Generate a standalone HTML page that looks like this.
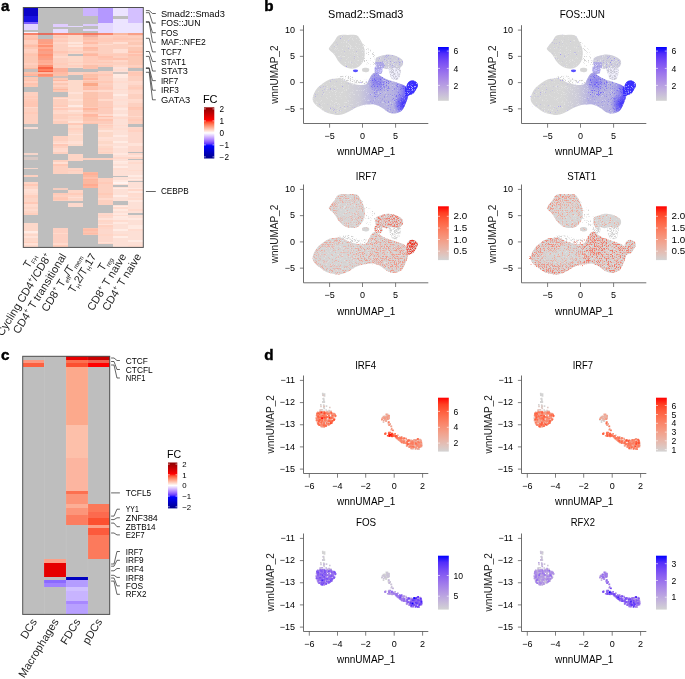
<!DOCTYPE html><html><head><meta charset="utf-8"><style>html,body{margin:0;padding:0;background:#fff;}svg{display:block;font-family:"Liberation Sans",sans-serif;will-change:transform;}</style></head><body><svg width="685" height="679" viewBox="0 0 685 679"><text x="1.10" y="11.20" font-size="15.2" font-weight="bold" fill="#000" stroke="#000" stroke-width="0.45">a</text>
<text x="264.20" y="11.20" font-size="15.2" font-weight="bold" fill="#000" stroke="#000" stroke-width="0.45">b</text>
<text x="1.10" y="359.50" font-size="15.2" font-weight="bold" fill="#000" stroke="#000" stroke-width="0.45">c</text>
<text x="264.20" y="359.70" font-size="15.2" font-weight="bold" fill="#000" stroke="#000" stroke-width="0.45">d</text>
<g shape-rendering="crispEdges">
<rect x="23.30" y="7.50" width="15.00" height="8.50" fill="#0c04c8"/>
<rect x="23.30" y="16.00" width="15.00" height="5.80" fill="#1a12e2"/>
<rect x="23.30" y="21.80" width="15.00" height="1.70" fill="#7b5cff"/>
<rect x="23.30" y="23.50" width="15.00" height="6.50" fill="#e2d4ff"/>
<rect x="23.30" y="30.00" width="15.00" height="1.70" fill="#bebebe"/>
<rect x="23.30" y="31.70" width="15.00" height="1.20" fill="#f4f0ff"/>
<rect x="23.30" y="32.90" width="15.00" height="2.10" fill="#f8826a"/>
<rect x="23.30" y="35.00" width="15.00" height="32.50" fill="#fcc8b4"/>
<rect x="23.30" y="36.30" width="15.00" height="1.80" fill="#ffc4b0"/>
<rect x="23.30" y="38.10" width="15.00" height="1.80" fill="#ffc0ab"/>
<rect x="23.30" y="39.90" width="15.00" height="1.80" fill="#ffcfbe"/>
<rect x="23.30" y="41.70" width="15.00" height="1.80" fill="#ffcfbf"/>
<rect x="23.30" y="45.30" width="15.00" height="1.80" fill="#ffbda7"/>
<rect x="23.30" y="48.90" width="15.00" height="1.80" fill="#ffd1c2"/>
<rect x="23.30" y="50.70" width="15.00" height="1.80" fill="#ffcfbe"/>
<rect x="23.30" y="54.30" width="15.00" height="1.80" fill="#ffc3ae"/>
<rect x="23.30" y="63.30" width="15.00" height="1.80" fill="#ffcebe"/>
<rect x="23.30" y="67.50" width="15.00" height="1.50" fill="#f9b8a0"/>
<rect x="23.30" y="69.00" width="15.00" height="2.60" fill="#c8bebb"/>
<rect x="23.30" y="71.60" width="15.00" height="4.40" fill="#fcc0a8"/>
<rect x="23.30" y="74.10" width="15.00" height="1.80" fill="#ffb59d"/>
<rect x="23.30" y="76.00" width="15.00" height="1.30" fill="#bebebe"/>
<rect x="23.30" y="77.30" width="15.00" height="9.70" fill="#fcc8b4"/>
<rect x="23.30" y="79.50" width="15.00" height="1.80" fill="#ffc2ae"/>
<rect x="23.30" y="81.30" width="15.00" height="1.80" fill="#ffd0c0"/>
<rect x="23.30" y="83.10" width="15.00" height="1.80" fill="#ffc3af"/>
<rect x="23.30" y="87.00" width="15.00" height="4.60" fill="#bebebe"/>
<rect x="23.30" y="91.60" width="15.00" height="32.40" fill="#fdd0c0"/>
<rect x="23.30" y="95.70" width="15.00" height="1.80" fill="#ffcbb9"/>
<rect x="23.30" y="99.30" width="15.00" height="1.80" fill="#ffcab8"/>
<rect x="23.30" y="101.10" width="15.00" height="1.80" fill="#ffc7b4"/>
<rect x="23.30" y="102.90" width="15.00" height="1.80" fill="#ffc6b3"/>
<rect x="23.30" y="104.70" width="15.00" height="1.80" fill="#ffc6b3"/>
<rect x="23.30" y="106.50" width="15.00" height="1.80" fill="#ffd9cc"/>
<rect x="23.30" y="111.90" width="15.00" height="1.80" fill="#ffcbb9"/>
<rect x="23.30" y="124.00" width="15.00" height="3.00" fill="#bebebe"/>
<rect x="23.30" y="127.00" width="15.00" height="1.50" fill="#f8dcd4"/>
<rect x="23.30" y="128.50" width="15.00" height="24.50" fill="#bebebe"/>
<rect x="23.30" y="153.00" width="15.00" height="1.50" fill="#f5d5ca"/>
<rect x="23.30" y="154.50" width="15.00" height="2.20" fill="#bebebe"/>
<rect x="23.30" y="156.70" width="15.00" height="3.70" fill="#d8c8c4"/>
<rect x="23.30" y="160.40" width="15.00" height="7.10" fill="#bebebe"/>
<rect x="23.30" y="167.50" width="15.00" height="1.50" fill="#f5d5ca"/>
<rect x="23.30" y="169.00" width="15.00" height="6.40" fill="#bebebe"/>
<rect x="23.30" y="175.40" width="15.00" height="2.00" fill="#fdd0c0"/>
<rect x="23.30" y="177.40" width="15.00" height="4.40" fill="#bebebe"/>
<rect x="23.30" y="181.80" width="15.00" height="32.90" fill="#fdd5c6"/>
<rect x="23.30" y="183.90" width="15.00" height="1.80" fill="#ffc8b5"/>
<rect x="23.30" y="189.30" width="15.00" height="1.80" fill="#ffe0d5"/>
<rect x="23.30" y="191.10" width="15.00" height="1.80" fill="#ffded2"/>
<rect x="23.30" y="192.90" width="15.00" height="1.80" fill="#ffdacd"/>
<rect x="23.30" y="194.70" width="15.00" height="1.80" fill="#ffd0bf"/>
<rect x="23.30" y="196.50" width="15.00" height="1.80" fill="#ffd0c0"/>
<rect x="23.30" y="201.90" width="15.00" height="1.80" fill="#ffc9b7"/>
<rect x="23.30" y="203.70" width="15.00" height="1.80" fill="#ffdbce"/>
<rect x="23.30" y="205.50" width="15.00" height="1.80" fill="#ffdacd"/>
<rect x="23.30" y="209.10" width="15.00" height="1.80" fill="#ffdbce"/>
<rect x="23.30" y="212.70" width="15.00" height="1.80" fill="#ffcfbe"/>
<rect x="23.30" y="214.70" width="15.00" height="8.30" fill="#bebebe"/>
<rect x="23.30" y="223.00" width="15.00" height="24.40" fill="#fdd8ca"/>
<rect x="23.30" y="230.70" width="15.00" height="1.80" fill="#ffece5"/>
<rect x="23.30" y="232.50" width="15.00" height="1.80" fill="#ffe0d5"/>
<rect x="23.30" y="236.10" width="15.00" height="1.80" fill="#ffe2d8"/>
<rect x="23.30" y="241.50" width="15.00" height="1.80" fill="#ffd1c0"/>
<rect x="23.30" y="243.30" width="15.00" height="1.80" fill="#ffe1d6"/>
<rect x="38.30" y="7.50" width="15.00" height="25.40" fill="#bebebe"/>
<rect x="38.30" y="32.90" width="15.00" height="1.90" fill="#e46e5f"/>
<rect x="38.30" y="34.80" width="15.00" height="4.00" fill="#bebebe"/>
<rect x="38.30" y="38.80" width="15.00" height="28.20" fill="#faa087"/>
<rect x="38.30" y="41.70" width="15.00" height="1.80" fill="#ff9f82"/>
<rect x="38.30" y="43.50" width="15.00" height="1.80" fill="#ffb198"/>
<rect x="38.30" y="45.30" width="15.00" height="1.80" fill="#ff9273"/>
<rect x="38.30" y="47.10" width="15.00" height="1.80" fill="#ffab91"/>
<rect x="38.30" y="48.90" width="15.00" height="1.80" fill="#ff997c"/>
<rect x="38.30" y="54.30" width="15.00" height="1.80" fill="#ff9375"/>
<rect x="38.30" y="56.10" width="15.00" height="1.80" fill="#ff9d80"/>
<rect x="38.30" y="59.70" width="15.00" height="1.80" fill="#ffad94"/>
<rect x="38.30" y="61.50" width="15.00" height="1.80" fill="#ffaa90"/>
<rect x="38.30" y="63.30" width="15.00" height="1.80" fill="#ffb199"/>
<rect x="38.30" y="65.10" width="15.00" height="1.80" fill="#ff9071"/>
<rect x="38.30" y="67.00" width="15.00" height="4.60" fill="#f86446"/>
<rect x="38.30" y="68.70" width="15.00" height="1.80" fill="#ff805f"/>
<rect x="38.30" y="71.60" width="15.00" height="5.60" fill="#fa9a80"/>
<rect x="38.30" y="72.30" width="15.00" height="1.80" fill="#ffb7a0"/>
<rect x="38.30" y="74.10" width="15.00" height="1.80" fill="#ff8d6d"/>
<rect x="38.30" y="77.20" width="15.00" height="170.20" fill="#bebebe"/>
<rect x="53.30" y="7.50" width="15.00" height="16.10" fill="#bebebe"/>
<rect x="53.30" y="23.60" width="15.00" height="3.40" fill="#e0ccff"/>
<rect x="53.30" y="27.00" width="15.00" height="1.50" fill="#bebebe"/>
<rect x="53.30" y="28.50" width="15.00" height="4.50" fill="#e8dcff"/>
<rect x="53.30" y="33.00" width="15.00" height="2.00" fill="#f8826a"/>
<rect x="53.30" y="35.00" width="15.00" height="32.50" fill="#fdd0c0"/>
<rect x="53.30" y="36.30" width="15.00" height="1.80" fill="#ffc8b6"/>
<rect x="53.30" y="39.90" width="15.00" height="1.80" fill="#ffcbba"/>
<rect x="53.30" y="41.70" width="15.00" height="1.80" fill="#ffd6c8"/>
<rect x="53.30" y="50.70" width="15.00" height="1.80" fill="#ffc6b3"/>
<rect x="53.30" y="52.50" width="15.00" height="1.80" fill="#ffccbb"/>
<rect x="53.30" y="56.10" width="15.00" height="1.80" fill="#ffd9cb"/>
<rect x="53.30" y="63.30" width="15.00" height="1.80" fill="#ffccba"/>
<rect x="53.30" y="67.50" width="15.00" height="4.10" fill="#fbb09a"/>
<rect x="53.30" y="71.60" width="15.00" height="4.40" fill="#fcc0a8"/>
<rect x="53.30" y="72.30" width="15.00" height="1.80" fill="#ffbba5"/>
<rect x="53.30" y="76.00" width="15.00" height="2.00" fill="#d0c0bc"/>
<rect x="53.30" y="78.00" width="15.00" height="13.80" fill="#fcc8b4"/>
<rect x="53.30" y="79.50" width="15.00" height="1.80" fill="#ffb9a2"/>
<rect x="53.30" y="81.30" width="15.00" height="1.80" fill="#ffd5c7"/>
<rect x="53.30" y="84.90" width="15.00" height="1.80" fill="#ffd2c2"/>
<rect x="53.30" y="88.50" width="15.00" height="1.80" fill="#ffb7a0"/>
<rect x="53.30" y="91.80" width="15.00" height="4.70" fill="#bebebe"/>
<rect x="53.30" y="96.50" width="15.00" height="27.50" fill="#fdcfbe"/>
<rect x="53.30" y="97.50" width="15.00" height="1.80" fill="#ffdccf"/>
<rect x="53.30" y="104.70" width="15.00" height="1.80" fill="#ffcbb9"/>
<rect x="53.30" y="106.50" width="15.00" height="1.80" fill="#ffdbce"/>
<rect x="53.30" y="108.30" width="15.00" height="1.80" fill="#ffcab9"/>
<rect x="53.30" y="110.10" width="15.00" height="1.80" fill="#ffd7c9"/>
<rect x="53.30" y="111.90" width="15.00" height="1.80" fill="#ffd9cb"/>
<rect x="53.30" y="119.10" width="15.00" height="1.80" fill="#ffd6c8"/>
<rect x="53.30" y="124.00" width="15.00" height="11.60" fill="#bebebe"/>
<rect x="53.30" y="135.60" width="15.00" height="18.40" fill="#fdd0c0"/>
<rect x="53.30" y="140.70" width="15.00" height="1.80" fill="#ffd8ca"/>
<rect x="53.30" y="142.50" width="15.00" height="1.80" fill="#ffe0d5"/>
<rect x="53.30" y="144.30" width="15.00" height="1.80" fill="#ffc8b6"/>
<rect x="53.30" y="147.90" width="15.00" height="1.80" fill="#ffd9cc"/>
<rect x="53.30" y="149.70" width="15.00" height="1.80" fill="#ffdbcf"/>
<rect x="53.30" y="154.00" width="15.00" height="6.40" fill="#bebebe"/>
<rect x="53.30" y="160.40" width="15.00" height="13.10" fill="#fdd0c0"/>
<rect x="53.30" y="162.30" width="15.00" height="1.80" fill="#ffdfd3"/>
<rect x="53.30" y="164.10" width="15.00" height="1.80" fill="#ffc8b5"/>
<rect x="53.30" y="173.50" width="15.00" height="14.50" fill="#bebebe"/>
<rect x="53.30" y="188.00" width="15.00" height="2.00" fill="#f5cdc0"/>
<rect x="53.30" y="190.00" width="15.00" height="2.70" fill="#bebebe"/>
<rect x="53.30" y="192.70" width="15.00" height="8.30" fill="#fdd0c0"/>
<rect x="53.30" y="192.90" width="15.00" height="1.80" fill="#ffcab8"/>
<rect x="53.30" y="196.50" width="15.00" height="1.80" fill="#ffc9b6"/>
<rect x="53.30" y="198.30" width="15.00" height="1.80" fill="#ffc7b4"/>
<rect x="53.30" y="201.00" width="15.00" height="27.00" fill="#bebebe"/>
<rect x="53.30" y="228.00" width="15.00" height="19.40" fill="#fdd0c2"/>
<rect x="53.30" y="232.50" width="15.00" height="1.80" fill="#ffd9cb"/>
<rect x="53.30" y="243.30" width="15.00" height="1.80" fill="#ffdacd"/>
<rect x="53.30" y="245.10" width="15.00" height="1.80" fill="#ffccba"/>
<rect x="68.30" y="7.50" width="15.00" height="18.00" fill="#bebebe"/>
<rect x="68.30" y="25.50" width="15.00" height="1.50" fill="#e4d8ff"/>
<rect x="68.30" y="27.00" width="15.00" height="6.00" fill="#bebebe"/>
<rect x="68.30" y="33.00" width="15.00" height="2.00" fill="#f8866e"/>
<rect x="68.30" y="35.00" width="15.00" height="19.00" fill="#fdd8c8"/>
<rect x="68.30" y="41.70" width="15.00" height="1.80" fill="#ffe5db"/>
<rect x="68.30" y="45.30" width="15.00" height="1.80" fill="#ffe4da"/>
<rect x="68.30" y="47.10" width="15.00" height="1.80" fill="#ffd2c2"/>
<rect x="68.30" y="50.70" width="15.00" height="1.80" fill="#ffcfbf"/>
<rect x="68.30" y="54.00" width="15.00" height="2.30" fill="#bebebe"/>
<rect x="68.30" y="56.30" width="15.00" height="11.40" fill="#fdd8c8"/>
<rect x="68.30" y="61.50" width="15.00" height="1.80" fill="#ffd0c0"/>
<rect x="68.30" y="65.10" width="15.00" height="1.80" fill="#ffcfbf"/>
<rect x="68.30" y="67.70" width="15.00" height="3.90" fill="#bebebe"/>
<rect x="68.30" y="71.60" width="15.00" height="3.40" fill="#fdd0c0"/>
<rect x="68.30" y="75.00" width="15.00" height="5.00" fill="#bebebe"/>
<rect x="68.30" y="80.00" width="15.00" height="65.50" fill="#fddacb"/>
<rect x="68.30" y="92.10" width="15.00" height="1.80" fill="#ffe2d8"/>
<rect x="68.30" y="99.30" width="15.00" height="1.80" fill="#ffe1d6"/>
<rect x="68.30" y="104.70" width="15.00" height="1.80" fill="#ffeae3"/>
<rect x="68.30" y="108.30" width="15.00" height="1.80" fill="#ffd2c2"/>
<rect x="68.30" y="110.10" width="15.00" height="1.80" fill="#ffe2d8"/>
<rect x="68.30" y="113.70" width="15.00" height="1.80" fill="#ffd1c0"/>
<rect x="68.30" y="117.30" width="15.00" height="1.80" fill="#ffd5c6"/>
<rect x="68.30" y="120.90" width="15.00" height="1.80" fill="#ffe3d8"/>
<rect x="68.30" y="122.70" width="15.00" height="1.80" fill="#ffc9b7"/>
<rect x="68.30" y="128.10" width="15.00" height="1.80" fill="#ffd1c1"/>
<rect x="68.30" y="129.90" width="15.00" height="1.80" fill="#ffd6c7"/>
<rect x="68.30" y="133.50" width="15.00" height="1.80" fill="#ffe1d7"/>
<rect x="68.30" y="140.70" width="15.00" height="1.80" fill="#ffe0d5"/>
<rect x="68.30" y="142.50" width="15.00" height="1.80" fill="#ffe1d6"/>
<rect x="68.30" y="145.50" width="15.00" height="8.50" fill="#bebebe"/>
<rect x="68.30" y="154.00" width="15.00" height="7.40" fill="#fdd5c6"/>
<rect x="68.30" y="161.40" width="15.00" height="6.60" fill="#bebebe"/>
<rect x="68.30" y="168.00" width="15.00" height="5.50" fill="#fdd5c6"/>
<rect x="68.30" y="169.50" width="15.00" height="1.80" fill="#ffcebe"/>
<rect x="68.30" y="173.50" width="15.00" height="16.50" fill="#bebebe"/>
<rect x="68.30" y="190.00" width="15.00" height="11.00" fill="#fdd5c6"/>
<rect x="68.30" y="192.90" width="15.00" height="1.80" fill="#ffcbb9"/>
<rect x="68.30" y="196.50" width="15.00" height="1.80" fill="#ffded3"/>
<rect x="68.30" y="201.00" width="15.00" height="2.00" fill="#bebebe"/>
<rect x="68.30" y="203.00" width="15.00" height="3.70" fill="#fcd8cc"/>
<rect x="68.30" y="206.70" width="15.00" height="40.70" fill="#bebebe"/>
<rect x="83.30" y="7.50" width="15.00" height="8.10" fill="#ccb4ff"/>
<rect x="83.30" y="15.60" width="15.00" height="8.00" fill="#bebebe"/>
<rect x="83.30" y="23.60" width="15.00" height="1.90" fill="#dccaff"/>
<rect x="83.30" y="25.50" width="15.00" height="3.50" fill="#bebebe"/>
<rect x="83.30" y="29.00" width="15.00" height="1.50" fill="#e4d8ff"/>
<rect x="83.30" y="30.50" width="15.00" height="2.50" fill="#bebebe"/>
<rect x="83.30" y="33.00" width="15.00" height="2.00" fill="#f6785f"/>
<rect x="83.30" y="35.00" width="15.00" height="2.00" fill="#f0b0a0"/>
<rect x="83.30" y="37.00" width="15.00" height="30.50" fill="#fcc0aa"/>
<rect x="83.30" y="39.90" width="15.00" height="1.80" fill="#ffc8b6"/>
<rect x="83.30" y="41.70" width="15.00" height="1.80" fill="#ffbca6"/>
<rect x="83.30" y="43.50" width="15.00" height="1.80" fill="#ffcfbe"/>
<rect x="83.30" y="45.30" width="15.00" height="1.80" fill="#ffd0c0"/>
<rect x="83.30" y="47.10" width="15.00" height="1.80" fill="#ffbaa4"/>
<rect x="83.30" y="50.70" width="15.00" height="1.80" fill="#ffcebd"/>
<rect x="83.30" y="54.30" width="15.00" height="1.80" fill="#ffb7a0"/>
<rect x="83.30" y="56.10" width="15.00" height="1.80" fill="#ffcab8"/>
<rect x="83.30" y="57.90" width="15.00" height="1.80" fill="#ffcbb9"/>
<rect x="83.30" y="59.70" width="15.00" height="1.80" fill="#ffcbb9"/>
<rect x="83.30" y="61.50" width="15.00" height="1.80" fill="#ffc9b7"/>
<rect x="83.30" y="63.30" width="15.00" height="1.80" fill="#ffcfbe"/>
<rect x="83.30" y="67.50" width="15.00" height="1.50" fill="#fbc0ae"/>
<rect x="83.30" y="69.00" width="15.00" height="3.00" fill="#bebebe"/>
<rect x="83.30" y="72.00" width="15.00" height="5.00" fill="#fcc0a8"/>
<rect x="83.30" y="72.30" width="15.00" height="1.80" fill="#ffcdbb"/>
<rect x="83.30" y="77.00" width="15.00" height="6.00" fill="#fcc4ae"/>
<rect x="83.30" y="77.70" width="15.00" height="1.80" fill="#ffb59d"/>
<rect x="83.30" y="79.50" width="15.00" height="1.80" fill="#ffcdbc"/>
<rect x="83.30" y="83.00" width="15.00" height="3.00" fill="#fba888"/>
<rect x="83.30" y="86.00" width="15.00" height="38.00" fill="#fcc4ae"/>
<rect x="83.30" y="86.70" width="15.00" height="1.80" fill="#ffbfaa"/>
<rect x="83.30" y="88.50" width="15.00" height="1.80" fill="#ffbda7"/>
<rect x="83.30" y="90.30" width="15.00" height="1.80" fill="#ffd6c8"/>
<rect x="83.30" y="97.50" width="15.00" height="1.80" fill="#ffc0ab"/>
<rect x="83.30" y="106.50" width="15.00" height="1.80" fill="#ffcbba"/>
<rect x="83.30" y="108.30" width="15.00" height="1.80" fill="#ffb59d"/>
<rect x="83.30" y="111.90" width="15.00" height="1.80" fill="#ffcebd"/>
<rect x="83.30" y="113.70" width="15.00" height="1.80" fill="#ffb7a0"/>
<rect x="83.30" y="115.50" width="15.00" height="1.80" fill="#ffbaa3"/>
<rect x="83.30" y="120.90" width="15.00" height="1.80" fill="#ffcbb9"/>
<rect x="83.30" y="124.00" width="15.00" height="33.60" fill="#bebebe"/>
<rect x="83.30" y="157.60" width="15.00" height="2.80" fill="#fcd0c0"/>
<rect x="83.30" y="160.40" width="15.00" height="11.20" fill="#bebebe"/>
<rect x="83.30" y="171.60" width="15.00" height="15.90" fill="#fbb8a0"/>
<rect x="83.30" y="173.10" width="15.00" height="1.80" fill="#ffb097"/>
<rect x="83.30" y="176.70" width="15.00" height="1.80" fill="#ffc0ab"/>
<rect x="83.30" y="178.50" width="15.00" height="1.80" fill="#ffb39b"/>
<rect x="83.30" y="183.90" width="15.00" height="1.80" fill="#ffaa90"/>
<rect x="83.30" y="185.70" width="15.00" height="1.80" fill="#ffb39a"/>
<rect x="83.30" y="187.50" width="15.00" height="40.50" fill="#bebebe"/>
<rect x="83.30" y="228.00" width="15.00" height="6.90" fill="#fcc4b0"/>
<rect x="83.30" y="228.90" width="15.00" height="1.80" fill="#ffbca6"/>
<rect x="83.30" y="232.50" width="15.00" height="1.80" fill="#ffbca6"/>
<rect x="83.30" y="234.90" width="15.00" height="12.50" fill="#bebebe"/>
<rect x="98.30" y="7.50" width="15.00" height="15.20" fill="#b498ff"/>
<rect x="98.30" y="22.70" width="15.00" height="10.30" fill="#e4d8ff"/>
<rect x="98.30" y="33.00" width="15.00" height="2.00" fill="#f8866e"/>
<rect x="98.30" y="35.00" width="15.00" height="32.00" fill="#fdd0c0"/>
<rect x="98.30" y="38.10" width="15.00" height="1.80" fill="#ffcbb9"/>
<rect x="98.30" y="39.90" width="15.00" height="1.80" fill="#ffcab8"/>
<rect x="98.30" y="43.50" width="15.00" height="1.80" fill="#ffdacc"/>
<rect x="98.30" y="54.30" width="15.00" height="1.80" fill="#ffcbb9"/>
<rect x="98.30" y="56.10" width="15.00" height="1.80" fill="#ffc1ad"/>
<rect x="98.30" y="57.90" width="15.00" height="1.80" fill="#ffc5b2"/>
<rect x="98.30" y="61.50" width="15.00" height="1.80" fill="#ffc8b5"/>
<rect x="98.30" y="65.10" width="15.00" height="1.80" fill="#ffc9b7"/>
<rect x="98.30" y="67.00" width="15.00" height="4.00" fill="#bebebe"/>
<rect x="98.30" y="71.00" width="15.00" height="14.00" fill="#fdd0c0"/>
<rect x="98.30" y="74.10" width="15.00" height="1.80" fill="#ffc8b6"/>
<rect x="98.30" y="81.30" width="15.00" height="1.80" fill="#ffc9b6"/>
<rect x="98.30" y="85.00" width="15.00" height="39.00" fill="#fdccbc"/>
<rect x="98.30" y="86.70" width="15.00" height="1.80" fill="#ffc8b6"/>
<rect x="98.30" y="90.30" width="15.00" height="1.80" fill="#ffdbce"/>
<rect x="98.30" y="99.30" width="15.00" height="1.80" fill="#ffdacc"/>
<rect x="98.30" y="106.50" width="15.00" height="1.80" fill="#ffc7b4"/>
<rect x="98.30" y="113.70" width="15.00" height="1.80" fill="#ffdacd"/>
<rect x="98.30" y="115.50" width="15.00" height="1.80" fill="#ffc0ac"/>
<rect x="98.30" y="117.30" width="15.00" height="1.80" fill="#ffd4c5"/>
<rect x="98.30" y="119.10" width="15.00" height="1.80" fill="#ffc4b0"/>
<rect x="98.30" y="124.00" width="15.00" height="30.00" fill="#fdd8c8"/>
<rect x="98.30" y="124.50" width="15.00" height="1.80" fill="#ffcdbc"/>
<rect x="98.30" y="126.30" width="15.00" height="1.80" fill="#ffd2c3"/>
<rect x="98.30" y="129.90" width="15.00" height="1.80" fill="#ffe3d9"/>
<rect x="98.30" y="137.10" width="15.00" height="1.80" fill="#ffe0d6"/>
<rect x="98.30" y="138.90" width="15.00" height="1.80" fill="#ffded2"/>
<rect x="98.30" y="144.30" width="15.00" height="1.80" fill="#ffded2"/>
<rect x="98.30" y="147.90" width="15.00" height="1.80" fill="#ffd3c4"/>
<rect x="98.30" y="151.50" width="15.00" height="1.80" fill="#ffd1c0"/>
<rect x="98.30" y="154.00" width="15.00" height="3.60" fill="#bebebe"/>
<rect x="98.30" y="157.60" width="15.00" height="2.80" fill="#fdd0c0"/>
<rect x="98.30" y="160.40" width="15.00" height="17.30" fill="#bebebe"/>
<rect x="98.30" y="177.70" width="15.00" height="27.10" fill="#fdd0c0"/>
<rect x="98.30" y="182.10" width="15.00" height="1.80" fill="#ffcab8"/>
<rect x="98.30" y="192.90" width="15.00" height="1.80" fill="#ffcab7"/>
<rect x="98.30" y="198.30" width="15.00" height="1.80" fill="#ffdacd"/>
<rect x="98.30" y="204.80" width="15.00" height="8.00" fill="#bebebe"/>
<rect x="98.30" y="212.80" width="15.00" height="31.40" fill="#fdd8cc"/>
<rect x="98.30" y="214.50" width="15.00" height="1.80" fill="#ffd4c5"/>
<rect x="98.30" y="218.10" width="15.00" height="1.80" fill="#ffe2d8"/>
<rect x="98.30" y="219.90" width="15.00" height="1.80" fill="#ffd6c7"/>
<rect x="98.30" y="223.50" width="15.00" height="1.80" fill="#ffe2d8"/>
<rect x="98.30" y="225.30" width="15.00" height="1.80" fill="#ffd1c1"/>
<rect x="98.30" y="227.10" width="15.00" height="1.80" fill="#ffd5c7"/>
<rect x="98.30" y="234.30" width="15.00" height="1.80" fill="#ffd5c6"/>
<rect x="98.30" y="241.50" width="15.00" height="1.80" fill="#ffe2d7"/>
<rect x="98.30" y="244.20" width="15.00" height="3.20" fill="#bebebe"/>
<rect x="113.30" y="7.50" width="15.00" height="8.50" fill="#ece4ff"/>
<rect x="113.30" y="16.00" width="15.00" height="3.00" fill="#bebebe"/>
<rect x="113.30" y="19.00" width="15.00" height="14.00" fill="#ece4ff"/>
<rect x="113.30" y="33.00" width="15.00" height="2.00" fill="#fbb8a0"/>
<rect x="113.30" y="35.00" width="15.00" height="32.00" fill="#fdd0c0"/>
<rect x="113.30" y="36.30" width="15.00" height="1.80" fill="#ffcab8"/>
<rect x="113.30" y="38.10" width="15.00" height="1.80" fill="#ffc6b3"/>
<rect x="113.30" y="39.90" width="15.00" height="1.80" fill="#ffccbb"/>
<rect x="113.30" y="41.70" width="15.00" height="1.80" fill="#ffdfd3"/>
<rect x="113.30" y="48.90" width="15.00" height="1.80" fill="#ffdfd4"/>
<rect x="113.30" y="50.70" width="15.00" height="1.80" fill="#ffdfd4"/>
<rect x="113.30" y="54.30" width="15.00" height="1.80" fill="#ffcbb9"/>
<rect x="113.30" y="57.90" width="15.00" height="1.80" fill="#ffc2ae"/>
<rect x="113.30" y="59.70" width="15.00" height="1.80" fill="#ffd7c9"/>
<rect x="113.30" y="65.10" width="15.00" height="1.80" fill="#ffd7c8"/>
<rect x="113.30" y="67.00" width="15.00" height="5.00" fill="#fde0d8"/>
<rect x="113.30" y="68.70" width="15.00" height="1.80" fill="#ffdcd0"/>
<rect x="113.30" y="72.00" width="15.00" height="2.00" fill="#d0c4c0"/>
<rect x="113.30" y="74.00" width="15.00" height="101.90" fill="#fde0d6"/>
<rect x="113.30" y="74.10" width="15.00" height="1.80" fill="#ffeae2"/>
<rect x="113.30" y="75.90" width="15.00" height="1.80" fill="#ffe8e0"/>
<rect x="113.30" y="81.30" width="15.00" height="1.80" fill="#ffdcd0"/>
<rect x="113.30" y="88.50" width="15.00" height="1.80" fill="#ffdbcf"/>
<rect x="113.30" y="93.90" width="15.00" height="1.80" fill="#ffebe4"/>
<rect x="113.30" y="99.30" width="15.00" height="1.80" fill="#ffddd2"/>
<rect x="113.30" y="104.70" width="15.00" height="1.80" fill="#ffdcd0"/>
<rect x="113.30" y="108.30" width="15.00" height="1.80" fill="#ffe7df"/>
<rect x="113.30" y="113.70" width="15.00" height="1.80" fill="#ffe9e1"/>
<rect x="113.30" y="117.30" width="15.00" height="1.80" fill="#ffdacd"/>
<rect x="113.30" y="124.50" width="15.00" height="1.80" fill="#ffdcd0"/>
<rect x="113.30" y="128.10" width="15.00" height="1.80" fill="#ffddd1"/>
<rect x="113.30" y="135.30" width="15.00" height="1.80" fill="#ffe9e2"/>
<rect x="113.30" y="140.70" width="15.00" height="1.80" fill="#ffece4"/>
<rect x="113.30" y="146.10" width="15.00" height="1.80" fill="#ffe7df"/>
<rect x="113.30" y="153.30" width="15.00" height="1.80" fill="#ffe8e0"/>
<rect x="113.30" y="156.90" width="15.00" height="1.80" fill="#ffd8cb"/>
<rect x="113.30" y="160.50" width="15.00" height="1.80" fill="#ffebe4"/>
<rect x="113.30" y="162.30" width="15.00" height="1.80" fill="#ffe8df"/>
<rect x="113.30" y="165.90" width="15.00" height="1.80" fill="#ffebe4"/>
<rect x="113.30" y="167.70" width="15.00" height="1.80" fill="#ffddd1"/>
<rect x="113.30" y="175.90" width="15.00" height="0.90" fill="#bebebe"/>
<rect x="113.30" y="176.80" width="15.00" height="8.20" fill="#fde0d6"/>
<rect x="113.30" y="180.30" width="15.00" height="1.80" fill="#ffe9e1"/>
<rect x="113.30" y="182.10" width="15.00" height="1.80" fill="#fff3ef"/>
<rect x="113.30" y="185.00" width="15.00" height="2.00" fill="#bebebe"/>
<rect x="113.30" y="187.00" width="15.00" height="14.00" fill="#fde0d6"/>
<rect x="113.30" y="187.50" width="15.00" height="1.80" fill="#ffebe4"/>
<rect x="113.30" y="194.70" width="15.00" height="1.80" fill="#ffece6"/>
<rect x="113.30" y="201.00" width="15.00" height="3.80" fill="#bebebe"/>
<rect x="113.30" y="204.80" width="15.00" height="42.60" fill="#fde0d6"/>
<rect x="113.30" y="205.50" width="15.00" height="1.80" fill="#ffeae2"/>
<rect x="113.30" y="207.30" width="15.00" height="1.80" fill="#ffdbce"/>
<rect x="113.30" y="209.10" width="15.00" height="1.80" fill="#ffe9e0"/>
<rect x="113.30" y="212.70" width="15.00" height="1.80" fill="#ffe8e0"/>
<rect x="113.30" y="214.50" width="15.00" height="1.80" fill="#ffddd1"/>
<rect x="113.30" y="216.30" width="15.00" height="1.80" fill="#ffe9e1"/>
<rect x="113.30" y="218.10" width="15.00" height="1.80" fill="#ffe7df"/>
<rect x="113.30" y="219.90" width="15.00" height="1.80" fill="#ffdcd0"/>
<rect x="113.30" y="221.70" width="15.00" height="1.80" fill="#ffe9e1"/>
<rect x="113.30" y="228.90" width="15.00" height="1.80" fill="#ffece5"/>
<rect x="113.30" y="234.30" width="15.00" height="1.80" fill="#ffdccf"/>
<rect x="113.30" y="236.10" width="15.00" height="1.80" fill="#ffece5"/>
<rect x="128.30" y="7.50" width="15.00" height="15.20" fill="#d4c0ff"/>
<rect x="128.30" y="22.70" width="15.00" height="10.30" fill="#ece4ff"/>
<rect x="128.30" y="33.00" width="15.00" height="2.00" fill="#f8a088"/>
<rect x="128.30" y="35.00" width="15.00" height="32.50" fill="#fcc8b4"/>
<rect x="128.30" y="36.30" width="15.00" height="1.80" fill="#ffcebd"/>
<rect x="128.30" y="39.90" width="15.00" height="1.80" fill="#ffcfbe"/>
<rect x="128.30" y="45.30" width="15.00" height="1.80" fill="#ffd5c6"/>
<rect x="128.30" y="50.70" width="15.00" height="1.80" fill="#ffbfa9"/>
<rect x="128.30" y="52.50" width="15.00" height="1.80" fill="#ffcfbe"/>
<rect x="128.30" y="54.30" width="15.00" height="1.80" fill="#ffc0ac"/>
<rect x="128.30" y="65.10" width="15.00" height="1.80" fill="#ffd0c0"/>
<rect x="128.30" y="67.50" width="15.00" height="3.50" fill="#bebebe"/>
<rect x="128.30" y="71.00" width="15.00" height="53.00" fill="#fdd0c0"/>
<rect x="128.30" y="72.30" width="15.00" height="1.80" fill="#ffc7b4"/>
<rect x="128.30" y="74.10" width="15.00" height="1.80" fill="#ffc8b5"/>
<rect x="128.30" y="81.30" width="15.00" height="1.80" fill="#ffdacd"/>
<rect x="128.30" y="83.10" width="15.00" height="1.80" fill="#ffd8cb"/>
<rect x="128.30" y="86.70" width="15.00" height="1.80" fill="#ffcbb9"/>
<rect x="128.30" y="90.30" width="15.00" height="1.80" fill="#ffd7c9"/>
<rect x="128.30" y="92.10" width="15.00" height="1.80" fill="#ffd8cb"/>
<rect x="128.30" y="99.30" width="15.00" height="1.80" fill="#ffdbce"/>
<rect x="128.30" y="101.10" width="15.00" height="1.80" fill="#ffd9cb"/>
<rect x="128.30" y="106.50" width="15.00" height="1.80" fill="#ffc6b2"/>
<rect x="128.30" y="108.30" width="15.00" height="1.80" fill="#ffc8b5"/>
<rect x="128.30" y="115.50" width="15.00" height="1.80" fill="#ffd9cb"/>
<rect x="128.30" y="119.10" width="15.00" height="1.80" fill="#ffcbb9"/>
<rect x="128.30" y="124.00" width="15.00" height="2.70" fill="#bebebe"/>
<rect x="128.30" y="126.70" width="15.00" height="24.80" fill="#fdd8cc"/>
<rect x="128.30" y="128.10" width="15.00" height="1.80" fill="#ffd5c7"/>
<rect x="128.30" y="129.90" width="15.00" height="1.80" fill="#ffd1c2"/>
<rect x="128.30" y="142.50" width="15.00" height="1.80" fill="#ffe3d9"/>
<rect x="128.30" y="144.30" width="15.00" height="1.80" fill="#ffe3d9"/>
<rect x="128.30" y="151.50" width="15.00" height="1.50" fill="#bebebe"/>
<rect x="128.30" y="153.00" width="15.00" height="6.00" fill="#fdd8cc"/>
<rect x="128.30" y="155.10" width="15.00" height="1.80" fill="#ffe3d9"/>
<rect x="128.30" y="156.90" width="15.00" height="1.80" fill="#ffd5c6"/>
<rect x="128.30" y="159.00" width="15.00" height="1.00" fill="#bebebe"/>
<rect x="128.30" y="160.00" width="15.00" height="20.50" fill="#fde0d6"/>
<rect x="128.30" y="162.30" width="15.00" height="1.80" fill="#ffdacd"/>
<rect x="128.30" y="169.50" width="15.00" height="1.80" fill="#ffdbce"/>
<rect x="128.30" y="174.90" width="15.00" height="1.80" fill="#ffebe4"/>
<rect x="128.30" y="178.50" width="15.00" height="1.80" fill="#ffebe3"/>
<rect x="128.30" y="180.50" width="15.00" height="1.00" fill="#bebebe"/>
<rect x="128.30" y="181.50" width="15.00" height="31.30" fill="#fde0d6"/>
<rect x="128.30" y="187.50" width="15.00" height="1.80" fill="#ffe7df"/>
<rect x="128.30" y="189.30" width="15.00" height="1.80" fill="#ffd7c9"/>
<rect x="128.30" y="191.10" width="15.00" height="1.80" fill="#ffe8e0"/>
<rect x="128.30" y="192.90" width="15.00" height="1.80" fill="#ffdbce"/>
<rect x="128.30" y="194.70" width="15.00" height="1.80" fill="#ffdcd0"/>
<rect x="128.30" y="198.30" width="15.00" height="1.80" fill="#ffdbce"/>
<rect x="128.30" y="200.10" width="15.00" height="1.80" fill="#ffe8e0"/>
<rect x="128.30" y="209.10" width="15.00" height="1.80" fill="#ffd9cc"/>
<rect x="128.30" y="212.80" width="15.00" height="1.90" fill="#bebebe"/>
<rect x="128.30" y="214.70" width="15.00" height="32.70" fill="#fde0d6"/>
<rect x="128.30" y="218.10" width="15.00" height="1.80" fill="#ffe9e1"/>
<rect x="128.30" y="225.30" width="15.00" height="1.80" fill="#ffe9e1"/>
<rect x="128.30" y="227.10" width="15.00" height="1.80" fill="#ffeae2"/>
<rect x="128.30" y="228.90" width="15.00" height="1.80" fill="#ffdcd0"/>
<rect x="128.30" y="239.70" width="15.00" height="1.80" fill="#ffebe4"/>
<rect x="128.30" y="245.10" width="15.00" height="1.80" fill="#ffdcd0"/>
</g>
<rect x="23.30" y="7.50" width="120.00" height="239.90" fill="none" stroke="#505050" stroke-width="1.0"/>
<polyline points="145.90,10.60 149.20,10.60 152.50,13.50 155.80,13.50" fill="none" stroke="#222" stroke-width="0.7"/>
<text x="160.90" y="16.70" font-size="8.9" textLength="63.90" lengthAdjust="spacingAndGlyphs" >Smad2::Smad3</text>
<polyline points="145.90,12.70 149.20,12.70 152.50,23.09 155.80,23.09" fill="none" stroke="#222" stroke-width="0.7"/>
<text x="160.90" y="26.29" font-size="8.9" textLength="39.51" lengthAdjust="spacingAndGlyphs" >FOS::JUN</text>
<polyline points="145.90,21.70 149.20,21.70 152.50,32.68 155.80,32.68" fill="none" stroke="#222" stroke-width="0.7"/>
<text x="160.90" y="35.88" font-size="8.9" textLength="17.31" lengthAdjust="spacingAndGlyphs" >FOS</text>
<polyline points="145.90,22.30 149.20,22.30 152.50,42.27 155.80,42.27" fill="none" stroke="#222" stroke-width="0.7"/>
<text x="160.90" y="45.47" font-size="8.9" textLength="44.90" lengthAdjust="spacingAndGlyphs" >MAF::NFE2</text>
<polyline points="145.90,38.30 149.20,38.30 152.50,51.86 155.80,51.86" fill="none" stroke="#222" stroke-width="0.7"/>
<text x="160.90" y="55.06" font-size="8.9" textLength="20.60" lengthAdjust="spacingAndGlyphs" >TCF7</text>
<polyline points="145.90,51.50 149.20,51.50 152.50,61.45 155.80,61.45" fill="none" stroke="#222" stroke-width="0.7"/>
<text x="160.90" y="64.65" font-size="8.9" textLength="25.01" lengthAdjust="spacingAndGlyphs" >STAT1</text>
<polyline points="145.90,56.40 149.20,56.40 152.50,71.04 155.80,71.04" fill="none" stroke="#222" stroke-width="0.7"/>
<text x="160.90" y="74.24" font-size="8.9" textLength="27.01" lengthAdjust="spacingAndGlyphs" >STAT3</text>
<polyline points="145.90,67.80 149.20,67.80 152.50,80.63 155.80,80.63" fill="none" stroke="#222" stroke-width="0.7"/>
<text x="160.90" y="83.83" font-size="8.9" textLength="17.30" lengthAdjust="spacingAndGlyphs" >IRF7</text>
<polyline points="145.90,68.50 149.20,68.50 152.50,90.22 155.80,90.22" fill="none" stroke="#222" stroke-width="0.7"/>
<text x="160.90" y="93.42" font-size="8.9" textLength="18.00" lengthAdjust="spacingAndGlyphs" >IRF3</text>
<polyline points="145.90,72.30 149.20,72.30 152.50,99.81 155.80,99.81" fill="none" stroke="#222" stroke-width="0.7"/>
<text x="160.90" y="103.01" font-size="8.9" textLength="29.20" lengthAdjust="spacingAndGlyphs" >GATA3</text>
<line x1="145.90" y1="191.5" x2="155.80" y2="191.5" stroke="#222" stroke-width="0.7"/>
<text x="160.90" y="194.20" font-size="8.9" textLength="27.70" lengthAdjust="spacingAndGlyphs" >CEBPB</text>
<defs><linearGradient id="fcg107" x1="0" y1="0" x2="0" y2="1"><stop offset="0.0000" stop-color="#8b0000"/><stop offset="0.0417" stop-color="#9d0002"/><stop offset="0.0833" stop-color="#b00002"/><stop offset="0.1250" stop-color="#c30002"/><stop offset="0.1667" stop-color="#d70002"/><stop offset="0.2083" stop-color="#eb0001"/><stop offset="0.2500" stop-color="#ff0000"/><stop offset="0.2917" stop-color="#ff5232"/><stop offset="0.3333" stop-color="#ff7b5a"/><stop offset="0.3750" stop-color="#ff9e81"/><stop offset="0.4167" stop-color="#ffbfaa"/><stop offset="0.4583" stop-color="#ffdfd4"/><stop offset="0.5000" stop-color="#ffffff"/><stop offset="0.5417" stop-color="#e8d8ff"/><stop offset="0.5833" stop-color="#cfb1ff"/><stop offset="0.6250" stop-color="#b38bff"/><stop offset="0.6667" stop-color="#9265ff"/><stop offset="0.7083" stop-color="#673dff"/><stop offset="0.7500" stop-color="#0000ff"/><stop offset="0.7917" stop-color="#0000eb"/><stop offset="0.8333" stop-color="#0000d7"/><stop offset="0.8750" stop-color="#0000c3"/><stop offset="0.9167" stop-color="#0000b0"/><stop offset="0.9583" stop-color="#00009d"/><stop offset="1.0000" stop-color="#00008b"/></linearGradient></defs>
<rect x="204.00" y="107.30" width="10.3" height="51.20" fill="url(#fcg107)"/>
<line x1="204.00" y1="108.90" x2="205.80" y2="108.90" stroke="#fff" stroke-width="0.6"/>
<line x1="212.50" y1="108.90" x2="214.30" y2="108.90" stroke="#fff" stroke-width="0.6"/>
<text x="219.60" y="111.85" font-size="8.2" >2</text>
<line x1="204.00" y1="120.90" x2="205.80" y2="120.90" stroke="#fff" stroke-width="0.6"/>
<line x1="212.50" y1="120.90" x2="214.30" y2="120.90" stroke="#fff" stroke-width="0.6"/>
<text x="219.60" y="123.85" font-size="8.2" >1</text>
<line x1="204.00" y1="132.90" x2="205.80" y2="132.90" stroke="#fff" stroke-width="0.6"/>
<line x1="212.50" y1="132.90" x2="214.30" y2="132.90" stroke="#fff" stroke-width="0.6"/>
<text x="219.60" y="135.85" font-size="8.2" >0</text>
<line x1="204.00" y1="144.90" x2="205.80" y2="144.90" stroke="#fff" stroke-width="0.6"/>
<line x1="212.50" y1="144.90" x2="214.30" y2="144.90" stroke="#fff" stroke-width="0.6"/>
<text x="219.60" y="147.85" font-size="8.2" >−1</text>
<line x1="204.00" y1="156.90" x2="205.80" y2="156.90" stroke="#fff" stroke-width="0.6"/>
<line x1="212.50" y1="156.90" x2="214.30" y2="156.90" stroke="#fff" stroke-width="0.6"/>
<text x="219.60" y="159.85" font-size="8.2" >−2</text>
<text x="202.90" y="102.60" font-size="11.0" >FC</text>
<text transform="translate(36.80,256.30) rotate(-58.5)" x="0" y="0" text-anchor="end" font-size="11.0" fill="#222"><tspan>T</tspan><tspan dy="2.4" font-size="6.2">FH</tspan></text>
<text transform="translate(51.80,256.30) rotate(-58.5)" x="0" y="0" text-anchor="end" font-size="11.0" fill="#222"><tspan>Cycling CD4</tspan><tspan dy="-4.2" font-size="7.0">+</tspan><tspan dy="4.2">/CD8</tspan><tspan dy="-4.2" font-size="7.0">+</tspan></text>
<text transform="translate(66.80,256.30) rotate(-58.5)" x="0" y="0" text-anchor="end" font-size="11.0" fill="#222"><tspan>CD4</tspan><tspan dy="-4.2" font-size="7.0">+</tspan><tspan dy="4.2"> T transitional</tspan></text>
<text transform="translate(81.80,256.30) rotate(-58.5)" x="0" y="0" text-anchor="end" font-size="11.0" fill="#222"><tspan>CD8</tspan><tspan dy="-4.2" font-size="7.0">+</tspan><tspan dy="4.2"> T</tspan><tspan dy="2.4" font-size="6.2">eff</tspan><tspan dy="-2.4">/T</tspan><tspan dy="2.4" font-size="6.2">mem</tspan></text>
<text transform="translate(96.80,256.30) rotate(-58.5)" x="0" y="0" text-anchor="end" font-size="11.0" fill="#222"><tspan>T</tspan><tspan dy="2.4" font-size="6.2">H</tspan><tspan dy="-2.4">2/T</tspan><tspan dy="2.4" font-size="6.2">H</tspan><tspan dy="-2.4">17</tspan></text>
<text transform="translate(111.80,256.30) rotate(-58.5)" x="-1.7" y="1.0" text-anchor="end" font-size="11.0" fill="#222"><tspan>T</tspan><tspan dy="2.4" font-size="6.2">reg</tspan></text>
<text transform="translate(126.80,256.30) rotate(-58.5)" x="0" y="0" text-anchor="end" font-size="11.0" fill="#222"><tspan>CD8</tspan><tspan dy="-4.2" font-size="7.0">+</tspan><tspan dy="4.2"> T naive</tspan></text>
<text transform="translate(141.80,256.30) rotate(-58.5)" x="0" y="0" text-anchor="end" font-size="11.0" fill="#222"><tspan>CD4</tspan><tspan dy="-4.2" font-size="7.0">+</tspan><tspan dy="4.2"> T naive</tspan></text>
<g transform="translate(0.0,0.0)">
<path d="M338.6,35.4 C340.8,34.4 344.7,34.9 347.8,34.9 C350.9,34.9 354.8,34.4 357.0,35.4 C359.2,36.4 359.9,38.9 361.1,41.0 C362.3,43.1 363.6,45.8 364.2,48.2 C364.8,50.6 364.9,53.1 364.7,55.3 C364.5,57.5 364.1,59.6 363.1,61.5 C362.2,63.4 360.5,65.4 359.0,66.6 C357.5,67.8 355.8,68.3 353.9,68.6 C352.0,68.8 349.7,68.6 347.8,68.1 C345.9,67.6 344.2,66.7 342.7,65.6 C341.2,64.5 339.8,63.0 338.6,61.5 C337.4,60.0 336.5,57.9 335.5,56.4 C334.5,54.9 333.6,54.0 332.5,52.8 C331.4,51.6 329.2,50.3 328.9,49.2 C328.5,48.1 329.5,47.5 330.4,46.1 C331.3,44.7 333.1,42.8 334.5,41.0 C335.9,39.2 336.4,36.4 338.6,35.4Z" fill="#d6d6d6"/>
<path d="M312.7,99.8 C312.4,98.1 312.9,96.2 313.7,94.2 C314.5,92.2 315.7,90.0 317.3,88.1 C318.9,86.2 321.4,84.5 323.4,83.0 C325.4,81.5 327.4,80.2 329.5,79.4 C331.6,78.6 333.8,78.6 335.7,78.4 C337.6,78.2 338.8,77.6 340.8,78.2 C342.8,78.8 345.7,80.9 347.9,81.9 C350.1,82.9 351.9,83.5 354.0,84.0 C356.1,84.5 358.1,85.0 360.2,85.0 C362.2,85.0 364.7,85.2 366.3,84.0 C367.9,82.8 368.8,79.5 369.9,77.7 C371.0,75.9 372.1,74.1 373.2,73.3 C374.3,72.5 375.5,72.4 376.6,72.8 C377.7,73.2 378.4,74.5 379.9,75.5 C381.4,76.5 383.4,77.9 385.4,78.8 C387.4,79.7 389.8,80.3 392.0,81.0 C394.2,81.7 396.6,82.5 398.6,83.2 C400.6,83.9 402.7,84.5 404.2,85.4 C405.7,86.3 406.8,87.5 407.5,88.8 C408.2,90.1 408.6,91.5 408.6,93.2 C408.6,94.9 408.1,96.9 407.5,98.7 C406.9,100.5 406.1,102.4 405.3,104.2 C404.5,106.0 403.6,108.3 402.5,109.7 C401.4,111.1 400.2,111.8 398.6,112.5 C397.0,113.2 394.9,113.7 393.1,113.6 C391.3,113.5 389.2,112.7 387.6,111.9 C386.0,111.1 384.7,109.6 383.2,108.6 C381.7,107.6 380.5,106.6 378.8,105.9 C377.1,105.2 375.2,104.4 373.2,104.2 C371.2,104.0 368.8,104.3 366.6,104.6 C364.4,104.9 362.1,105.4 360.2,106.0 C358.3,106.6 356.8,107.2 355.1,108.0 C353.4,108.8 351.7,110.2 350.0,111.1 C348.3,112.0 346.8,112.9 344.9,113.6 C343.0,114.3 340.9,115.0 338.7,115.1 C336.5,115.2 333.8,114.6 331.6,114.1 C329.4,113.6 327.3,113.0 325.4,112.1 C323.5,111.2 322.0,109.8 320.3,108.5 C318.6,107.2 316.5,105.9 315.2,104.4 C313.9,103.0 312.9,101.5 312.7,99.8Z" fill="#d6d6d6"/>
<path d="M376.6,57.8 C377.7,57.0 380.1,56.1 382.1,55.6 C384.1,55.1 386.3,54.4 388.7,54.5 C391.1,54.6 394.2,55.4 396.4,56.2 C398.6,57.0 400.9,58.3 402.0,59.5 C403.1,60.7 403.2,62.2 403.1,63.4 C403.0,64.6 402.2,65.9 401.4,66.7 C400.6,67.5 399.9,68.1 398.1,68.3 C396.4,68.5 392.8,67.7 390.9,67.8 C389.0,67.9 388.0,68.9 386.5,68.9 C385.0,68.9 383.6,68.0 382.1,67.8 C380.6,67.6 378.8,68.3 377.7,67.8 C376.6,67.2 375.9,65.8 375.5,64.5 C375.1,63.2 375.3,61.2 375.5,60.1 C375.7,59.0 375.5,58.5 376.6,57.8Z" fill="#d6d6d6"/>
<path d="M406.5,86.5 C406.7,84.3 407.9,82.8 409.0,81.8 C410.1,80.8 411.7,80.4 413.0,80.6 C414.3,80.8 416.1,81.9 416.9,82.8 C417.7,83.7 417.9,84.9 417.8,86.0 C417.7,87.1 416.7,88.3 416.0,89.5 C415.3,90.7 414.4,92.4 413.5,93.2 C412.6,94.0 411.4,94.3 410.5,94.6 C409.6,94.9 408.5,96.3 407.8,95.0 C407.1,93.7 406.3,88.7 406.5,86.5Z" fill="#d6d6d6"/>
<path d="M362.4,68.6 C362.9,68.0 364.4,67.7 365.5,67.7 C366.6,67.7 368.2,68.0 368.8,68.6 C369.4,69.2 369.4,70.6 368.8,71.2 C368.2,71.8 366.6,72.2 365.5,72.2 C364.4,72.2 362.9,71.9 362.4,71.3 C361.9,70.7 361.9,69.2 362.4,68.6Z" fill="#d6d6d6"/>
<defs><filter id="sp1" x="0" y="0" width="1" height="1" color-interpolation-filters="sRGB"><feTurbulence type="fractalNoise" baseFrequency="1.5" numOctaves="1" seed="40"/><feColorMatrix type="matrix" values="0 0 0 0 0.816  0 0 0 0 0.816  0 0 0 0 0.816  6 0 0 0 -2.581"/></filter></defs>
<defs><clipPath id="cp1"><path d="M389.0,67.5 C390.7,66.6 397.6,66.6 399.5,67.5 C401.4,68.4 400.8,71.0 400.5,73.0 C400.2,75.0 399.4,78.5 398.0,79.5 C396.6,80.5 393.4,80.1 392.0,79.0 C390.6,77.9 390.0,74.9 389.5,73.0 C389.0,71.1 387.3,68.4 389.0,67.5Z"/></clipPath></defs>
<g clip-path="url(#cp1)"><rect x="388.0" y="66.5" width="13.5" height="14.0" filter="url(#sp1)" opacity="1.0"/></g>
<defs><filter id="sp2" x="0" y="0" width="1" height="1" color-interpolation-filters="sRGB"><feTurbulence type="fractalNoise" baseFrequency="1.5" numOctaves="1" seed="41"/><feColorMatrix type="matrix" values="0 0 0 0 0.816  0 0 0 0 0.816  0 0 0 0 0.816  6 0 0 0 -2.337"/></filter></defs>
<defs><clipPath id="cp2"><path d="M375.5,66.5 C376.8,66.1 381.0,66.3 382.0,67.5 C383.0,68.7 382.5,72.5 381.5,73.5 C380.5,74.5 377.2,74.1 376.0,73.5 C374.8,72.9 374.6,71.2 374.5,70.0 C374.4,68.8 374.2,66.9 375.5,66.5Z"/></clipPath></defs>
<g clip-path="url(#cp2)"><rect x="373.5" y="65.5" width="9.5" height="9.0" filter="url(#sp2)" opacity="1.0"/></g>
<defs><filter id="sp3" x="0" y="0" width="1" height="1" color-interpolation-filters="sRGB"><feTurbulence type="fractalNoise" baseFrequency="1.5" numOctaves="1" seed="42"/><feColorMatrix type="matrix" values="0 0 0 0 0.816  0 0 0 0 0.816  0 0 0 0 0.816  6 0 0 0 -3.358"/></filter></defs>
<defs><clipPath id="cp3"><path d="M361.0,40.0 C361.5,39.5 365.5,44.3 368.0,47.0 C370.5,49.7 374.8,52.8 376.0,56.0 C377.2,59.2 376.2,64.3 375.0,66.0 C373.8,67.7 370.8,66.7 369.0,66.0 C367.2,65.3 364.7,64.7 364.0,62.0 C363.3,59.3 365.5,53.7 365.0,50.0 C364.5,46.3 360.5,40.5 361.0,40.0Z"/></clipPath></defs>
<g clip-path="url(#cp3)"><rect x="360.0" y="39.0" width="17.0" height="28.0" filter="url(#sp3)" opacity="1.0"/></g>
<defs><filter id="sp4" x="0" y="0" width="1" height="1" color-interpolation-filters="sRGB"><feTurbulence type="fractalNoise" baseFrequency="1.5" numOctaves="1" seed="43"/><feColorMatrix type="matrix" values="0 0 0 0 0.816  0 0 0 0 0.816  0 0 0 0 0.816  6 0 0 0 -2.836"/></filter></defs>
<defs><clipPath id="cp4"><path d="M338.0,76.5 C339.5,76.1 346.7,75.4 350.0,76.0 C353.3,76.6 355.3,79.3 358.0,80.0 C360.7,80.7 364.7,79.3 366.0,80.0 C367.3,80.7 368.0,83.3 366.0,84.0 C364.0,84.7 357.0,84.3 354.0,84.0 C351.0,83.7 350.1,82.9 347.9,81.9 C345.7,80.9 342.4,79.1 340.8,78.2 C339.2,77.3 336.5,76.9 338.0,76.5Z"/></clipPath></defs>
<g clip-path="url(#cp4)"><rect x="337.0" y="75.0" width="30.0" height="10.0" filter="url(#sp4)" opacity="1.0"/></g>
<defs><clipPath id="cp5"><path d="M312.7,99.8 C312.4,98.1 312.9,96.2 313.7,94.2 C314.5,92.2 315.7,90.0 317.3,88.1 C318.9,86.2 321.4,84.5 323.4,83.0 C325.4,81.5 327.4,80.2 329.5,79.4 C331.6,78.6 333.8,78.6 335.7,78.4 C337.6,78.2 338.8,77.6 340.8,78.2 C342.8,78.8 345.7,80.9 347.9,81.9 C350.1,82.9 351.9,83.5 354.0,84.0 C356.1,84.5 358.1,85.0 360.2,85.0 C362.2,85.0 364.7,85.2 366.3,84.0 C367.9,82.8 368.8,79.5 369.9,77.7 C371.0,75.9 372.1,74.1 373.2,73.3 C374.3,72.5 375.5,72.4 376.6,72.8 C377.7,73.2 378.4,74.5 379.9,75.5 C381.4,76.5 383.4,77.9 385.4,78.8 C387.4,79.7 389.8,80.3 392.0,81.0 C394.2,81.7 396.6,82.5 398.6,83.2 C400.6,83.9 402.7,84.5 404.2,85.4 C405.7,86.3 406.8,87.5 407.5,88.8 C408.2,90.1 408.6,91.5 408.6,93.2 C408.6,94.9 408.1,96.9 407.5,98.7 C406.9,100.5 406.1,102.4 405.3,104.2 C404.5,106.0 403.6,108.3 402.5,109.7 C401.4,111.1 400.2,111.8 398.6,112.5 C397.0,113.2 394.9,113.7 393.1,113.6 C391.3,113.5 389.2,112.7 387.6,111.9 C386.0,111.1 384.7,109.6 383.2,108.6 C381.7,107.6 380.5,106.6 378.8,105.9 C377.1,105.2 375.2,104.4 373.2,104.2 C371.2,104.0 368.8,104.3 366.6,104.6 C364.4,104.9 362.1,105.4 360.2,106.0 C358.3,106.6 356.8,107.2 355.1,108.0 C353.4,108.8 351.7,110.2 350.0,111.1 C348.3,112.0 346.8,112.9 344.9,113.6 C343.0,114.3 340.9,115.0 338.7,115.1 C336.5,115.2 333.8,114.6 331.6,114.1 C329.4,113.6 327.3,113.0 325.4,112.1 C323.5,111.2 322.0,109.8 320.3,108.5 C318.6,107.2 316.5,105.9 315.2,104.4 C313.9,103.0 312.9,101.5 312.7,99.8Z"/><path d="M406.5,86.5 C406.7,84.3 407.9,82.8 409.0,81.8 C410.1,80.8 411.7,80.4 413.0,80.6 C414.3,80.8 416.1,81.9 416.9,82.8 C417.7,83.7 417.9,84.9 417.8,86.0 C417.7,87.1 416.7,88.3 416.0,89.5 C415.3,90.7 414.4,92.4 413.5,93.2 C412.6,94.0 411.4,94.3 410.5,94.6 C409.6,94.9 408.5,96.3 407.8,95.0 C407.1,93.7 406.3,88.7 406.5,86.5Z"/></clipPath></defs>
<defs><linearGradient id="gB0" gradientUnits="userSpaceOnUse" x1="345" y1="0" x2="409" y2="0"><stop offset="0.000" stop-color="#5848ff" stop-opacity="0"/><stop offset="0.234" stop-color="#5848ff" stop-opacity="0.08"/><stop offset="0.422" stop-color="#5848ff" stop-opacity="0.26"/><stop offset="0.625" stop-color="#5848ff" stop-opacity="0.22"/><stop offset="0.766" stop-color="#5848ff" stop-opacity="0.26"/><stop offset="0.859" stop-color="#5848ff" stop-opacity="0.45"/><stop offset="0.938" stop-color="#5848ff" stop-opacity="0.78"/><stop offset="1.000" stop-color="#5848ff" stop-opacity="0.95"/></linearGradient><radialGradient id="gR0" gradientUnits="userSpaceOnUse" cx="403" cy="104" r="10"><stop offset="0" stop-color="#1a0aff" stop-opacity="0.6"/><stop offset="1" stop-color="#1a0aff" stop-opacity="0"/></radialGradient><radialGradient id="gT0" gradientUnits="userSpaceOnUse" cx="378" cy="82" r="11"><stop offset="0" stop-color="#4a38ff" stop-opacity="0.45"/><stop offset="1" stop-color="#4a38ff" stop-opacity="0"/></radialGradient></defs>
<g clip-path="url(#cp5)"><rect x="340" y="70" width="80" height="47" fill="url(#gB0)"/><rect x="340" y="70" width="80" height="47" fill="url(#gR0)"/><rect x="340" y="70" width="80" height="47" fill="url(#gT0)"/><rect x="405" y="78" width="15" height="18" fill="#2a20ff" opacity="0.72"/></g>
<defs><clipPath id="cp6"><path d="M376.6,57.8 C377.7,57.0 380.1,56.1 382.1,55.6 C384.1,55.1 386.3,54.4 388.7,54.5 C391.1,54.6 394.2,55.4 396.4,56.2 C398.6,57.0 400.9,58.3 402.0,59.5 C403.1,60.7 403.2,62.2 403.1,63.4 C403.0,64.6 402.2,65.9 401.4,66.7 C400.6,67.5 399.9,68.1 398.1,68.3 C396.4,68.5 392.8,67.7 390.9,67.8 C389.0,67.9 388.0,68.9 386.5,68.9 C385.0,68.9 383.6,68.0 382.1,67.8 C380.6,67.6 378.8,68.3 377.7,67.8 C376.6,67.2 375.9,65.8 375.5,64.5 C375.1,63.2 375.3,61.2 375.5,60.1 C375.7,59.0 375.5,58.5 376.6,57.8Z"/><path d="M389.0,67.5 C390.7,66.6 397.6,66.6 399.5,67.5 C401.4,68.4 400.8,71.0 400.5,73.0 C400.2,75.0 399.4,78.5 398.0,79.5 C396.6,80.5 393.4,80.1 392.0,79.0 C390.6,77.9 390.0,74.9 389.5,73.0 C389.0,71.1 387.3,68.4 389.0,67.5Z"/><path d="M375.5,66.5 C376.8,66.1 381.0,66.3 382.0,67.5 C383.0,68.7 382.5,72.5 381.5,73.5 C380.5,74.5 377.2,74.1 376.0,73.5 C374.8,72.9 374.6,71.2 374.5,70.0 C374.4,68.8 374.2,66.9 375.5,66.5Z"/></clipPath></defs>
<g clip-path="url(#cp6)"><rect x="372" y="52" width="35" height="30" fill="#9088f0" opacity="0.13"/><rect x="374" y="62" width="10" height="14" fill="#6a58ff" opacity="0.3"/></g>
<defs><linearGradient id="mk1g" gradientUnits="userSpaceOnUse" x1="380" y1="0" x2="409" y2="0"><stop offset="0" stop-color="#fff" stop-opacity="0.3"/><stop offset="1" stop-color="#fff" stop-opacity="1.0"/></linearGradient><mask id="mk1" maskUnits="userSpaceOnUse" x="300" y="20" width="130" height="110"><rect x="300" y="20" width="130" height="110" fill="url(#mk1g)"/></mask></defs>
<defs><filter id="sp5" x="0" y="0" width="1" height="1" color-interpolation-filters="sRGB"><feTurbulence type="fractalNoise" baseFrequency="1.5" numOctaves="1" seed="3"/><feColorMatrix type="matrix" values="0 0 0 0 0.220  0 0 0 0 0.157  0 0 0 0 1.000  6 0 0 0 -3.463"/></filter></defs>
<defs><clipPath id="cp7"><path d="M372.0,78.0 C372.8,72.8 375.3,73.2 376.6,72.8 C377.9,72.4 378.4,74.5 379.9,75.5 C381.4,76.5 383.4,77.9 385.4,78.8 C387.4,79.7 389.8,80.3 392.0,81.0 C394.2,81.7 396.6,82.5 398.6,83.2 C400.6,83.9 402.7,84.5 404.2,85.4 C405.7,86.3 406.8,87.5 407.5,88.8 C408.2,90.1 408.6,91.5 408.6,93.2 C408.6,94.9 408.1,96.9 407.5,98.7 C406.9,100.5 406.1,102.4 405.3,104.2 C404.5,106.0 403.6,108.3 402.5,109.7 C401.4,111.1 400.2,111.8 398.6,112.5 C397.0,113.2 394.9,113.7 393.1,113.6 C391.3,113.5 389.2,112.7 387.6,111.9 C386.0,111.1 384.7,109.6 383.2,108.6 C381.7,107.6 380.5,106.6 378.8,105.9 C377.1,105.2 374.3,104.5 373.2,104.2 C372.1,103.9 372.2,108.4 372.0,104.0 C371.8,99.6 371.2,83.2 372.0,78.0Z"/></clipPath></defs>
<g clip-path="url(#cp7)" mask="url(#mk1)"><rect x="371.0" y="71.8" width="38.6" height="42.8" filter="url(#sp5)" opacity="0.6"/></g>
<defs><filter id="sp6" x="0" y="0" width="1" height="1" color-interpolation-filters="sRGB"><feTurbulence type="fractalNoise" baseFrequency="1.5" numOctaves="1" seed="13"/><feColorMatrix type="matrix" values="0 0 0 0 0.314  0 0 0 0 0.251  0 0 0 0 1.000  6 0 0 0 -3.2"/></filter></defs>
<defs><clipPath id="cp8"><path d="M372.0,78.0 C372.8,74.3 375.3,73.2 376.6,72.8 C377.9,72.4 378.4,74.5 379.9,75.5 C381.4,76.5 383.7,77.9 385.4,78.8 C387.1,79.7 389.6,78.8 390.0,81.0 C390.4,83.2 389.7,89.5 388.0,92.0 C386.3,94.5 382.7,95.5 380.0,96.0 C377.3,96.5 373.3,98.0 372.0,95.0 C370.7,92.0 371.2,81.7 372.0,78.0Z"/></clipPath></defs>
<g clip-path="url(#cp8)"><rect x="371.0" y="71.8" width="20.0" height="25.2" filter="url(#sp6)" opacity="0.6"/></g>
<defs><filter id="sp7" x="0" y="0" width="1" height="1" color-interpolation-filters="sRGB"><feTurbulence type="fractalNoise" baseFrequency="1.5" numOctaves="1" seed="14"/><feColorMatrix type="matrix" values="0 0 0 0 1.000  0 0 0 0 1.000  0 0 0 0 1.000  6 0 0 0 -3.03"/></filter></defs>
<defs><clipPath id="cp9"><path d="M406.5,86.5 C406.7,84.3 407.9,82.8 409.0,81.8 C410.1,80.8 411.7,80.4 413.0,80.6 C414.3,80.8 416.1,81.9 416.9,82.8 C417.7,83.7 417.9,84.9 417.8,86.0 C417.7,87.1 416.7,88.3 416.0,89.5 C415.3,90.7 414.4,92.4 413.5,93.2 C412.6,94.0 411.4,94.3 410.5,94.6 C409.6,94.9 408.5,96.3 407.8,95.0 C407.1,93.7 406.3,88.7 406.5,86.5Z"/></clipPath></defs>
<g clip-path="url(#cp9)"><rect x="405.5" y="79.6" width="13.3" height="16.4" filter="url(#sp7)" opacity="0.6"/></g>
<defs><linearGradient id="mk2g" gradientUnits="userSpaceOnUse" x1="0" y1="56" x2="0" y2="69"><stop offset="0" stop-color="#fff" stop-opacity="0.0"/><stop offset="1" stop-color="#fff" stop-opacity="1.0"/></linearGradient><mask id="mk2" maskUnits="userSpaceOnUse" x="300" y="20" width="130" height="110"><rect x="300" y="20" width="130" height="110" fill="url(#mk2g)"/></mask></defs>
<defs><filter id="sp8" x="0" y="0" width="1" height="1" color-interpolation-filters="sRGB"><feTurbulence type="fractalNoise" baseFrequency="1.5" numOctaves="1" seed="15"/><feColorMatrix type="matrix" values="0 0 0 0 1.000  0 0 0 0 1.000  0 0 0 0 1.000  6 0 0 0 -3.358"/></filter></defs>
<defs><clipPath id="cp10"><path d="M376.6,57.8 C377.7,57.0 380.1,56.1 382.1,55.6 C384.1,55.1 386.3,54.4 388.7,54.5 C391.1,54.6 394.2,55.4 396.4,56.2 C398.6,57.0 400.9,58.3 402.0,59.5 C403.1,60.7 403.2,62.2 403.1,63.4 C403.0,64.6 402.2,65.9 401.4,66.7 C400.6,67.5 399.9,68.1 398.1,68.3 C396.4,68.5 392.8,67.7 390.9,67.8 C389.0,67.9 388.0,68.9 386.5,68.9 C385.0,68.9 383.6,68.0 382.1,67.8 C380.6,67.6 378.8,68.3 377.7,67.8 C376.6,67.2 375.9,65.8 375.5,64.5 C375.1,63.2 375.3,61.2 375.5,60.1 C375.7,59.0 375.5,58.5 376.6,57.8Z"/></clipPath></defs>
<g clip-path="url(#cp10)" mask="url(#mk2)"><rect x="374.5" y="53.5" width="29.6" height="16.4" filter="url(#sp8)" opacity="0.8"/></g>
<defs><filter id="sp9" x="0" y="0" width="1" height="1" color-interpolation-filters="sRGB"><feTurbulence type="fractalNoise" baseFrequency="1.5" numOctaves="1" seed="4"/><feColorMatrix type="matrix" values="0 0 0 0 0.502  0 0 0 0 0.439  0 0 0 0 1.000  6 0 0 0 -3.926"/></filter></defs>
<defs><clipPath id="cp11"><path d="M312.7,99.8 C303.0,102.5 312.9,96.2 313.7,94.2 C314.5,92.2 315.7,90.0 317.3,88.1 C318.9,86.2 321.4,84.5 323.4,83.0 C325.4,81.5 327.4,80.2 329.5,79.4 C331.6,78.6 333.8,78.6 335.7,78.4 C337.6,78.2 338.8,77.6 340.8,78.2 C342.8,78.8 345.7,80.9 347.9,81.9 C350.1,82.9 351.9,83.5 354.0,84.0 C356.1,84.5 358.1,85.0 360.2,85.0 C362.2,85.0 364.7,85.2 366.3,84.0 C367.9,82.8 369.8,74.3 369.9,77.7 C369.9,81.1 368.2,99.9 366.6,104.6 C365.0,109.3 362.1,105.4 360.2,106.0 C358.3,106.6 356.8,107.2 355.1,108.0 C353.4,108.8 351.7,110.2 350.0,111.1 C348.3,112.0 346.8,112.9 344.9,113.6 C343.0,114.3 340.9,115.0 338.7,115.1 C336.5,115.2 333.8,114.6 331.6,114.1 C329.4,113.6 327.3,113.0 325.4,112.1 C323.5,111.2 322.0,109.8 320.3,108.5 C318.6,107.2 306.6,105.2 315.2,104.4 C323.8,103.7 362.5,108.4 372.0,104.0 C381.5,99.6 381.9,78.7 372.0,78.0 C362.1,77.3 322.4,97.1 312.7,99.8Z"/></clipPath></defs>
<g clip-path="url(#cp11)"><rect x="311.7" y="76.7" width="61.3" height="39.4" filter="url(#sp9)" opacity="0.6"/></g>
<defs><filter id="sp10" x="0" y="0" width="1" height="1" color-interpolation-filters="sRGB"><feTurbulence type="fractalNoise" baseFrequency="1.5" numOctaves="1" seed="5"/><feColorMatrix type="matrix" values="0 0 0 0 0.439  0 0 0 0 0.376  0 0 0 0 1.000  6 0 0 0 -3.704"/></filter></defs>
<defs><clipPath id="cp12"><path d="M376.6,57.8 C377.7,57.0 380.1,56.1 382.1,55.6 C384.1,55.1 386.3,54.4 388.7,54.5 C391.1,54.6 394.2,55.4 396.4,56.2 C398.6,57.0 400.9,58.3 402.0,59.5 C403.1,60.7 403.2,62.2 403.1,63.4 C403.0,64.6 402.2,65.9 401.4,66.7 C400.6,67.5 399.9,68.1 398.1,68.3 C396.4,68.5 392.8,67.7 390.9,67.8 C389.0,67.9 388.0,68.9 386.5,68.9 C385.0,68.9 383.6,68.0 382.1,67.8 C380.6,67.6 378.8,68.3 377.7,67.8 C376.6,67.2 375.9,65.8 375.5,64.5 C375.1,63.2 375.3,61.2 375.5,60.1 C375.7,59.0 375.5,58.5 376.6,57.8Z"/><path d="M375.5,66.5 C376.8,66.1 381.0,66.3 382.0,67.5 C383.0,68.7 382.5,72.5 381.5,73.5 C380.5,74.5 377.2,74.1 376.0,73.5 C374.8,72.9 374.6,71.2 374.5,70.0 C374.4,68.8 374.2,66.9 375.5,66.5Z"/></clipPath></defs>
<g clip-path="url(#cp12)"><rect x="373.5" y="53.5" width="30.6" height="21.0" filter="url(#sp10)" opacity="0.6"/></g>
<defs><filter id="sp11" x="0" y="0" width="1" height="1" color-interpolation-filters="sRGB"><feTurbulence type="fractalNoise" baseFrequency="1.5" numOctaves="1" seed="6"/><feColorMatrix type="matrix" values="0 0 0 0 0.502  0 0 0 0 0.439  0 0 0 0 1.000  6 0 0 0 -4.211"/></filter></defs>
<defs><clipPath id="cp13"><path d="M338.6,35.4 C340.8,34.4 344.7,34.9 347.8,34.9 C350.9,34.9 354.8,34.4 357.0,35.4 C359.2,36.4 359.9,38.9 361.1,41.0 C362.3,43.1 363.6,45.8 364.2,48.2 C364.8,50.6 364.9,53.1 364.7,55.3 C364.5,57.5 364.1,59.6 363.1,61.5 C362.2,63.4 360.5,65.4 359.0,66.6 C357.5,67.8 355.8,68.3 353.9,68.6 C352.0,68.8 349.7,68.6 347.8,68.1 C345.9,67.6 344.2,66.7 342.7,65.6 C341.2,64.5 339.8,63.0 338.6,61.5 C337.4,60.0 336.5,57.9 335.5,56.4 C334.5,54.9 333.6,54.0 332.5,52.8 C331.4,51.6 329.2,50.3 328.9,49.2 C328.5,48.1 329.5,47.5 330.4,46.1 C331.3,44.7 333.1,42.8 334.5,41.0 C335.9,39.2 336.4,36.4 338.6,35.4Z"/></clipPath></defs>
<g clip-path="url(#cp13)"><rect x="327.9" y="33.9" width="37.8" height="35.7" filter="url(#sp11)" opacity="0.8"/></g>
<ellipse cx="355.5" cy="70.8" rx="2.6" ry="1.4" fill="#3a30ff" opacity="0.85"/>
<defs><filter id="sp12" x="0" y="0" width="1" height="1" color-interpolation-filters="sRGB"><feTurbulence type="fractalNoise" baseFrequency="1.5" numOctaves="1" seed="20"/><feColorMatrix type="matrix" values="0 0 0 0 1.000  0 0 0 0 1.000  0 0 0 0 1.000  6 0 0 0 -3.568"/></filter></defs>
<defs><clipPath id="cp14"><path d="M338.6,35.4 C340.8,34.4 344.7,34.9 347.8,34.9 C350.9,34.9 354.8,34.4 357.0,35.4 C359.2,36.4 359.9,38.9 361.1,41.0 C362.3,43.1 363.6,45.8 364.2,48.2 C364.8,50.6 364.9,53.1 364.7,55.3 C364.5,57.5 364.1,59.6 363.1,61.5 C362.2,63.4 360.5,65.4 359.0,66.6 C357.5,67.8 355.8,68.3 353.9,68.6 C352.0,68.8 349.7,68.6 347.8,68.1 C345.9,67.6 344.2,66.7 342.7,65.6 C341.2,64.5 339.8,63.0 338.6,61.5 C337.4,60.0 336.5,57.9 335.5,56.4 C334.5,54.9 333.6,54.0 332.5,52.8 C331.4,51.6 329.2,50.3 328.9,49.2 C328.5,48.1 329.5,47.5 330.4,46.1 C331.3,44.7 333.1,42.8 334.5,41.0 C335.9,39.2 336.4,36.4 338.6,35.4Z"/><path d="M312.7,99.8 C312.4,98.1 312.9,96.2 313.7,94.2 C314.5,92.2 315.7,90.0 317.3,88.1 C318.9,86.2 321.4,84.5 323.4,83.0 C325.4,81.5 327.4,80.2 329.5,79.4 C331.6,78.6 333.8,78.6 335.7,78.4 C337.6,78.2 338.8,77.6 340.8,78.2 C342.8,78.8 345.7,80.9 347.9,81.9 C350.1,82.9 351.9,83.5 354.0,84.0 C356.1,84.5 358.1,85.0 360.2,85.0 C362.2,85.0 364.7,85.2 366.3,84.0 C367.9,82.8 368.8,79.5 369.9,77.7 C371.0,75.9 372.1,74.1 373.2,73.3 C374.3,72.5 375.5,72.4 376.6,72.8 C377.7,73.2 378.4,74.5 379.9,75.5 C381.4,76.5 383.4,77.9 385.4,78.8 C387.4,79.7 389.8,80.3 392.0,81.0 C394.2,81.7 396.6,82.5 398.6,83.2 C400.6,83.9 402.7,84.5 404.2,85.4 C405.7,86.3 406.8,87.5 407.5,88.8 C408.2,90.1 408.6,91.5 408.6,93.2 C408.6,94.9 408.1,96.9 407.5,98.7 C406.9,100.5 406.1,102.4 405.3,104.2 C404.5,106.0 403.6,108.3 402.5,109.7 C401.4,111.1 400.2,111.8 398.6,112.5 C397.0,113.2 394.9,113.7 393.1,113.6 C391.3,113.5 389.2,112.7 387.6,111.9 C386.0,111.1 384.7,109.6 383.2,108.6 C381.7,107.6 380.5,106.6 378.8,105.9 C377.1,105.2 375.2,104.4 373.2,104.2 C371.2,104.0 368.8,104.3 366.6,104.6 C364.4,104.9 362.1,105.4 360.2,106.0 C358.3,106.6 356.8,107.2 355.1,108.0 C353.4,108.8 351.7,110.2 350.0,111.1 C348.3,112.0 346.8,112.9 344.9,113.6 C343.0,114.3 340.9,115.0 338.7,115.1 C336.5,115.2 333.8,114.6 331.6,114.1 C329.4,113.6 327.3,113.0 325.4,112.1 C323.5,111.2 322.0,109.8 320.3,108.5 C318.6,107.2 316.5,105.9 315.2,104.4 C313.9,103.0 312.9,101.5 312.7,99.8Z"/><path d="M376.6,57.8 C377.7,57.0 380.1,56.1 382.1,55.6 C384.1,55.1 386.3,54.4 388.7,54.5 C391.1,54.6 394.2,55.4 396.4,56.2 C398.6,57.0 400.9,58.3 402.0,59.5 C403.1,60.7 403.2,62.2 403.1,63.4 C403.0,64.6 402.2,65.9 401.4,66.7 C400.6,67.5 399.9,68.1 398.1,68.3 C396.4,68.5 392.8,67.7 390.9,67.8 C389.0,67.9 388.0,68.9 386.5,68.9 C385.0,68.9 383.6,68.0 382.1,67.8 C380.6,67.6 378.8,68.3 377.7,67.8 C376.6,67.2 375.9,65.8 375.5,64.5 C375.1,63.2 375.3,61.2 375.5,60.1 C375.7,59.0 375.5,58.5 376.6,57.8Z"/></clipPath></defs>
<g clip-path="url(#cp14)"><rect x="311.7" y="33.9" width="97.9" height="82.2" filter="url(#sp12)" opacity="0.35"/></g>
</g>
<path d="M303.50,25.20V123.50H428.30" fill="none" stroke="#555" stroke-width="0.85"/>
<line x1="299.90" y1="30.10" x2="303.50" y2="30.10" stroke="#555" stroke-width="0.75"/>
<text x="295.10" y="32.80" font-size="9.0" text-anchor="end" >10</text>
<line x1="299.90" y1="56.35" x2="303.50" y2="56.35" stroke="#555" stroke-width="0.75"/>
<text x="295.10" y="59.05" font-size="9.0" text-anchor="end" >5</text>
<line x1="299.90" y1="82.60" x2="303.50" y2="82.60" stroke="#555" stroke-width="0.75"/>
<text x="295.10" y="85.30" font-size="9.0" text-anchor="end" >0</text>
<line x1="299.90" y1="108.85" x2="303.50" y2="108.85" stroke="#555" stroke-width="0.75"/>
<text x="295.10" y="111.55" font-size="9.0" text-anchor="end" >−5</text>
<line x1="329.60" y1="123.50" x2="329.60" y2="127.70" stroke="#555" stroke-width="0.75"/>
<text x="329.60" y="139.10" font-size="9.0" text-anchor="middle" >−5</text>
<line x1="362.50" y1="123.50" x2="362.50" y2="127.70" stroke="#555" stroke-width="0.75"/>
<text x="362.50" y="139.10" font-size="9.0" text-anchor="middle" >0</text>
<line x1="395.60" y1="123.50" x2="395.60" y2="127.70" stroke="#555" stroke-width="0.75"/>
<text x="395.60" y="139.10" font-size="9.0" text-anchor="middle" >5</text>
<text x="328.10" y="18.20" font-size="10.3" textLength="75.30" lengthAdjust="spacingAndGlyphs" >Smad2::Smad3</text>
<text x="366.20" y="155.20" font-size="10.0" text-anchor="middle" >wnnUMAP_1</text>
<text transform="translate(277.60,74.70) rotate(-90)" text-anchor="middle" font-size="10" fill="#222">wnnUMAP_2</text>
<g transform="translate(218.0,0.0)">
<path d="M338.6,35.4 C340.8,34.4 344.7,34.9 347.8,34.9 C350.9,34.9 354.8,34.4 357.0,35.4 C359.2,36.4 359.9,38.9 361.1,41.0 C362.3,43.1 363.6,45.8 364.2,48.2 C364.8,50.6 364.9,53.1 364.7,55.3 C364.5,57.5 364.1,59.6 363.1,61.5 C362.2,63.4 360.5,65.4 359.0,66.6 C357.5,67.8 355.8,68.3 353.9,68.6 C352.0,68.8 349.7,68.6 347.8,68.1 C345.9,67.6 344.2,66.7 342.7,65.6 C341.2,64.5 339.8,63.0 338.6,61.5 C337.4,60.0 336.5,57.9 335.5,56.4 C334.5,54.9 333.6,54.0 332.5,52.8 C331.4,51.6 329.2,50.3 328.9,49.2 C328.5,48.1 329.5,47.5 330.4,46.1 C331.3,44.7 333.1,42.8 334.5,41.0 C335.9,39.2 336.4,36.4 338.6,35.4Z" fill="#d6d6d6"/>
<path d="M312.7,99.8 C312.4,98.1 312.9,96.2 313.7,94.2 C314.5,92.2 315.7,90.0 317.3,88.1 C318.9,86.2 321.4,84.5 323.4,83.0 C325.4,81.5 327.4,80.2 329.5,79.4 C331.6,78.6 333.8,78.6 335.7,78.4 C337.6,78.2 338.8,77.6 340.8,78.2 C342.8,78.8 345.7,80.9 347.9,81.9 C350.1,82.9 351.9,83.5 354.0,84.0 C356.1,84.5 358.1,85.0 360.2,85.0 C362.2,85.0 364.7,85.2 366.3,84.0 C367.9,82.8 368.8,79.5 369.9,77.7 C371.0,75.9 372.1,74.1 373.2,73.3 C374.3,72.5 375.5,72.4 376.6,72.8 C377.7,73.2 378.4,74.5 379.9,75.5 C381.4,76.5 383.4,77.9 385.4,78.8 C387.4,79.7 389.8,80.3 392.0,81.0 C394.2,81.7 396.6,82.5 398.6,83.2 C400.6,83.9 402.7,84.5 404.2,85.4 C405.7,86.3 406.8,87.5 407.5,88.8 C408.2,90.1 408.6,91.5 408.6,93.2 C408.6,94.9 408.1,96.9 407.5,98.7 C406.9,100.5 406.1,102.4 405.3,104.2 C404.5,106.0 403.6,108.3 402.5,109.7 C401.4,111.1 400.2,111.8 398.6,112.5 C397.0,113.2 394.9,113.7 393.1,113.6 C391.3,113.5 389.2,112.7 387.6,111.9 C386.0,111.1 384.7,109.6 383.2,108.6 C381.7,107.6 380.5,106.6 378.8,105.9 C377.1,105.2 375.2,104.4 373.2,104.2 C371.2,104.0 368.8,104.3 366.6,104.6 C364.4,104.9 362.1,105.4 360.2,106.0 C358.3,106.6 356.8,107.2 355.1,108.0 C353.4,108.8 351.7,110.2 350.0,111.1 C348.3,112.0 346.8,112.9 344.9,113.6 C343.0,114.3 340.9,115.0 338.7,115.1 C336.5,115.2 333.8,114.6 331.6,114.1 C329.4,113.6 327.3,113.0 325.4,112.1 C323.5,111.2 322.0,109.8 320.3,108.5 C318.6,107.2 316.5,105.9 315.2,104.4 C313.9,103.0 312.9,101.5 312.7,99.8Z" fill="#d6d6d6"/>
<path d="M376.6,57.8 C377.7,57.0 380.1,56.1 382.1,55.6 C384.1,55.1 386.3,54.4 388.7,54.5 C391.1,54.6 394.2,55.4 396.4,56.2 C398.6,57.0 400.9,58.3 402.0,59.5 C403.1,60.7 403.2,62.2 403.1,63.4 C403.0,64.6 402.2,65.9 401.4,66.7 C400.6,67.5 399.9,68.1 398.1,68.3 C396.4,68.5 392.8,67.7 390.9,67.8 C389.0,67.9 388.0,68.9 386.5,68.9 C385.0,68.9 383.6,68.0 382.1,67.8 C380.6,67.6 378.8,68.3 377.7,67.8 C376.6,67.2 375.9,65.8 375.5,64.5 C375.1,63.2 375.3,61.2 375.5,60.1 C375.7,59.0 375.5,58.5 376.6,57.8Z" fill="#d6d6d6"/>
<path d="M406.5,86.5 C406.7,84.3 407.9,82.8 409.0,81.8 C410.1,80.8 411.7,80.4 413.0,80.6 C414.3,80.8 416.1,81.9 416.9,82.8 C417.7,83.7 417.9,84.9 417.8,86.0 C417.7,87.1 416.7,88.3 416.0,89.5 C415.3,90.7 414.4,92.4 413.5,93.2 C412.6,94.0 411.4,94.3 410.5,94.6 C409.6,94.9 408.5,96.3 407.8,95.0 C407.1,93.7 406.3,88.7 406.5,86.5Z" fill="#d6d6d6"/>
<path d="M362.4,68.6 C362.9,68.0 364.4,67.7 365.5,67.7 C366.6,67.7 368.2,68.0 368.8,68.6 C369.4,69.2 369.4,70.6 368.8,71.2 C368.2,71.8 366.6,72.2 365.5,72.2 C364.4,72.2 362.9,71.9 362.4,71.3 C361.9,70.7 361.9,69.2 362.4,68.6Z" fill="#d6d6d6"/>
<defs><filter id="sp13" x="0" y="0" width="1" height="1" color-interpolation-filters="sRGB"><feTurbulence type="fractalNoise" baseFrequency="1.5" numOctaves="1" seed="50"/><feColorMatrix type="matrix" values="0 0 0 0 0.816  0 0 0 0 0.816  0 0 0 0 0.816  6 0 0 0 -2.581"/></filter></defs>
<defs><clipPath id="cp15"><path d="M389.0,67.5 C390.7,66.6 397.6,66.6 399.5,67.5 C401.4,68.4 400.8,71.0 400.5,73.0 C400.2,75.0 399.4,78.5 398.0,79.5 C396.6,80.5 393.4,80.1 392.0,79.0 C390.6,77.9 390.0,74.9 389.5,73.0 C389.0,71.1 387.3,68.4 389.0,67.5Z"/></clipPath></defs>
<g clip-path="url(#cp15)"><rect x="388.0" y="66.5" width="13.5" height="14.0" filter="url(#sp13)" opacity="1.0"/></g>
<defs><filter id="sp14" x="0" y="0" width="1" height="1" color-interpolation-filters="sRGB"><feTurbulence type="fractalNoise" baseFrequency="1.5" numOctaves="1" seed="51"/><feColorMatrix type="matrix" values="0 0 0 0 0.816  0 0 0 0 0.816  0 0 0 0 0.816  6 0 0 0 -2.337"/></filter></defs>
<defs><clipPath id="cp16"><path d="M375.5,66.5 C376.8,66.1 381.0,66.3 382.0,67.5 C383.0,68.7 382.5,72.5 381.5,73.5 C380.5,74.5 377.2,74.1 376.0,73.5 C374.8,72.9 374.6,71.2 374.5,70.0 C374.4,68.8 374.2,66.9 375.5,66.5Z"/></clipPath></defs>
<g clip-path="url(#cp16)"><rect x="373.5" y="65.5" width="9.5" height="9.0" filter="url(#sp14)" opacity="1.0"/></g>
<defs><filter id="sp15" x="0" y="0" width="1" height="1" color-interpolation-filters="sRGB"><feTurbulence type="fractalNoise" baseFrequency="1.5" numOctaves="1" seed="52"/><feColorMatrix type="matrix" values="0 0 0 0 0.816  0 0 0 0 0.816  0 0 0 0 0.816  6 0 0 0 -3.358"/></filter></defs>
<defs><clipPath id="cp17"><path d="M361.0,40.0 C361.5,39.5 365.5,44.3 368.0,47.0 C370.5,49.7 374.8,52.8 376.0,56.0 C377.2,59.2 376.2,64.3 375.0,66.0 C373.8,67.7 370.8,66.7 369.0,66.0 C367.2,65.3 364.7,64.7 364.0,62.0 C363.3,59.3 365.5,53.7 365.0,50.0 C364.5,46.3 360.5,40.5 361.0,40.0Z"/></clipPath></defs>
<g clip-path="url(#cp17)"><rect x="360.0" y="39.0" width="17.0" height="28.0" filter="url(#sp15)" opacity="1.0"/></g>
<defs><filter id="sp16" x="0" y="0" width="1" height="1" color-interpolation-filters="sRGB"><feTurbulence type="fractalNoise" baseFrequency="1.5" numOctaves="1" seed="53"/><feColorMatrix type="matrix" values="0 0 0 0 0.816  0 0 0 0 0.816  0 0 0 0 0.816  6 0 0 0 -2.836"/></filter></defs>
<defs><clipPath id="cp18"><path d="M338.0,76.5 C339.5,76.1 346.7,75.4 350.0,76.0 C353.3,76.6 355.3,79.3 358.0,80.0 C360.7,80.7 364.7,79.3 366.0,80.0 C367.3,80.7 368.0,83.3 366.0,84.0 C364.0,84.7 357.0,84.3 354.0,84.0 C351.0,83.7 350.1,82.9 347.9,81.9 C345.7,80.9 342.4,79.1 340.8,78.2 C339.2,77.3 336.5,76.9 338.0,76.5Z"/></clipPath></defs>
<g clip-path="url(#cp18)"><rect x="337.0" y="75.0" width="30.0" height="10.0" filter="url(#sp16)" opacity="1.0"/></g>
<defs><clipPath id="cp19"><path d="M312.7,99.8 C312.4,98.1 312.9,96.2 313.7,94.2 C314.5,92.2 315.7,90.0 317.3,88.1 C318.9,86.2 321.4,84.5 323.4,83.0 C325.4,81.5 327.4,80.2 329.5,79.4 C331.6,78.6 333.8,78.6 335.7,78.4 C337.6,78.2 338.8,77.6 340.8,78.2 C342.8,78.8 345.7,80.9 347.9,81.9 C350.1,82.9 351.9,83.5 354.0,84.0 C356.1,84.5 358.1,85.0 360.2,85.0 C362.2,85.0 364.7,85.2 366.3,84.0 C367.9,82.8 368.8,79.5 369.9,77.7 C371.0,75.9 372.1,74.1 373.2,73.3 C374.3,72.5 375.5,72.4 376.6,72.8 C377.7,73.2 378.4,74.5 379.9,75.5 C381.4,76.5 383.4,77.9 385.4,78.8 C387.4,79.7 389.8,80.3 392.0,81.0 C394.2,81.7 396.6,82.5 398.6,83.2 C400.6,83.9 402.7,84.5 404.2,85.4 C405.7,86.3 406.8,87.5 407.5,88.8 C408.2,90.1 408.6,91.5 408.6,93.2 C408.6,94.9 408.1,96.9 407.5,98.7 C406.9,100.5 406.1,102.4 405.3,104.2 C404.5,106.0 403.6,108.3 402.5,109.7 C401.4,111.1 400.2,111.8 398.6,112.5 C397.0,113.2 394.9,113.7 393.1,113.6 C391.3,113.5 389.2,112.7 387.6,111.9 C386.0,111.1 384.7,109.6 383.2,108.6 C381.7,107.6 380.5,106.6 378.8,105.9 C377.1,105.2 375.2,104.4 373.2,104.2 C371.2,104.0 368.8,104.3 366.6,104.6 C364.4,104.9 362.1,105.4 360.2,106.0 C358.3,106.6 356.8,107.2 355.1,108.0 C353.4,108.8 351.7,110.2 350.0,111.1 C348.3,112.0 346.8,112.9 344.9,113.6 C343.0,114.3 340.9,115.0 338.7,115.1 C336.5,115.2 333.8,114.6 331.6,114.1 C329.4,113.6 327.3,113.0 325.4,112.1 C323.5,111.2 322.0,109.8 320.3,108.5 C318.6,107.2 316.5,105.9 315.2,104.4 C313.9,103.0 312.9,101.5 312.7,99.8Z"/><path d="M406.5,86.5 C406.7,84.3 407.9,82.8 409.0,81.8 C410.1,80.8 411.7,80.4 413.0,80.6 C414.3,80.8 416.1,81.9 416.9,82.8 C417.7,83.7 417.9,84.9 417.8,86.0 C417.7,87.1 416.7,88.3 416.0,89.5 C415.3,90.7 414.4,92.4 413.5,93.2 C412.6,94.0 411.4,94.3 410.5,94.6 C409.6,94.9 408.5,96.3 407.8,95.0 C407.1,93.7 406.3,88.7 406.5,86.5Z"/></clipPath></defs>
<defs><linearGradient id="gB1" gradientUnits="userSpaceOnUse" x1="345" y1="0" x2="409" y2="0"><stop offset="0.000" stop-color="#5848ff" stop-opacity="0"/><stop offset="0.234" stop-color="#5848ff" stop-opacity="0.08"/><stop offset="0.422" stop-color="#5848ff" stop-opacity="0.26"/><stop offset="0.625" stop-color="#5848ff" stop-opacity="0.22"/><stop offset="0.766" stop-color="#5848ff" stop-opacity="0.26"/><stop offset="0.859" stop-color="#5848ff" stop-opacity="0.45"/><stop offset="0.938" stop-color="#5848ff" stop-opacity="0.78"/><stop offset="1.000" stop-color="#5848ff" stop-opacity="0.95"/></linearGradient><radialGradient id="gR1" gradientUnits="userSpaceOnUse" cx="403" cy="104" r="10"><stop offset="0" stop-color="#1a0aff" stop-opacity="0.6"/><stop offset="1" stop-color="#1a0aff" stop-opacity="0"/></radialGradient><radialGradient id="gT1" gradientUnits="userSpaceOnUse" cx="378" cy="82" r="11"><stop offset="0" stop-color="#4a38ff" stop-opacity="0.45"/><stop offset="1" stop-color="#4a38ff" stop-opacity="0"/></radialGradient></defs>
<g clip-path="url(#cp19)"><rect x="340" y="70" width="80" height="47" fill="url(#gB1)"/><rect x="340" y="70" width="80" height="47" fill="url(#gR1)"/><rect x="340" y="70" width="80" height="47" fill="url(#gT1)"/><rect x="405" y="78" width="15" height="18" fill="#2a20ff" opacity="0.72"/></g>
<defs><clipPath id="cp20"><path d="M376.6,57.8 C377.7,57.0 380.1,56.1 382.1,55.6 C384.1,55.1 386.3,54.4 388.7,54.5 C391.1,54.6 394.2,55.4 396.4,56.2 C398.6,57.0 400.9,58.3 402.0,59.5 C403.1,60.7 403.2,62.2 403.1,63.4 C403.0,64.6 402.2,65.9 401.4,66.7 C400.6,67.5 399.9,68.1 398.1,68.3 C396.4,68.5 392.8,67.7 390.9,67.8 C389.0,67.9 388.0,68.9 386.5,68.9 C385.0,68.9 383.6,68.0 382.1,67.8 C380.6,67.6 378.8,68.3 377.7,67.8 C376.6,67.2 375.9,65.8 375.5,64.5 C375.1,63.2 375.3,61.2 375.5,60.1 C375.7,59.0 375.5,58.5 376.6,57.8Z"/><path d="M389.0,67.5 C390.7,66.6 397.6,66.6 399.5,67.5 C401.4,68.4 400.8,71.0 400.5,73.0 C400.2,75.0 399.4,78.5 398.0,79.5 C396.6,80.5 393.4,80.1 392.0,79.0 C390.6,77.9 390.0,74.9 389.5,73.0 C389.0,71.1 387.3,68.4 389.0,67.5Z"/><path d="M375.5,66.5 C376.8,66.1 381.0,66.3 382.0,67.5 C383.0,68.7 382.5,72.5 381.5,73.5 C380.5,74.5 377.2,74.1 376.0,73.5 C374.8,72.9 374.6,71.2 374.5,70.0 C374.4,68.8 374.2,66.9 375.5,66.5Z"/></clipPath></defs>
<g clip-path="url(#cp20)"><rect x="372" y="52" width="35" height="30" fill="#9088f0" opacity="0.13"/><rect x="374" y="62" width="10" height="14" fill="#6a58ff" opacity="0.3"/></g>
<defs><linearGradient id="mk3g" gradientUnits="userSpaceOnUse" x1="380" y1="0" x2="409" y2="0"><stop offset="0" stop-color="#fff" stop-opacity="0.3"/><stop offset="1" stop-color="#fff" stop-opacity="1.0"/></linearGradient><mask id="mk3" maskUnits="userSpaceOnUse" x="300" y="20" width="130" height="110"><rect x="300" y="20" width="130" height="110" fill="url(#mk3g)"/></mask></defs>
<defs><filter id="sp17" x="0" y="0" width="1" height="1" color-interpolation-filters="sRGB"><feTurbulence type="fractalNoise" baseFrequency="1.5" numOctaves="1" seed="13"/><feColorMatrix type="matrix" values="0 0 0 0 0.220  0 0 0 0 0.157  0 0 0 0 1.000  6 0 0 0 -3.463"/></filter></defs>
<defs><clipPath id="cp21"><path d="M372.0,78.0 C372.8,72.8 375.3,73.2 376.6,72.8 C377.9,72.4 378.4,74.5 379.9,75.5 C381.4,76.5 383.4,77.9 385.4,78.8 C387.4,79.7 389.8,80.3 392.0,81.0 C394.2,81.7 396.6,82.5 398.6,83.2 C400.6,83.9 402.7,84.5 404.2,85.4 C405.7,86.3 406.8,87.5 407.5,88.8 C408.2,90.1 408.6,91.5 408.6,93.2 C408.6,94.9 408.1,96.9 407.5,98.7 C406.9,100.5 406.1,102.4 405.3,104.2 C404.5,106.0 403.6,108.3 402.5,109.7 C401.4,111.1 400.2,111.8 398.6,112.5 C397.0,113.2 394.9,113.7 393.1,113.6 C391.3,113.5 389.2,112.7 387.6,111.9 C386.0,111.1 384.7,109.6 383.2,108.6 C381.7,107.6 380.5,106.6 378.8,105.9 C377.1,105.2 374.3,104.5 373.2,104.2 C372.1,103.9 372.2,108.4 372.0,104.0 C371.8,99.6 371.2,83.2 372.0,78.0Z"/></clipPath></defs>
<g clip-path="url(#cp21)" mask="url(#mk3)"><rect x="371.0" y="71.8" width="38.6" height="42.8" filter="url(#sp17)" opacity="0.6"/></g>
<defs><filter id="sp18" x="0" y="0" width="1" height="1" color-interpolation-filters="sRGB"><feTurbulence type="fractalNoise" baseFrequency="1.5" numOctaves="1" seed="23"/><feColorMatrix type="matrix" values="0 0 0 0 0.314  0 0 0 0 0.251  0 0 0 0 1.000  6 0 0 0 -3.2"/></filter></defs>
<defs><clipPath id="cp22"><path d="M372.0,78.0 C372.8,74.3 375.3,73.2 376.6,72.8 C377.9,72.4 378.4,74.5 379.9,75.5 C381.4,76.5 383.7,77.9 385.4,78.8 C387.1,79.7 389.6,78.8 390.0,81.0 C390.4,83.2 389.7,89.5 388.0,92.0 C386.3,94.5 382.7,95.5 380.0,96.0 C377.3,96.5 373.3,98.0 372.0,95.0 C370.7,92.0 371.2,81.7 372.0,78.0Z"/></clipPath></defs>
<g clip-path="url(#cp22)"><rect x="371.0" y="71.8" width="20.0" height="25.2" filter="url(#sp18)" opacity="0.6"/></g>
<defs><filter id="sp19" x="0" y="0" width="1" height="1" color-interpolation-filters="sRGB"><feTurbulence type="fractalNoise" baseFrequency="1.5" numOctaves="1" seed="24"/><feColorMatrix type="matrix" values="0 0 0 0 1.000  0 0 0 0 1.000  0 0 0 0 1.000  6 0 0 0 -3.03"/></filter></defs>
<defs><clipPath id="cp23"><path d="M406.5,86.5 C406.7,84.3 407.9,82.8 409.0,81.8 C410.1,80.8 411.7,80.4 413.0,80.6 C414.3,80.8 416.1,81.9 416.9,82.8 C417.7,83.7 417.9,84.9 417.8,86.0 C417.7,87.1 416.7,88.3 416.0,89.5 C415.3,90.7 414.4,92.4 413.5,93.2 C412.6,94.0 411.4,94.3 410.5,94.6 C409.6,94.9 408.5,96.3 407.8,95.0 C407.1,93.7 406.3,88.7 406.5,86.5Z"/></clipPath></defs>
<g clip-path="url(#cp23)"><rect x="405.5" y="79.6" width="13.3" height="16.4" filter="url(#sp19)" opacity="0.6"/></g>
<defs><linearGradient id="mk4g" gradientUnits="userSpaceOnUse" x1="0" y1="56" x2="0" y2="69"><stop offset="0" stop-color="#fff" stop-opacity="0.0"/><stop offset="1" stop-color="#fff" stop-opacity="1.0"/></linearGradient><mask id="mk4" maskUnits="userSpaceOnUse" x="300" y="20" width="130" height="110"><rect x="300" y="20" width="130" height="110" fill="url(#mk4g)"/></mask></defs>
<defs><filter id="sp20" x="0" y="0" width="1" height="1" color-interpolation-filters="sRGB"><feTurbulence type="fractalNoise" baseFrequency="1.5" numOctaves="1" seed="25"/><feColorMatrix type="matrix" values="0 0 0 0 1.000  0 0 0 0 1.000  0 0 0 0 1.000  6 0 0 0 -3.358"/></filter></defs>
<defs><clipPath id="cp24"><path d="M376.6,57.8 C377.7,57.0 380.1,56.1 382.1,55.6 C384.1,55.1 386.3,54.4 388.7,54.5 C391.1,54.6 394.2,55.4 396.4,56.2 C398.6,57.0 400.9,58.3 402.0,59.5 C403.1,60.7 403.2,62.2 403.1,63.4 C403.0,64.6 402.2,65.9 401.4,66.7 C400.6,67.5 399.9,68.1 398.1,68.3 C396.4,68.5 392.8,67.7 390.9,67.8 C389.0,67.9 388.0,68.9 386.5,68.9 C385.0,68.9 383.6,68.0 382.1,67.8 C380.6,67.6 378.8,68.3 377.7,67.8 C376.6,67.2 375.9,65.8 375.5,64.5 C375.1,63.2 375.3,61.2 375.5,60.1 C375.7,59.0 375.5,58.5 376.6,57.8Z"/></clipPath></defs>
<g clip-path="url(#cp24)" mask="url(#mk4)"><rect x="374.5" y="53.5" width="29.6" height="16.4" filter="url(#sp20)" opacity="0.8"/></g>
<defs><filter id="sp21" x="0" y="0" width="1" height="1" color-interpolation-filters="sRGB"><feTurbulence type="fractalNoise" baseFrequency="1.5" numOctaves="1" seed="14"/><feColorMatrix type="matrix" values="0 0 0 0 0.502  0 0 0 0 0.439  0 0 0 0 1.000  6 0 0 0 -3.926"/></filter></defs>
<defs><clipPath id="cp25"><path d="M312.7,99.8 C303.0,102.5 312.9,96.2 313.7,94.2 C314.5,92.2 315.7,90.0 317.3,88.1 C318.9,86.2 321.4,84.5 323.4,83.0 C325.4,81.5 327.4,80.2 329.5,79.4 C331.6,78.6 333.8,78.6 335.7,78.4 C337.6,78.2 338.8,77.6 340.8,78.2 C342.8,78.8 345.7,80.9 347.9,81.9 C350.1,82.9 351.9,83.5 354.0,84.0 C356.1,84.5 358.1,85.0 360.2,85.0 C362.2,85.0 364.7,85.2 366.3,84.0 C367.9,82.8 369.8,74.3 369.9,77.7 C369.9,81.1 368.2,99.9 366.6,104.6 C365.0,109.3 362.1,105.4 360.2,106.0 C358.3,106.6 356.8,107.2 355.1,108.0 C353.4,108.8 351.7,110.2 350.0,111.1 C348.3,112.0 346.8,112.9 344.9,113.6 C343.0,114.3 340.9,115.0 338.7,115.1 C336.5,115.2 333.8,114.6 331.6,114.1 C329.4,113.6 327.3,113.0 325.4,112.1 C323.5,111.2 322.0,109.8 320.3,108.5 C318.6,107.2 306.6,105.2 315.2,104.4 C323.8,103.7 362.5,108.4 372.0,104.0 C381.5,99.6 381.9,78.7 372.0,78.0 C362.1,77.3 322.4,97.1 312.7,99.8Z"/></clipPath></defs>
<g clip-path="url(#cp25)"><rect x="311.7" y="76.7" width="61.3" height="39.4" filter="url(#sp21)" opacity="0.6"/></g>
<defs><filter id="sp22" x="0" y="0" width="1" height="1" color-interpolation-filters="sRGB"><feTurbulence type="fractalNoise" baseFrequency="1.5" numOctaves="1" seed="15"/><feColorMatrix type="matrix" values="0 0 0 0 0.439  0 0 0 0 0.376  0 0 0 0 1.000  6 0 0 0 -3.704"/></filter></defs>
<defs><clipPath id="cp26"><path d="M376.6,57.8 C377.7,57.0 380.1,56.1 382.1,55.6 C384.1,55.1 386.3,54.4 388.7,54.5 C391.1,54.6 394.2,55.4 396.4,56.2 C398.6,57.0 400.9,58.3 402.0,59.5 C403.1,60.7 403.2,62.2 403.1,63.4 C403.0,64.6 402.2,65.9 401.4,66.7 C400.6,67.5 399.9,68.1 398.1,68.3 C396.4,68.5 392.8,67.7 390.9,67.8 C389.0,67.9 388.0,68.9 386.5,68.9 C385.0,68.9 383.6,68.0 382.1,67.8 C380.6,67.6 378.8,68.3 377.7,67.8 C376.6,67.2 375.9,65.8 375.5,64.5 C375.1,63.2 375.3,61.2 375.5,60.1 C375.7,59.0 375.5,58.5 376.6,57.8Z"/><path d="M375.5,66.5 C376.8,66.1 381.0,66.3 382.0,67.5 C383.0,68.7 382.5,72.5 381.5,73.5 C380.5,74.5 377.2,74.1 376.0,73.5 C374.8,72.9 374.6,71.2 374.5,70.0 C374.4,68.8 374.2,66.9 375.5,66.5Z"/></clipPath></defs>
<g clip-path="url(#cp26)"><rect x="373.5" y="53.5" width="30.6" height="21.0" filter="url(#sp22)" opacity="0.6"/></g>
<defs><filter id="sp23" x="0" y="0" width="1" height="1" color-interpolation-filters="sRGB"><feTurbulence type="fractalNoise" baseFrequency="1.5" numOctaves="1" seed="16"/><feColorMatrix type="matrix" values="0 0 0 0 0.502  0 0 0 0 0.439  0 0 0 0 1.000  6 0 0 0 -4.211"/></filter></defs>
<defs><clipPath id="cp27"><path d="M338.6,35.4 C340.8,34.4 344.7,34.9 347.8,34.9 C350.9,34.9 354.8,34.4 357.0,35.4 C359.2,36.4 359.9,38.9 361.1,41.0 C362.3,43.1 363.6,45.8 364.2,48.2 C364.8,50.6 364.9,53.1 364.7,55.3 C364.5,57.5 364.1,59.6 363.1,61.5 C362.2,63.4 360.5,65.4 359.0,66.6 C357.5,67.8 355.8,68.3 353.9,68.6 C352.0,68.8 349.7,68.6 347.8,68.1 C345.9,67.6 344.2,66.7 342.7,65.6 C341.2,64.5 339.8,63.0 338.6,61.5 C337.4,60.0 336.5,57.9 335.5,56.4 C334.5,54.9 333.6,54.0 332.5,52.8 C331.4,51.6 329.2,50.3 328.9,49.2 C328.5,48.1 329.5,47.5 330.4,46.1 C331.3,44.7 333.1,42.8 334.5,41.0 C335.9,39.2 336.4,36.4 338.6,35.4Z"/></clipPath></defs>
<g clip-path="url(#cp27)"><rect x="327.9" y="33.9" width="37.8" height="35.7" filter="url(#sp23)" opacity="0.8"/></g>
<ellipse cx="355.5" cy="70.8" rx="2.6" ry="1.4" fill="#3a30ff" opacity="0.85"/>
<defs><filter id="sp24" x="0" y="0" width="1" height="1" color-interpolation-filters="sRGB"><feTurbulence type="fractalNoise" baseFrequency="1.5" numOctaves="1" seed="30"/><feColorMatrix type="matrix" values="0 0 0 0 1.000  0 0 0 0 1.000  0 0 0 0 1.000  6 0 0 0 -3.568"/></filter></defs>
<defs><clipPath id="cp28"><path d="M338.6,35.4 C340.8,34.4 344.7,34.9 347.8,34.9 C350.9,34.9 354.8,34.4 357.0,35.4 C359.2,36.4 359.9,38.9 361.1,41.0 C362.3,43.1 363.6,45.8 364.2,48.2 C364.8,50.6 364.9,53.1 364.7,55.3 C364.5,57.5 364.1,59.6 363.1,61.5 C362.2,63.4 360.5,65.4 359.0,66.6 C357.5,67.8 355.8,68.3 353.9,68.6 C352.0,68.8 349.7,68.6 347.8,68.1 C345.9,67.6 344.2,66.7 342.7,65.6 C341.2,64.5 339.8,63.0 338.6,61.5 C337.4,60.0 336.5,57.9 335.5,56.4 C334.5,54.9 333.6,54.0 332.5,52.8 C331.4,51.6 329.2,50.3 328.9,49.2 C328.5,48.1 329.5,47.5 330.4,46.1 C331.3,44.7 333.1,42.8 334.5,41.0 C335.9,39.2 336.4,36.4 338.6,35.4Z"/><path d="M312.7,99.8 C312.4,98.1 312.9,96.2 313.7,94.2 C314.5,92.2 315.7,90.0 317.3,88.1 C318.9,86.2 321.4,84.5 323.4,83.0 C325.4,81.5 327.4,80.2 329.5,79.4 C331.6,78.6 333.8,78.6 335.7,78.4 C337.6,78.2 338.8,77.6 340.8,78.2 C342.8,78.8 345.7,80.9 347.9,81.9 C350.1,82.9 351.9,83.5 354.0,84.0 C356.1,84.5 358.1,85.0 360.2,85.0 C362.2,85.0 364.7,85.2 366.3,84.0 C367.9,82.8 368.8,79.5 369.9,77.7 C371.0,75.9 372.1,74.1 373.2,73.3 C374.3,72.5 375.5,72.4 376.6,72.8 C377.7,73.2 378.4,74.5 379.9,75.5 C381.4,76.5 383.4,77.9 385.4,78.8 C387.4,79.7 389.8,80.3 392.0,81.0 C394.2,81.7 396.6,82.5 398.6,83.2 C400.6,83.9 402.7,84.5 404.2,85.4 C405.7,86.3 406.8,87.5 407.5,88.8 C408.2,90.1 408.6,91.5 408.6,93.2 C408.6,94.9 408.1,96.9 407.5,98.7 C406.9,100.5 406.1,102.4 405.3,104.2 C404.5,106.0 403.6,108.3 402.5,109.7 C401.4,111.1 400.2,111.8 398.6,112.5 C397.0,113.2 394.9,113.7 393.1,113.6 C391.3,113.5 389.2,112.7 387.6,111.9 C386.0,111.1 384.7,109.6 383.2,108.6 C381.7,107.6 380.5,106.6 378.8,105.9 C377.1,105.2 375.2,104.4 373.2,104.2 C371.2,104.0 368.8,104.3 366.6,104.6 C364.4,104.9 362.1,105.4 360.2,106.0 C358.3,106.6 356.8,107.2 355.1,108.0 C353.4,108.8 351.7,110.2 350.0,111.1 C348.3,112.0 346.8,112.9 344.9,113.6 C343.0,114.3 340.9,115.0 338.7,115.1 C336.5,115.2 333.8,114.6 331.6,114.1 C329.4,113.6 327.3,113.0 325.4,112.1 C323.5,111.2 322.0,109.8 320.3,108.5 C318.6,107.2 316.5,105.9 315.2,104.4 C313.9,103.0 312.9,101.5 312.7,99.8Z"/><path d="M376.6,57.8 C377.7,57.0 380.1,56.1 382.1,55.6 C384.1,55.1 386.3,54.4 388.7,54.5 C391.1,54.6 394.2,55.4 396.4,56.2 C398.6,57.0 400.9,58.3 402.0,59.5 C403.1,60.7 403.2,62.2 403.1,63.4 C403.0,64.6 402.2,65.9 401.4,66.7 C400.6,67.5 399.9,68.1 398.1,68.3 C396.4,68.5 392.8,67.7 390.9,67.8 C389.0,67.9 388.0,68.9 386.5,68.9 C385.0,68.9 383.6,68.0 382.1,67.8 C380.6,67.6 378.8,68.3 377.7,67.8 C376.6,67.2 375.9,65.8 375.5,64.5 C375.1,63.2 375.3,61.2 375.5,60.1 C375.7,59.0 375.5,58.5 376.6,57.8Z"/></clipPath></defs>
<g clip-path="url(#cp28)"><rect x="311.7" y="33.9" width="97.9" height="82.2" filter="url(#sp24)" opacity="0.35"/></g>
</g>
<path d="M521.50,25.20V123.50H646.30" fill="none" stroke="#555" stroke-width="0.85"/>
<line x1="517.90" y1="30.10" x2="521.50" y2="30.10" stroke="#555" stroke-width="0.75"/>
<text x="513.10" y="32.80" font-size="9.0" text-anchor="end" >10</text>
<line x1="517.90" y1="56.35" x2="521.50" y2="56.35" stroke="#555" stroke-width="0.75"/>
<text x="513.10" y="59.05" font-size="9.0" text-anchor="end" >5</text>
<line x1="517.90" y1="82.60" x2="521.50" y2="82.60" stroke="#555" stroke-width="0.75"/>
<text x="513.10" y="85.30" font-size="9.0" text-anchor="end" >0</text>
<line x1="517.90" y1="108.85" x2="521.50" y2="108.85" stroke="#555" stroke-width="0.75"/>
<text x="513.10" y="111.55" font-size="9.0" text-anchor="end" >−5</text>
<line x1="547.60" y1="123.50" x2="547.60" y2="127.70" stroke="#555" stroke-width="0.75"/>
<text x="547.60" y="139.10" font-size="9.0" text-anchor="middle" >−5</text>
<line x1="580.50" y1="123.50" x2="580.50" y2="127.70" stroke="#555" stroke-width="0.75"/>
<text x="580.50" y="139.10" font-size="9.0" text-anchor="middle" >0</text>
<line x1="613.60" y1="123.50" x2="613.60" y2="127.70" stroke="#555" stroke-width="0.75"/>
<text x="613.60" y="139.10" font-size="9.0" text-anchor="middle" >5</text>
<text x="559.80" y="18.00" font-size="10.3" textLength="45.11" lengthAdjust="spacingAndGlyphs" >FOS::JUN</text>
<text x="584.20" y="155.20" font-size="10.0" text-anchor="middle" >wnnUMAP_1</text>
<text transform="translate(495.60,74.70) rotate(-90)" text-anchor="middle" font-size="10" fill="#222">wnnUMAP_2</text>
<g transform="translate(0.0,159.3)">
<path d="M338.6,35.4 C340.8,34.4 344.7,34.9 347.8,34.9 C350.9,34.9 354.8,34.4 357.0,35.4 C359.2,36.4 359.9,38.9 361.1,41.0 C362.3,43.1 363.6,45.8 364.2,48.2 C364.8,50.6 364.9,53.1 364.7,55.3 C364.5,57.5 364.1,59.6 363.1,61.5 C362.2,63.4 360.5,65.4 359.0,66.6 C357.5,67.8 355.8,68.3 353.9,68.6 C352.0,68.8 349.7,68.6 347.8,68.1 C345.9,67.6 344.2,66.7 342.7,65.6 C341.2,64.5 339.8,63.0 338.6,61.5 C337.4,60.0 336.5,57.9 335.5,56.4 C334.5,54.9 333.6,54.0 332.5,52.8 C331.4,51.6 329.2,50.3 328.9,49.2 C328.5,48.1 329.5,47.5 330.4,46.1 C331.3,44.7 333.1,42.8 334.5,41.0 C335.9,39.2 336.4,36.4 338.6,35.4Z" fill="#d6d6d6"/>
<path d="M312.7,99.8 C312.4,98.1 312.9,96.2 313.7,94.2 C314.5,92.2 315.7,90.0 317.3,88.1 C318.9,86.2 321.4,84.5 323.4,83.0 C325.4,81.5 327.4,80.2 329.5,79.4 C331.6,78.6 333.8,78.6 335.7,78.4 C337.6,78.2 338.8,77.6 340.8,78.2 C342.8,78.8 345.7,80.9 347.9,81.9 C350.1,82.9 351.9,83.5 354.0,84.0 C356.1,84.5 358.1,85.0 360.2,85.0 C362.2,85.0 364.7,85.2 366.3,84.0 C367.9,82.8 368.8,79.5 369.9,77.7 C371.0,75.9 372.1,74.1 373.2,73.3 C374.3,72.5 375.5,72.4 376.6,72.8 C377.7,73.2 378.4,74.5 379.9,75.5 C381.4,76.5 383.4,77.9 385.4,78.8 C387.4,79.7 389.8,80.3 392.0,81.0 C394.2,81.7 396.6,82.5 398.6,83.2 C400.6,83.9 402.7,84.5 404.2,85.4 C405.7,86.3 406.8,87.5 407.5,88.8 C408.2,90.1 408.6,91.5 408.6,93.2 C408.6,94.9 408.1,96.9 407.5,98.7 C406.9,100.5 406.1,102.4 405.3,104.2 C404.5,106.0 403.6,108.3 402.5,109.7 C401.4,111.1 400.2,111.8 398.6,112.5 C397.0,113.2 394.9,113.7 393.1,113.6 C391.3,113.5 389.2,112.7 387.6,111.9 C386.0,111.1 384.7,109.6 383.2,108.6 C381.7,107.6 380.5,106.6 378.8,105.9 C377.1,105.2 375.2,104.4 373.2,104.2 C371.2,104.0 368.8,104.3 366.6,104.6 C364.4,104.9 362.1,105.4 360.2,106.0 C358.3,106.6 356.8,107.2 355.1,108.0 C353.4,108.8 351.7,110.2 350.0,111.1 C348.3,112.0 346.8,112.9 344.9,113.6 C343.0,114.3 340.9,115.0 338.7,115.1 C336.5,115.2 333.8,114.6 331.6,114.1 C329.4,113.6 327.3,113.0 325.4,112.1 C323.5,111.2 322.0,109.8 320.3,108.5 C318.6,107.2 316.5,105.9 315.2,104.4 C313.9,103.0 312.9,101.5 312.7,99.8Z" fill="#d6d6d6"/>
<path d="M376.6,57.8 C377.7,57.0 380.1,56.1 382.1,55.6 C384.1,55.1 386.3,54.4 388.7,54.5 C391.1,54.6 394.2,55.4 396.4,56.2 C398.6,57.0 400.9,58.3 402.0,59.5 C403.1,60.7 403.2,62.2 403.1,63.4 C403.0,64.6 402.2,65.9 401.4,66.7 C400.6,67.5 399.9,68.1 398.1,68.3 C396.4,68.5 392.8,67.7 390.9,67.8 C389.0,67.9 388.0,68.9 386.5,68.9 C385.0,68.9 383.6,68.0 382.1,67.8 C380.6,67.6 378.8,68.3 377.7,67.8 C376.6,67.2 375.9,65.8 375.5,64.5 C375.1,63.2 375.3,61.2 375.5,60.1 C375.7,59.0 375.5,58.5 376.6,57.8Z" fill="#d6d6d6"/>
<path d="M406.5,86.5 C406.7,84.3 407.9,82.8 409.0,81.8 C410.1,80.8 411.7,80.4 413.0,80.6 C414.3,80.8 416.1,81.9 416.9,82.8 C417.7,83.7 417.9,84.9 417.8,86.0 C417.7,87.1 416.7,88.3 416.0,89.5 C415.3,90.7 414.4,92.4 413.5,93.2 C412.6,94.0 411.4,94.3 410.5,94.6 C409.6,94.9 408.5,96.3 407.8,95.0 C407.1,93.7 406.3,88.7 406.5,86.5Z" fill="#d6d6d6"/>
<path d="M362.4,68.6 C362.9,68.0 364.4,67.7 365.5,67.7 C366.6,67.7 368.2,68.0 368.8,68.6 C369.4,69.2 369.4,70.6 368.8,71.2 C368.2,71.8 366.6,72.2 365.5,72.2 C364.4,72.2 362.9,71.9 362.4,71.3 C361.9,70.7 361.9,69.2 362.4,68.6Z" fill="#d6d6d6"/>
<defs><filter id="sp25" x="0" y="0" width="1" height="1" color-interpolation-filters="sRGB"><feTurbulence type="fractalNoise" baseFrequency="1.5" numOctaves="1" seed="60"/><feColorMatrix type="matrix" values="0 0 0 0 0.816  0 0 0 0 0.816  0 0 0 0 0.816  6 0 0 0 -2.581"/></filter></defs>
<defs><clipPath id="cp29"><path d="M389.0,67.5 C390.7,66.6 397.6,66.6 399.5,67.5 C401.4,68.4 400.8,71.0 400.5,73.0 C400.2,75.0 399.4,78.5 398.0,79.5 C396.6,80.5 393.4,80.1 392.0,79.0 C390.6,77.9 390.0,74.9 389.5,73.0 C389.0,71.1 387.3,68.4 389.0,67.5Z"/></clipPath></defs>
<g clip-path="url(#cp29)"><rect x="388.0" y="66.5" width="13.5" height="14.0" filter="url(#sp25)" opacity="1.0"/></g>
<defs><filter id="sp26" x="0" y="0" width="1" height="1" color-interpolation-filters="sRGB"><feTurbulence type="fractalNoise" baseFrequency="1.5" numOctaves="1" seed="61"/><feColorMatrix type="matrix" values="0 0 0 0 0.816  0 0 0 0 0.816  0 0 0 0 0.816  6 0 0 0 -2.337"/></filter></defs>
<defs><clipPath id="cp30"><path d="M375.5,66.5 C376.8,66.1 381.0,66.3 382.0,67.5 C383.0,68.7 382.5,72.5 381.5,73.5 C380.5,74.5 377.2,74.1 376.0,73.5 C374.8,72.9 374.6,71.2 374.5,70.0 C374.4,68.8 374.2,66.9 375.5,66.5Z"/></clipPath></defs>
<g clip-path="url(#cp30)"><rect x="373.5" y="65.5" width="9.5" height="9.0" filter="url(#sp26)" opacity="1.0"/></g>
<defs><filter id="sp27" x="0" y="0" width="1" height="1" color-interpolation-filters="sRGB"><feTurbulence type="fractalNoise" baseFrequency="1.5" numOctaves="1" seed="62"/><feColorMatrix type="matrix" values="0 0 0 0 0.816  0 0 0 0 0.816  0 0 0 0 0.816  6 0 0 0 -3.358"/></filter></defs>
<defs><clipPath id="cp31"><path d="M361.0,40.0 C361.5,39.5 365.5,44.3 368.0,47.0 C370.5,49.7 374.8,52.8 376.0,56.0 C377.2,59.2 376.2,64.3 375.0,66.0 C373.8,67.7 370.8,66.7 369.0,66.0 C367.2,65.3 364.7,64.7 364.0,62.0 C363.3,59.3 365.5,53.7 365.0,50.0 C364.5,46.3 360.5,40.5 361.0,40.0Z"/></clipPath></defs>
<g clip-path="url(#cp31)"><rect x="360.0" y="39.0" width="17.0" height="28.0" filter="url(#sp27)" opacity="1.0"/></g>
<defs><filter id="sp28" x="0" y="0" width="1" height="1" color-interpolation-filters="sRGB"><feTurbulence type="fractalNoise" baseFrequency="1.5" numOctaves="1" seed="63"/><feColorMatrix type="matrix" values="0 0 0 0 0.816  0 0 0 0 0.816  0 0 0 0 0.816  6 0 0 0 -2.836"/></filter></defs>
<defs><clipPath id="cp32"><path d="M338.0,76.5 C339.5,76.1 346.7,75.4 350.0,76.0 C353.3,76.6 355.3,79.3 358.0,80.0 C360.7,80.7 364.7,79.3 366.0,80.0 C367.3,80.7 368.0,83.3 366.0,84.0 C364.0,84.7 357.0,84.3 354.0,84.0 C351.0,83.7 350.1,82.9 347.9,81.9 C345.7,80.9 342.4,79.1 340.8,78.2 C339.2,77.3 336.5,76.9 338.0,76.5Z"/></clipPath></defs>
<g clip-path="url(#cp32)"><rect x="337.0" y="75.0" width="30.0" height="10.0" filter="url(#sp28)" opacity="1.0"/></g>
<defs><filter id="sp29" x="0" y="0" width="1" height="1" color-interpolation-filters="sRGB"><feTurbulence type="fractalNoise" baseFrequency="1.5" numOctaves="1" seed="23"/><feColorMatrix type="matrix" values="0 0 0 0 0.949  0 0 0 0 0.667  0 0 0 0 0.627  6 0 0 0 -3.516"/></filter></defs>
<defs><clipPath id="cp33"><path d="M338.6,35.4 C340.8,34.4 344.7,34.9 347.8,34.9 C350.9,34.9 354.8,34.4 357.0,35.4 C359.2,36.4 359.9,38.9 361.1,41.0 C362.3,43.1 363.6,45.8 364.2,48.2 C364.8,50.6 364.9,53.1 364.7,55.3 C364.5,57.5 364.1,59.6 363.1,61.5 C362.2,63.4 360.5,65.4 359.0,66.6 C357.5,67.8 355.8,68.3 353.9,68.6 C352.0,68.8 349.7,68.6 347.8,68.1 C345.9,67.6 344.2,66.7 342.7,65.6 C341.2,64.5 339.8,63.0 338.6,61.5 C337.4,60.0 336.5,57.9 335.5,56.4 C334.5,54.9 333.6,54.0 332.5,52.8 C331.4,51.6 329.2,50.3 328.9,49.2 C328.5,48.1 329.5,47.5 330.4,46.1 C331.3,44.7 333.1,42.8 334.5,41.0 C335.9,39.2 336.4,36.4 338.6,35.4Z"/><path d="M312.7,99.8 C312.4,98.1 312.9,96.2 313.7,94.2 C314.5,92.2 315.7,90.0 317.3,88.1 C318.9,86.2 321.4,84.5 323.4,83.0 C325.4,81.5 327.4,80.2 329.5,79.4 C331.6,78.6 333.8,78.6 335.7,78.4 C337.6,78.2 338.8,77.6 340.8,78.2 C342.8,78.8 345.7,80.9 347.9,81.9 C350.1,82.9 351.9,83.5 354.0,84.0 C356.1,84.5 358.1,85.0 360.2,85.0 C362.2,85.0 364.7,85.2 366.3,84.0 C367.9,82.8 368.8,79.5 369.9,77.7 C371.0,75.9 372.1,74.1 373.2,73.3 C374.3,72.5 375.5,72.4 376.6,72.8 C377.7,73.2 378.4,74.5 379.9,75.5 C381.4,76.5 383.4,77.9 385.4,78.8 C387.4,79.7 389.8,80.3 392.0,81.0 C394.2,81.7 396.6,82.5 398.6,83.2 C400.6,83.9 402.7,84.5 404.2,85.4 C405.7,86.3 406.8,87.5 407.5,88.8 C408.2,90.1 408.6,91.5 408.6,93.2 C408.6,94.9 408.1,96.9 407.5,98.7 C406.9,100.5 406.1,102.4 405.3,104.2 C404.5,106.0 403.6,108.3 402.5,109.7 C401.4,111.1 400.2,111.8 398.6,112.5 C397.0,113.2 394.9,113.7 393.1,113.6 C391.3,113.5 389.2,112.7 387.6,111.9 C386.0,111.1 384.7,109.6 383.2,108.6 C381.7,107.6 380.5,106.6 378.8,105.9 C377.1,105.2 375.2,104.4 373.2,104.2 C371.2,104.0 368.8,104.3 366.6,104.6 C364.4,104.9 362.1,105.4 360.2,106.0 C358.3,106.6 356.8,107.2 355.1,108.0 C353.4,108.8 351.7,110.2 350.0,111.1 C348.3,112.0 346.8,112.9 344.9,113.6 C343.0,114.3 340.9,115.0 338.7,115.1 C336.5,115.2 333.8,114.6 331.6,114.1 C329.4,113.6 327.3,113.0 325.4,112.1 C323.5,111.2 322.0,109.8 320.3,108.5 C318.6,107.2 316.5,105.9 315.2,104.4 C313.9,103.0 312.9,101.5 312.7,99.8Z"/><path d="M376.6,57.8 C377.7,57.0 380.1,56.1 382.1,55.6 C384.1,55.1 386.3,54.4 388.7,54.5 C391.1,54.6 394.2,55.4 396.4,56.2 C398.6,57.0 400.9,58.3 402.0,59.5 C403.1,60.7 403.2,62.2 403.1,63.4 C403.0,64.6 402.2,65.9 401.4,66.7 C400.6,67.5 399.9,68.1 398.1,68.3 C396.4,68.5 392.8,67.7 390.9,67.8 C389.0,67.9 388.0,68.9 386.5,68.9 C385.0,68.9 383.6,68.0 382.1,67.8 C380.6,67.6 378.8,68.3 377.7,67.8 C376.6,67.2 375.9,65.8 375.5,64.5 C375.1,63.2 375.3,61.2 375.5,60.1 C375.7,59.0 375.5,58.5 376.6,57.8Z"/><path d="M406.5,86.5 C406.7,84.3 407.9,82.8 409.0,81.8 C410.1,80.8 411.7,80.4 413.0,80.6 C414.3,80.8 416.1,81.9 416.9,82.8 C417.7,83.7 417.9,84.9 417.8,86.0 C417.7,87.1 416.7,88.3 416.0,89.5 C415.3,90.7 414.4,92.4 413.5,93.2 C412.6,94.0 411.4,94.3 410.5,94.6 C409.6,94.9 408.5,96.3 407.8,95.0 C407.1,93.7 406.3,88.7 406.5,86.5Z"/><path d="M362.4,68.6 C362.9,68.0 364.4,67.7 365.5,67.7 C366.6,67.7 368.2,68.0 368.8,68.6 C369.4,69.2 369.4,70.6 368.8,71.2 C368.2,71.8 366.6,72.2 365.5,72.2 C364.4,72.2 362.9,71.9 362.4,71.3 C361.9,70.7 361.9,69.2 362.4,68.6Z"/></clipPath></defs>
<g clip-path="url(#cp33)"><rect x="311.7" y="33.9" width="107.1" height="82.2" filter="url(#sp29)" opacity="1.0"/></g>
<defs><radialGradient id="mk5g" gradientUnits="userSpaceOnUse" cx="348" cy="52" r="19" gradientTransform="translate(348,52) scale(1,1.000) translate(-348,-52)"><stop offset="0.35" stop-color="#fff" stop-opacity="0.0"/><stop offset="1" stop-color="#fff" stop-opacity="1.0"/></radialGradient><mask id="mk5" maskUnits="userSpaceOnUse" x="300" y="20" width="130" height="110"><rect x="300" y="20" width="130" height="110" fill="url(#mk5g)"/></mask></defs>
<defs><filter id="sp30" x="0" y="0" width="1" height="1" color-interpolation-filters="sRGB"><feTurbulence type="fractalNoise" baseFrequency="1.5" numOctaves="1" seed="24"/><feColorMatrix type="matrix" values="0 0 0 0 0.941  0 0 0 0 0.596  0 0 0 0 0.533  6 0 0 0 -3.03"/></filter></defs>
<defs><clipPath id="cp34"><path d="M338.6,35.4 C340.8,34.4 344.7,34.9 347.8,34.9 C350.9,34.9 354.8,34.4 357.0,35.4 C359.2,36.4 359.9,38.9 361.1,41.0 C362.3,43.1 363.6,45.8 364.2,48.2 C364.8,50.6 364.9,53.1 364.7,55.3 C364.5,57.5 364.1,59.6 363.1,61.5 C362.2,63.4 360.5,65.4 359.0,66.6 C357.5,67.8 355.8,68.3 353.9,68.6 C352.0,68.8 349.7,68.6 347.8,68.1 C345.9,67.6 344.2,66.7 342.7,65.6 C341.2,64.5 339.8,63.0 338.6,61.5 C337.4,60.0 336.5,57.9 335.5,56.4 C334.5,54.9 333.6,54.0 332.5,52.8 C331.4,51.6 329.2,50.3 328.9,49.2 C328.5,48.1 329.5,47.5 330.4,46.1 C331.3,44.7 333.1,42.8 334.5,41.0 C335.9,39.2 336.4,36.4 338.6,35.4Z"/></clipPath></defs>
<g clip-path="url(#cp34)" mask="url(#mk5)"><rect x="327.9" y="33.9" width="37.8" height="35.7" filter="url(#sp30)" opacity="1.0"/></g>
<defs><radialGradient id="mk6g" gradientUnits="userSpaceOnUse" cx="336" cy="97" r="28" gradientTransform="translate(336,97) scale(1,0.679) translate(-336,-97)"><stop offset="0.35" stop-color="#fff" stop-opacity="0.0"/><stop offset="1" stop-color="#fff" stop-opacity="1.0"/></radialGradient><mask id="mk6" maskUnits="userSpaceOnUse" x="300" y="20" width="130" height="110"><rect x="300" y="20" width="130" height="110" fill="url(#mk6g)"/></mask></defs>
<defs><filter id="sp31" x="0" y="0" width="1" height="1" color-interpolation-filters="sRGB"><feTurbulence type="fractalNoise" baseFrequency="1.5" numOctaves="1" seed="25"/><feColorMatrix type="matrix" values="0 0 0 0 0.941  0 0 0 0 0.596  0 0 0 0 0.533  6 0 0 0 -3.079"/></filter></defs>
<defs><clipPath id="cp35"><path d="M312.7,99.8 C312.4,98.1 312.9,96.2 313.7,94.2 C314.5,92.2 315.7,90.0 317.3,88.1 C318.9,86.2 321.4,84.5 323.4,83.0 C325.4,81.5 327.4,80.2 329.5,79.4 C331.6,78.6 333.8,78.6 335.7,78.4 C337.6,78.2 338.8,77.6 340.8,78.2 C342.8,78.8 345.7,80.9 347.9,81.9 C350.1,82.9 351.9,83.5 354.0,84.0 C356.1,84.5 358.1,85.0 360.2,85.0 C362.2,85.0 364.7,85.2 366.3,84.0 C367.9,82.8 368.8,79.5 369.9,77.7 C371.0,75.9 372.1,74.1 373.2,73.3 C374.3,72.5 375.5,72.4 376.6,72.8 C377.7,73.2 378.4,74.5 379.9,75.5 C381.4,76.5 383.4,77.9 385.4,78.8 C387.4,79.7 389.8,80.3 392.0,81.0 C394.2,81.7 396.6,82.5 398.6,83.2 C400.6,83.9 402.7,84.5 404.2,85.4 C405.7,86.3 406.8,87.5 407.5,88.8 C408.2,90.1 408.6,91.5 408.6,93.2 C408.6,94.9 408.1,96.9 407.5,98.7 C406.9,100.5 406.1,102.4 405.3,104.2 C404.5,106.0 403.6,108.3 402.5,109.7 C401.4,111.1 400.2,111.8 398.6,112.5 C397.0,113.2 394.9,113.7 393.1,113.6 C391.3,113.5 389.2,112.7 387.6,111.9 C386.0,111.1 384.7,109.6 383.2,108.6 C381.7,107.6 380.5,106.6 378.8,105.9 C377.1,105.2 375.2,104.4 373.2,104.2 C371.2,104.0 368.8,104.3 366.6,104.6 C364.4,104.9 362.1,105.4 360.2,106.0 C358.3,106.6 356.8,107.2 355.1,108.0 C353.4,108.8 351.7,110.2 350.0,111.1 C348.3,112.0 346.8,112.9 344.9,113.6 C343.0,114.3 340.9,115.0 338.7,115.1 C336.5,115.2 333.8,114.6 331.6,114.1 C329.4,113.6 327.3,113.0 325.4,112.1 C323.5,111.2 322.0,109.8 320.3,108.5 C318.6,107.2 316.5,105.9 315.2,104.4 C313.9,103.0 312.9,101.5 312.7,99.8Z"/></clipPath></defs>
<g clip-path="url(#cp35)" mask="url(#mk6)"><rect x="311.7" y="71.8" width="97.9" height="44.3" filter="url(#sp31)" opacity="1.0"/></g>
<defs><linearGradient id="mk7g" gradientUnits="userSpaceOnUse" x1="372" y1="80" x2="408" y2="112"><stop offset="0" stop-color="#fff" stop-opacity="0.2"/><stop offset="1" stop-color="#fff" stop-opacity="1.0"/></linearGradient><mask id="mk7" maskUnits="userSpaceOnUse" x="300" y="20" width="130" height="110"><rect x="300" y="20" width="130" height="110" fill="url(#mk7g)"/></mask></defs>
<defs><filter id="sp32" x="0" y="0" width="1" height="1" color-interpolation-filters="sRGB"><feTurbulence type="fractalNoise" baseFrequency="1.5" numOctaves="1" seed="27"/><feColorMatrix type="matrix" values="0 0 0 0 0.941  0 0 0 0 0.565  0 0 0 0 0.502  6 0 0 0 -3.03"/></filter></defs>
<defs><clipPath id="cp36"><path d="M372.0,78.0 C372.8,72.8 375.3,73.2 376.6,72.8 C377.9,72.4 378.4,74.5 379.9,75.5 C381.4,76.5 383.4,77.9 385.4,78.8 C387.4,79.7 389.8,80.3 392.0,81.0 C394.2,81.7 396.6,82.5 398.6,83.2 C400.6,83.9 402.7,84.5 404.2,85.4 C405.7,86.3 406.8,87.5 407.5,88.8 C408.2,90.1 408.6,91.5 408.6,93.2 C408.6,94.9 408.1,96.9 407.5,98.7 C406.9,100.5 406.1,102.4 405.3,104.2 C404.5,106.0 403.6,108.3 402.5,109.7 C401.4,111.1 400.2,111.8 398.6,112.5 C397.0,113.2 394.9,113.7 393.1,113.6 C391.3,113.5 389.2,112.7 387.6,111.9 C386.0,111.1 384.7,109.6 383.2,108.6 C381.7,107.6 380.5,106.6 378.8,105.9 C377.1,105.2 374.3,104.5 373.2,104.2 C372.1,103.9 372.2,108.4 372.0,104.0 C371.8,99.6 371.2,83.2 372.0,78.0Z"/></clipPath></defs>
<g clip-path="url(#cp36)" mask="url(#mk7)"><rect x="371.0" y="71.8" width="38.6" height="42.8" filter="url(#sp32)" opacity="1.0"/></g>
<defs><filter id="sp33" x="0" y="0" width="1" height="1" color-interpolation-filters="sRGB"><feTurbulence type="fractalNoise" baseFrequency="1.5" numOctaves="1" seed="28"/><feColorMatrix type="matrix" values="0 0 0 0 0.941  0 0 0 0 0.471  0 0 0 0 0.408  6 0 0 0 -2.727"/></filter></defs>
<defs><clipPath id="cp37"><path d="M376.6,57.8 C377.7,57.0 380.1,56.1 382.1,55.6 C384.1,55.1 386.3,54.4 388.7,54.5 C391.1,54.6 394.2,55.4 396.4,56.2 C398.6,57.0 400.9,58.3 402.0,59.5 C403.1,60.7 403.2,62.2 403.1,63.4 C403.0,64.6 402.2,65.9 401.4,66.7 C400.6,67.5 399.9,68.1 398.1,68.3 C396.4,68.5 392.8,67.7 390.9,67.8 C389.0,67.9 388.0,68.9 386.5,68.9 C385.0,68.9 383.6,68.0 382.1,67.8 C380.6,67.6 378.8,68.3 377.7,67.8 C376.6,67.2 375.9,65.8 375.5,64.5 C375.1,63.2 375.3,61.2 375.5,60.1 C375.7,59.0 375.5,58.5 376.6,57.8Z"/><path d="M375.5,66.5 C376.8,66.1 381.0,66.3 382.0,67.5 C383.0,68.7 382.5,72.5 381.5,73.5 C380.5,74.5 377.2,74.1 376.0,73.5 C374.8,72.9 374.6,71.2 374.5,70.0 C374.4,68.8 374.2,66.9 375.5,66.5Z"/></clipPath></defs>
<g clip-path="url(#cp37)"><rect x="373.5" y="53.5" width="30.6" height="21.0" filter="url(#sp33)" opacity="1.0"/></g>
<defs><filter id="sp34" x="0" y="0" width="1" height="1" color-interpolation-filters="sRGB"><feTurbulence type="fractalNoise" baseFrequency="1.5" numOctaves="1" seed="29"/><feColorMatrix type="matrix" values="0 0 0 0 0.941  0 0 0 0 0.220  0 0 0 0 0.157  6 0 0 0 -2.419"/></filter></defs>
<defs><clipPath id="cp38"><path d="M406.5,86.5 C406.7,84.3 407.9,82.8 409.0,81.8 C410.1,80.8 411.7,80.4 413.0,80.6 C414.3,80.8 416.1,81.9 416.9,82.8 C417.7,83.7 417.9,84.9 417.8,86.0 C417.7,87.1 416.7,88.3 416.0,89.5 C415.3,90.7 414.4,92.4 413.5,93.2 C412.6,94.0 411.4,94.3 410.5,94.6 C409.6,94.9 408.5,96.3 407.8,95.0 C407.1,93.7 406.3,88.7 406.5,86.5Z"/></clipPath></defs>
<g clip-path="url(#cp38)"><rect x="405.5" y="79.6" width="13.3" height="16.4" filter="url(#sp34)" opacity="1.0"/></g>
<defs><filter id="sp35" x="0" y="0" width="1" height="1" color-interpolation-filters="sRGB"><feTurbulence type="fractalNoise" baseFrequency="1.5" numOctaves="1" seed="40"/><feColorMatrix type="matrix" values="0 0 0 0 1.000  0 0 0 0 1.000  0 0 0 0 1.000  6 0 0 0 -3.568"/></filter></defs>
<defs><clipPath id="cp39"><path d="M338.6,35.4 C340.8,34.4 344.7,34.9 347.8,34.9 C350.9,34.9 354.8,34.4 357.0,35.4 C359.2,36.4 359.9,38.9 361.1,41.0 C362.3,43.1 363.6,45.8 364.2,48.2 C364.8,50.6 364.9,53.1 364.7,55.3 C364.5,57.5 364.1,59.6 363.1,61.5 C362.2,63.4 360.5,65.4 359.0,66.6 C357.5,67.8 355.8,68.3 353.9,68.6 C352.0,68.8 349.7,68.6 347.8,68.1 C345.9,67.6 344.2,66.7 342.7,65.6 C341.2,64.5 339.8,63.0 338.6,61.5 C337.4,60.0 336.5,57.9 335.5,56.4 C334.5,54.9 333.6,54.0 332.5,52.8 C331.4,51.6 329.2,50.3 328.9,49.2 C328.5,48.1 329.5,47.5 330.4,46.1 C331.3,44.7 333.1,42.8 334.5,41.0 C335.9,39.2 336.4,36.4 338.6,35.4Z"/><path d="M312.7,99.8 C312.4,98.1 312.9,96.2 313.7,94.2 C314.5,92.2 315.7,90.0 317.3,88.1 C318.9,86.2 321.4,84.5 323.4,83.0 C325.4,81.5 327.4,80.2 329.5,79.4 C331.6,78.6 333.8,78.6 335.7,78.4 C337.6,78.2 338.8,77.6 340.8,78.2 C342.8,78.8 345.7,80.9 347.9,81.9 C350.1,82.9 351.9,83.5 354.0,84.0 C356.1,84.5 358.1,85.0 360.2,85.0 C362.2,85.0 364.7,85.2 366.3,84.0 C367.9,82.8 368.8,79.5 369.9,77.7 C371.0,75.9 372.1,74.1 373.2,73.3 C374.3,72.5 375.5,72.4 376.6,72.8 C377.7,73.2 378.4,74.5 379.9,75.5 C381.4,76.5 383.4,77.9 385.4,78.8 C387.4,79.7 389.8,80.3 392.0,81.0 C394.2,81.7 396.6,82.5 398.6,83.2 C400.6,83.9 402.7,84.5 404.2,85.4 C405.7,86.3 406.8,87.5 407.5,88.8 C408.2,90.1 408.6,91.5 408.6,93.2 C408.6,94.9 408.1,96.9 407.5,98.7 C406.9,100.5 406.1,102.4 405.3,104.2 C404.5,106.0 403.6,108.3 402.5,109.7 C401.4,111.1 400.2,111.8 398.6,112.5 C397.0,113.2 394.9,113.7 393.1,113.6 C391.3,113.5 389.2,112.7 387.6,111.9 C386.0,111.1 384.7,109.6 383.2,108.6 C381.7,107.6 380.5,106.6 378.8,105.9 C377.1,105.2 375.2,104.4 373.2,104.2 C371.2,104.0 368.8,104.3 366.6,104.6 C364.4,104.9 362.1,105.4 360.2,106.0 C358.3,106.6 356.8,107.2 355.1,108.0 C353.4,108.8 351.7,110.2 350.0,111.1 C348.3,112.0 346.8,112.9 344.9,113.6 C343.0,114.3 340.9,115.0 338.7,115.1 C336.5,115.2 333.8,114.6 331.6,114.1 C329.4,113.6 327.3,113.0 325.4,112.1 C323.5,111.2 322.0,109.8 320.3,108.5 C318.6,107.2 316.5,105.9 315.2,104.4 C313.9,103.0 312.9,101.5 312.7,99.8Z"/><path d="M376.6,57.8 C377.7,57.0 380.1,56.1 382.1,55.6 C384.1,55.1 386.3,54.4 388.7,54.5 C391.1,54.6 394.2,55.4 396.4,56.2 C398.6,57.0 400.9,58.3 402.0,59.5 C403.1,60.7 403.2,62.2 403.1,63.4 C403.0,64.6 402.2,65.9 401.4,66.7 C400.6,67.5 399.9,68.1 398.1,68.3 C396.4,68.5 392.8,67.7 390.9,67.8 C389.0,67.9 388.0,68.9 386.5,68.9 C385.0,68.9 383.6,68.0 382.1,67.8 C380.6,67.6 378.8,68.3 377.7,67.8 C376.6,67.2 375.9,65.8 375.5,64.5 C375.1,63.2 375.3,61.2 375.5,60.1 C375.7,59.0 375.5,58.5 376.6,57.8Z"/></clipPath></defs>
<g clip-path="url(#cp39)"><rect x="311.7" y="33.9" width="97.9" height="82.2" filter="url(#sp35)" opacity="0.35"/></g>
</g>
<path d="M303.50,184.50V282.80H428.30" fill="none" stroke="#555" stroke-width="0.85"/>
<line x1="299.90" y1="189.40" x2="303.50" y2="189.40" stroke="#555" stroke-width="0.75"/>
<text x="295.10" y="192.10" font-size="9.0" text-anchor="end" >10</text>
<line x1="299.90" y1="215.65" x2="303.50" y2="215.65" stroke="#555" stroke-width="0.75"/>
<text x="295.10" y="218.35" font-size="9.0" text-anchor="end" >5</text>
<line x1="299.90" y1="241.90" x2="303.50" y2="241.90" stroke="#555" stroke-width="0.75"/>
<text x="295.10" y="244.60" font-size="9.0" text-anchor="end" >0</text>
<line x1="299.90" y1="268.15" x2="303.50" y2="268.15" stroke="#555" stroke-width="0.75"/>
<text x="295.10" y="270.85" font-size="9.0" text-anchor="end" >−5</text>
<line x1="329.60" y1="282.80" x2="329.60" y2="287.00" stroke="#555" stroke-width="0.75"/>
<text x="329.60" y="298.40" font-size="9.0" text-anchor="middle" >−5</text>
<line x1="362.50" y1="282.80" x2="362.50" y2="287.00" stroke="#555" stroke-width="0.75"/>
<text x="362.50" y="298.40" font-size="9.0" text-anchor="middle" >0</text>
<line x1="395.60" y1="282.80" x2="395.60" y2="287.00" stroke="#555" stroke-width="0.75"/>
<text x="395.60" y="298.40" font-size="9.0" text-anchor="middle" >5</text>
<text x="355.80" y="179.60" font-size="10.3" textLength="20.70" lengthAdjust="spacingAndGlyphs" >IRF7</text>
<text x="366.20" y="314.50" font-size="10.0" text-anchor="middle" >wnnUMAP_1</text>
<text transform="translate(277.60,234.00) rotate(-90)" text-anchor="middle" font-size="10" fill="#222">wnnUMAP_2</text>
<g transform="translate(218.0,159.3)">
<path d="M338.6,35.4 C340.8,34.4 344.7,34.9 347.8,34.9 C350.9,34.9 354.8,34.4 357.0,35.4 C359.2,36.4 359.9,38.9 361.1,41.0 C362.3,43.1 363.6,45.8 364.2,48.2 C364.8,50.6 364.9,53.1 364.7,55.3 C364.5,57.5 364.1,59.6 363.1,61.5 C362.2,63.4 360.5,65.4 359.0,66.6 C357.5,67.8 355.8,68.3 353.9,68.6 C352.0,68.8 349.7,68.6 347.8,68.1 C345.9,67.6 344.2,66.7 342.7,65.6 C341.2,64.5 339.8,63.0 338.6,61.5 C337.4,60.0 336.5,57.9 335.5,56.4 C334.5,54.9 333.6,54.0 332.5,52.8 C331.4,51.6 329.2,50.3 328.9,49.2 C328.5,48.1 329.5,47.5 330.4,46.1 C331.3,44.7 333.1,42.8 334.5,41.0 C335.9,39.2 336.4,36.4 338.6,35.4Z" fill="#d6d6d6"/>
<path d="M312.7,99.8 C312.4,98.1 312.9,96.2 313.7,94.2 C314.5,92.2 315.7,90.0 317.3,88.1 C318.9,86.2 321.4,84.5 323.4,83.0 C325.4,81.5 327.4,80.2 329.5,79.4 C331.6,78.6 333.8,78.6 335.7,78.4 C337.6,78.2 338.8,77.6 340.8,78.2 C342.8,78.8 345.7,80.9 347.9,81.9 C350.1,82.9 351.9,83.5 354.0,84.0 C356.1,84.5 358.1,85.0 360.2,85.0 C362.2,85.0 364.7,85.2 366.3,84.0 C367.9,82.8 368.8,79.5 369.9,77.7 C371.0,75.9 372.1,74.1 373.2,73.3 C374.3,72.5 375.5,72.4 376.6,72.8 C377.7,73.2 378.4,74.5 379.9,75.5 C381.4,76.5 383.4,77.9 385.4,78.8 C387.4,79.7 389.8,80.3 392.0,81.0 C394.2,81.7 396.6,82.5 398.6,83.2 C400.6,83.9 402.7,84.5 404.2,85.4 C405.7,86.3 406.8,87.5 407.5,88.8 C408.2,90.1 408.6,91.5 408.6,93.2 C408.6,94.9 408.1,96.9 407.5,98.7 C406.9,100.5 406.1,102.4 405.3,104.2 C404.5,106.0 403.6,108.3 402.5,109.7 C401.4,111.1 400.2,111.8 398.6,112.5 C397.0,113.2 394.9,113.7 393.1,113.6 C391.3,113.5 389.2,112.7 387.6,111.9 C386.0,111.1 384.7,109.6 383.2,108.6 C381.7,107.6 380.5,106.6 378.8,105.9 C377.1,105.2 375.2,104.4 373.2,104.2 C371.2,104.0 368.8,104.3 366.6,104.6 C364.4,104.9 362.1,105.4 360.2,106.0 C358.3,106.6 356.8,107.2 355.1,108.0 C353.4,108.8 351.7,110.2 350.0,111.1 C348.3,112.0 346.8,112.9 344.9,113.6 C343.0,114.3 340.9,115.0 338.7,115.1 C336.5,115.2 333.8,114.6 331.6,114.1 C329.4,113.6 327.3,113.0 325.4,112.1 C323.5,111.2 322.0,109.8 320.3,108.5 C318.6,107.2 316.5,105.9 315.2,104.4 C313.9,103.0 312.9,101.5 312.7,99.8Z" fill="#d6d6d6"/>
<path d="M376.6,57.8 C377.7,57.0 380.1,56.1 382.1,55.6 C384.1,55.1 386.3,54.4 388.7,54.5 C391.1,54.6 394.2,55.4 396.4,56.2 C398.6,57.0 400.9,58.3 402.0,59.5 C403.1,60.7 403.2,62.2 403.1,63.4 C403.0,64.6 402.2,65.9 401.4,66.7 C400.6,67.5 399.9,68.1 398.1,68.3 C396.4,68.5 392.8,67.7 390.9,67.8 C389.0,67.9 388.0,68.9 386.5,68.9 C385.0,68.9 383.6,68.0 382.1,67.8 C380.6,67.6 378.8,68.3 377.7,67.8 C376.6,67.2 375.9,65.8 375.5,64.5 C375.1,63.2 375.3,61.2 375.5,60.1 C375.7,59.0 375.5,58.5 376.6,57.8Z" fill="#d6d6d6"/>
<path d="M406.5,86.5 C406.7,84.3 407.9,82.8 409.0,81.8 C410.1,80.8 411.7,80.4 413.0,80.6 C414.3,80.8 416.1,81.9 416.9,82.8 C417.7,83.7 417.9,84.9 417.8,86.0 C417.7,87.1 416.7,88.3 416.0,89.5 C415.3,90.7 414.4,92.4 413.5,93.2 C412.6,94.0 411.4,94.3 410.5,94.6 C409.6,94.9 408.5,96.3 407.8,95.0 C407.1,93.7 406.3,88.7 406.5,86.5Z" fill="#d6d6d6"/>
<path d="M362.4,68.6 C362.9,68.0 364.4,67.7 365.5,67.7 C366.6,67.7 368.2,68.0 368.8,68.6 C369.4,69.2 369.4,70.6 368.8,71.2 C368.2,71.8 366.6,72.2 365.5,72.2 C364.4,72.2 362.9,71.9 362.4,71.3 C361.9,70.7 361.9,69.2 362.4,68.6Z" fill="#d6d6d6"/>
<defs><filter id="sp36" x="0" y="0" width="1" height="1" color-interpolation-filters="sRGB"><feTurbulence type="fractalNoise" baseFrequency="1.5" numOctaves="1" seed="70"/><feColorMatrix type="matrix" values="0 0 0 0 0.816  0 0 0 0 0.816  0 0 0 0 0.816  6 0 0 0 -2.581"/></filter></defs>
<defs><clipPath id="cp40"><path d="M389.0,67.5 C390.7,66.6 397.6,66.6 399.5,67.5 C401.4,68.4 400.8,71.0 400.5,73.0 C400.2,75.0 399.4,78.5 398.0,79.5 C396.6,80.5 393.4,80.1 392.0,79.0 C390.6,77.9 390.0,74.9 389.5,73.0 C389.0,71.1 387.3,68.4 389.0,67.5Z"/></clipPath></defs>
<g clip-path="url(#cp40)"><rect x="388.0" y="66.5" width="13.5" height="14.0" filter="url(#sp36)" opacity="1.0"/></g>
<defs><filter id="sp37" x="0" y="0" width="1" height="1" color-interpolation-filters="sRGB"><feTurbulence type="fractalNoise" baseFrequency="1.5" numOctaves="1" seed="71"/><feColorMatrix type="matrix" values="0 0 0 0 0.816  0 0 0 0 0.816  0 0 0 0 0.816  6 0 0 0 -2.337"/></filter></defs>
<defs><clipPath id="cp41"><path d="M375.5,66.5 C376.8,66.1 381.0,66.3 382.0,67.5 C383.0,68.7 382.5,72.5 381.5,73.5 C380.5,74.5 377.2,74.1 376.0,73.5 C374.8,72.9 374.6,71.2 374.5,70.0 C374.4,68.8 374.2,66.9 375.5,66.5Z"/></clipPath></defs>
<g clip-path="url(#cp41)"><rect x="373.5" y="65.5" width="9.5" height="9.0" filter="url(#sp37)" opacity="1.0"/></g>
<defs><filter id="sp38" x="0" y="0" width="1" height="1" color-interpolation-filters="sRGB"><feTurbulence type="fractalNoise" baseFrequency="1.5" numOctaves="1" seed="72"/><feColorMatrix type="matrix" values="0 0 0 0 0.816  0 0 0 0 0.816  0 0 0 0 0.816  6 0 0 0 -3.358"/></filter></defs>
<defs><clipPath id="cp42"><path d="M361.0,40.0 C361.5,39.5 365.5,44.3 368.0,47.0 C370.5,49.7 374.8,52.8 376.0,56.0 C377.2,59.2 376.2,64.3 375.0,66.0 C373.8,67.7 370.8,66.7 369.0,66.0 C367.2,65.3 364.7,64.7 364.0,62.0 C363.3,59.3 365.5,53.7 365.0,50.0 C364.5,46.3 360.5,40.5 361.0,40.0Z"/></clipPath></defs>
<g clip-path="url(#cp42)"><rect x="360.0" y="39.0" width="17.0" height="28.0" filter="url(#sp38)" opacity="1.0"/></g>
<defs><filter id="sp39" x="0" y="0" width="1" height="1" color-interpolation-filters="sRGB"><feTurbulence type="fractalNoise" baseFrequency="1.5" numOctaves="1" seed="73"/><feColorMatrix type="matrix" values="0 0 0 0 0.816  0 0 0 0 0.816  0 0 0 0 0.816  6 0 0 0 -2.836"/></filter></defs>
<defs><clipPath id="cp43"><path d="M338.0,76.5 C339.5,76.1 346.7,75.4 350.0,76.0 C353.3,76.6 355.3,79.3 358.0,80.0 C360.7,80.7 364.7,79.3 366.0,80.0 C367.3,80.7 368.0,83.3 366.0,84.0 C364.0,84.7 357.0,84.3 354.0,84.0 C351.0,83.7 350.1,82.9 347.9,81.9 C345.7,80.9 342.4,79.1 340.8,78.2 C339.2,77.3 336.5,76.9 338.0,76.5Z"/></clipPath></defs>
<g clip-path="url(#cp43)"><rect x="337.0" y="75.0" width="30.0" height="10.0" filter="url(#sp39)" opacity="1.0"/></g>
<defs><filter id="sp40" x="0" y="0" width="1" height="1" color-interpolation-filters="sRGB"><feTurbulence type="fractalNoise" baseFrequency="1.5" numOctaves="1" seed="33"/><feColorMatrix type="matrix" values="0 0 0 0 0.949  0 0 0 0 0.659  0 0 0 0 0.596  6 0 0 0 -3.2"/></filter></defs>
<defs><clipPath id="cp44"><path d="M338.6,35.4 C340.8,34.4 344.7,34.9 347.8,34.9 C350.9,34.9 354.8,34.4 357.0,35.4 C359.2,36.4 359.9,38.9 361.1,41.0 C362.3,43.1 363.6,45.8 364.2,48.2 C364.8,50.6 364.9,53.1 364.7,55.3 C364.5,57.5 364.1,59.6 363.1,61.5 C362.2,63.4 360.5,65.4 359.0,66.6 C357.5,67.8 355.8,68.3 353.9,68.6 C352.0,68.8 349.7,68.6 347.8,68.1 C345.9,67.6 344.2,66.7 342.7,65.6 C341.2,64.5 339.8,63.0 338.6,61.5 C337.4,60.0 336.5,57.9 335.5,56.4 C334.5,54.9 333.6,54.0 332.5,52.8 C331.4,51.6 329.2,50.3 328.9,49.2 C328.5,48.1 329.5,47.5 330.4,46.1 C331.3,44.7 333.1,42.8 334.5,41.0 C335.9,39.2 336.4,36.4 338.6,35.4Z"/><path d="M312.7,99.8 C312.4,98.1 312.9,96.2 313.7,94.2 C314.5,92.2 315.7,90.0 317.3,88.1 C318.9,86.2 321.4,84.5 323.4,83.0 C325.4,81.5 327.4,80.2 329.5,79.4 C331.6,78.6 333.8,78.6 335.7,78.4 C337.6,78.2 338.8,77.6 340.8,78.2 C342.8,78.8 345.7,80.9 347.9,81.9 C350.1,82.9 351.9,83.5 354.0,84.0 C356.1,84.5 358.1,85.0 360.2,85.0 C362.2,85.0 364.7,85.2 366.3,84.0 C367.9,82.8 368.8,79.5 369.9,77.7 C371.0,75.9 372.1,74.1 373.2,73.3 C374.3,72.5 375.5,72.4 376.6,72.8 C377.7,73.2 378.4,74.5 379.9,75.5 C381.4,76.5 383.4,77.9 385.4,78.8 C387.4,79.7 389.8,80.3 392.0,81.0 C394.2,81.7 396.6,82.5 398.6,83.2 C400.6,83.9 402.7,84.5 404.2,85.4 C405.7,86.3 406.8,87.5 407.5,88.8 C408.2,90.1 408.6,91.5 408.6,93.2 C408.6,94.9 408.1,96.9 407.5,98.7 C406.9,100.5 406.1,102.4 405.3,104.2 C404.5,106.0 403.6,108.3 402.5,109.7 C401.4,111.1 400.2,111.8 398.6,112.5 C397.0,113.2 394.9,113.7 393.1,113.6 C391.3,113.5 389.2,112.7 387.6,111.9 C386.0,111.1 384.7,109.6 383.2,108.6 C381.7,107.6 380.5,106.6 378.8,105.9 C377.1,105.2 375.2,104.4 373.2,104.2 C371.2,104.0 368.8,104.3 366.6,104.6 C364.4,104.9 362.1,105.4 360.2,106.0 C358.3,106.6 356.8,107.2 355.1,108.0 C353.4,108.8 351.7,110.2 350.0,111.1 C348.3,112.0 346.8,112.9 344.9,113.6 C343.0,114.3 340.9,115.0 338.7,115.1 C336.5,115.2 333.8,114.6 331.6,114.1 C329.4,113.6 327.3,113.0 325.4,112.1 C323.5,111.2 322.0,109.8 320.3,108.5 C318.6,107.2 316.5,105.9 315.2,104.4 C313.9,103.0 312.9,101.5 312.7,99.8Z"/><path d="M376.6,57.8 C377.7,57.0 380.1,56.1 382.1,55.6 C384.1,55.1 386.3,54.4 388.7,54.5 C391.1,54.6 394.2,55.4 396.4,56.2 C398.6,57.0 400.9,58.3 402.0,59.5 C403.1,60.7 403.2,62.2 403.1,63.4 C403.0,64.6 402.2,65.9 401.4,66.7 C400.6,67.5 399.9,68.1 398.1,68.3 C396.4,68.5 392.8,67.7 390.9,67.8 C389.0,67.9 388.0,68.9 386.5,68.9 C385.0,68.9 383.6,68.0 382.1,67.8 C380.6,67.6 378.8,68.3 377.7,67.8 C376.6,67.2 375.9,65.8 375.5,64.5 C375.1,63.2 375.3,61.2 375.5,60.1 C375.7,59.0 375.5,58.5 376.6,57.8Z"/><path d="M406.5,86.5 C406.7,84.3 407.9,82.8 409.0,81.8 C410.1,80.8 411.7,80.4 413.0,80.6 C414.3,80.8 416.1,81.9 416.9,82.8 C417.7,83.7 417.9,84.9 417.8,86.0 C417.7,87.1 416.7,88.3 416.0,89.5 C415.3,90.7 414.4,92.4 413.5,93.2 C412.6,94.0 411.4,94.3 410.5,94.6 C409.6,94.9 408.5,96.3 407.8,95.0 C407.1,93.7 406.3,88.7 406.5,86.5Z"/><path d="M362.4,68.6 C362.9,68.0 364.4,67.7 365.5,67.7 C366.6,67.7 368.2,68.0 368.8,68.6 C369.4,69.2 369.4,70.6 368.8,71.2 C368.2,71.8 366.6,72.2 365.5,72.2 C364.4,72.2 362.9,71.9 362.4,71.3 C361.9,70.7 361.9,69.2 362.4,68.6Z"/></clipPath></defs>
<g clip-path="url(#cp44)"><rect x="311.7" y="33.9" width="107.1" height="82.2" filter="url(#sp40)" opacity="1.0"/></g>
<defs><radialGradient id="mk8g" gradientUnits="userSpaceOnUse" cx="352" cy="56" r="20" gradientTransform="translate(352,56) scale(1,0.900) translate(-352,-56)"><stop offset="0.35" stop-color="#fff" stop-opacity="0.0"/><stop offset="1" stop-color="#fff" stop-opacity="1.0"/></radialGradient><mask id="mk8" maskUnits="userSpaceOnUse" x="300" y="20" width="130" height="110"><rect x="300" y="20" width="130" height="110" fill="url(#mk8g)"/></mask></defs>
<defs><filter id="sp41" x="0" y="0" width="1" height="1" color-interpolation-filters="sRGB"><feTurbulence type="fractalNoise" baseFrequency="1.5" numOctaves="1" seed="34"/><feColorMatrix type="matrix" values="0 0 0 0 0.941  0 0 0 0 0.565  0 0 0 0 0.502  6 0 0 0 -2.958"/></filter></defs>
<defs><clipPath id="cp45"><path d="M338.6,35.4 C340.8,34.4 344.7,34.9 347.8,34.9 C350.9,34.9 354.8,34.4 357.0,35.4 C359.2,36.4 359.9,38.9 361.1,41.0 C362.3,43.1 363.6,45.8 364.2,48.2 C364.8,50.6 364.9,53.1 364.7,55.3 C364.5,57.5 364.1,59.6 363.1,61.5 C362.2,63.4 360.5,65.4 359.0,66.6 C357.5,67.8 355.8,68.3 353.9,68.6 C352.0,68.8 349.7,68.6 347.8,68.1 C345.9,67.6 344.2,66.7 342.7,65.6 C341.2,64.5 339.8,63.0 338.6,61.5 C337.4,60.0 336.5,57.9 335.5,56.4 C334.5,54.9 333.6,54.0 332.5,52.8 C331.4,51.6 329.2,50.3 328.9,49.2 C328.5,48.1 329.5,47.5 330.4,46.1 C331.3,44.7 333.1,42.8 334.5,41.0 C335.9,39.2 336.4,36.4 338.6,35.4Z"/></clipPath></defs>
<g clip-path="url(#cp45)" mask="url(#mk8)"><rect x="327.9" y="33.9" width="37.8" height="35.7" filter="url(#sp41)" opacity="1.0"/></g>
<defs><filter id="sp42" x="0" y="0" width="1" height="1" color-interpolation-filters="sRGB"><feTurbulence type="fractalNoise" baseFrequency="1.5" numOctaves="1" seed="35"/><feColorMatrix type="matrix" values="0 0 0 0 0.941  0 0 0 0 0.549  0 0 0 0 0.486  6 0 0 0 -3.079"/></filter></defs>
<defs><clipPath id="cp46"><path d="M312.7,99.8 C303.0,102.5 312.9,96.2 313.7,94.2 C314.5,92.2 315.7,90.0 317.3,88.1 C318.9,86.2 321.4,84.5 323.4,83.0 C325.4,81.5 327.4,80.2 329.5,79.4 C331.6,78.6 333.8,78.6 335.7,78.4 C337.6,78.2 338.8,77.6 340.8,78.2 C342.8,78.8 345.7,80.9 347.9,81.9 C350.1,82.9 351.9,83.5 354.0,84.0 C356.1,84.5 358.1,85.0 360.2,85.0 C362.2,85.0 364.7,85.2 366.3,84.0 C367.9,82.8 369.8,74.3 369.9,77.7 C369.9,81.1 368.2,99.9 366.6,104.6 C365.0,109.3 362.1,105.4 360.2,106.0 C358.3,106.6 356.8,107.2 355.1,108.0 C353.4,108.8 351.7,110.2 350.0,111.1 C348.3,112.0 346.8,112.9 344.9,113.6 C343.0,114.3 340.9,115.0 338.7,115.1 C336.5,115.2 333.8,114.6 331.6,114.1 C329.4,113.6 327.3,113.0 325.4,112.1 C323.5,111.2 322.0,109.8 320.3,108.5 C318.6,107.2 306.6,105.2 315.2,104.4 C323.8,103.7 362.5,108.4 372.0,104.0 C381.5,99.6 381.9,78.7 372.0,78.0 C362.1,77.3 322.4,97.1 312.7,99.8Z"/></clipPath></defs>
<g clip-path="url(#cp46)"><rect x="311.7" y="76.7" width="61.3" height="39.4" filter="url(#sp42)" opacity="1.0"/></g>
<defs><radialGradient id="mk9g" gradientUnits="userSpaceOnUse" cx="340" cy="95" r="30" gradientTransform="translate(340,95) scale(1,0.633) translate(-340,-95)"><stop offset="0.35" stop-color="#fff" stop-opacity="0.0"/><stop offset="1" stop-color="#fff" stop-opacity="1.0"/></radialGradient><mask id="mk9" maskUnits="userSpaceOnUse" x="300" y="20" width="130" height="110"><rect x="300" y="20" width="130" height="110" fill="url(#mk9g)"/></mask></defs>
<defs><filter id="sp43" x="0" y="0" width="1" height="1" color-interpolation-filters="sRGB"><feTurbulence type="fractalNoise" baseFrequency="1.5" numOctaves="1" seed="36"/><feColorMatrix type="matrix" values="0 0 0 0 0.941  0 0 0 0 0.471  0 0 0 0 0.408  6 0 0 0 -2.958"/></filter></defs>
<defs><clipPath id="cp47"><path d="M312.7,99.8 C312.4,98.1 312.9,96.2 313.7,94.2 C314.5,92.2 315.7,90.0 317.3,88.1 C318.9,86.2 321.4,84.5 323.4,83.0 C325.4,81.5 327.4,80.2 329.5,79.4 C331.6,78.6 333.8,78.6 335.7,78.4 C337.6,78.2 338.8,77.6 340.8,78.2 C342.8,78.8 345.7,80.9 347.9,81.9 C350.1,82.9 351.9,83.5 354.0,84.0 C356.1,84.5 358.1,85.0 360.2,85.0 C362.2,85.0 364.7,85.2 366.3,84.0 C367.9,82.8 368.8,79.5 369.9,77.7 C371.0,75.9 372.1,74.1 373.2,73.3 C374.3,72.5 375.5,72.4 376.6,72.8 C377.7,73.2 378.4,74.5 379.9,75.5 C381.4,76.5 383.4,77.9 385.4,78.8 C387.4,79.7 389.8,80.3 392.0,81.0 C394.2,81.7 396.6,82.5 398.6,83.2 C400.6,83.9 402.7,84.5 404.2,85.4 C405.7,86.3 406.8,87.5 407.5,88.8 C408.2,90.1 408.6,91.5 408.6,93.2 C408.6,94.9 408.1,96.9 407.5,98.7 C406.9,100.5 406.1,102.4 405.3,104.2 C404.5,106.0 403.6,108.3 402.5,109.7 C401.4,111.1 400.2,111.8 398.6,112.5 C397.0,113.2 394.9,113.7 393.1,113.6 C391.3,113.5 389.2,112.7 387.6,111.9 C386.0,111.1 384.7,109.6 383.2,108.6 C381.7,107.6 380.5,106.6 378.8,105.9 C377.1,105.2 375.2,104.4 373.2,104.2 C371.2,104.0 368.8,104.3 366.6,104.6 C364.4,104.9 362.1,105.4 360.2,106.0 C358.3,106.6 356.8,107.2 355.1,108.0 C353.4,108.8 351.7,110.2 350.0,111.1 C348.3,112.0 346.8,112.9 344.9,113.6 C343.0,114.3 340.9,115.0 338.7,115.1 C336.5,115.2 333.8,114.6 331.6,114.1 C329.4,113.6 327.3,113.0 325.4,112.1 C323.5,111.2 322.0,109.8 320.3,108.5 C318.6,107.2 316.5,105.9 315.2,104.4 C313.9,103.0 312.9,101.5 312.7,99.8Z"/></clipPath></defs>
<g clip-path="url(#cp47)" mask="url(#mk9)"><rect x="311.7" y="71.8" width="97.9" height="44.3" filter="url(#sp43)" opacity="1.0"/></g>
<defs><filter id="sp44" x="0" y="0" width="1" height="1" color-interpolation-filters="sRGB"><feTurbulence type="fractalNoise" baseFrequency="1.5" numOctaves="1" seed="41"/><feColorMatrix type="matrix" values="0 0 0 0 0.941  0 0 0 0 0.471  0 0 0 0 0.408  6 0 0 0 -3.03"/></filter></defs>
<defs><clipPath id="cp48"><path d="M372.0,78.0 C372.8,74.3 375.3,73.2 376.6,72.8 C377.9,72.4 378.4,74.5 379.9,75.5 C381.4,76.5 383.7,77.9 385.4,78.8 C387.1,79.7 389.6,78.8 390.0,81.0 C390.4,83.2 389.7,89.5 388.0,92.0 C386.3,94.5 382.7,95.5 380.0,96.0 C377.3,96.5 373.3,98.0 372.0,95.0 C370.7,92.0 371.2,81.7 372.0,78.0Z"/></clipPath></defs>
<g clip-path="url(#cp48)"><rect x="371.0" y="71.8" width="20.0" height="25.2" filter="url(#sp44)" opacity="1.0"/></g>
<defs><filter id="sp45" x="0" y="0" width="1" height="1" color-interpolation-filters="sRGB"><feTurbulence type="fractalNoise" baseFrequency="1.5" numOctaves="1" seed="38"/><feColorMatrix type="matrix" values="0 0 0 0 0.941  0 0 0 0 0.502  0 0 0 0 0.439  6 0 0 0 -3.03"/></filter></defs>
<defs><clipPath id="cp49"><path d="M406.5,86.5 C406.7,84.3 407.9,82.8 409.0,81.8 C410.1,80.8 411.7,80.4 413.0,80.6 C414.3,80.8 416.1,81.9 416.9,82.8 C417.7,83.7 417.9,84.9 417.8,86.0 C417.7,87.1 416.7,88.3 416.0,89.5 C415.3,90.7 414.4,92.4 413.5,93.2 C412.6,94.0 411.4,94.3 410.5,94.6 C409.6,94.9 408.5,96.3 407.8,95.0 C407.1,93.7 406.3,88.7 406.5,86.5Z"/></clipPath></defs>
<g clip-path="url(#cp49)"><rect x="405.5" y="79.6" width="13.3" height="16.4" filter="url(#sp45)" opacity="1.0"/></g>
<defs><filter id="sp46" x="0" y="0" width="1" height="1" color-interpolation-filters="sRGB"><feTurbulence type="fractalNoise" baseFrequency="1.5" numOctaves="1" seed="50"/><feColorMatrix type="matrix" values="0 0 0 0 1.000  0 0 0 0 1.000  0 0 0 0 1.000  6 0 0 0 -3.568"/></filter></defs>
<defs><clipPath id="cp50"><path d="M338.6,35.4 C340.8,34.4 344.7,34.9 347.8,34.9 C350.9,34.9 354.8,34.4 357.0,35.4 C359.2,36.4 359.9,38.9 361.1,41.0 C362.3,43.1 363.6,45.8 364.2,48.2 C364.8,50.6 364.9,53.1 364.7,55.3 C364.5,57.5 364.1,59.6 363.1,61.5 C362.2,63.4 360.5,65.4 359.0,66.6 C357.5,67.8 355.8,68.3 353.9,68.6 C352.0,68.8 349.7,68.6 347.8,68.1 C345.9,67.6 344.2,66.7 342.7,65.6 C341.2,64.5 339.8,63.0 338.6,61.5 C337.4,60.0 336.5,57.9 335.5,56.4 C334.5,54.9 333.6,54.0 332.5,52.8 C331.4,51.6 329.2,50.3 328.9,49.2 C328.5,48.1 329.5,47.5 330.4,46.1 C331.3,44.7 333.1,42.8 334.5,41.0 C335.9,39.2 336.4,36.4 338.6,35.4Z"/><path d="M312.7,99.8 C312.4,98.1 312.9,96.2 313.7,94.2 C314.5,92.2 315.7,90.0 317.3,88.1 C318.9,86.2 321.4,84.5 323.4,83.0 C325.4,81.5 327.4,80.2 329.5,79.4 C331.6,78.6 333.8,78.6 335.7,78.4 C337.6,78.2 338.8,77.6 340.8,78.2 C342.8,78.8 345.7,80.9 347.9,81.9 C350.1,82.9 351.9,83.5 354.0,84.0 C356.1,84.5 358.1,85.0 360.2,85.0 C362.2,85.0 364.7,85.2 366.3,84.0 C367.9,82.8 368.8,79.5 369.9,77.7 C371.0,75.9 372.1,74.1 373.2,73.3 C374.3,72.5 375.5,72.4 376.6,72.8 C377.7,73.2 378.4,74.5 379.9,75.5 C381.4,76.5 383.4,77.9 385.4,78.8 C387.4,79.7 389.8,80.3 392.0,81.0 C394.2,81.7 396.6,82.5 398.6,83.2 C400.6,83.9 402.7,84.5 404.2,85.4 C405.7,86.3 406.8,87.5 407.5,88.8 C408.2,90.1 408.6,91.5 408.6,93.2 C408.6,94.9 408.1,96.9 407.5,98.7 C406.9,100.5 406.1,102.4 405.3,104.2 C404.5,106.0 403.6,108.3 402.5,109.7 C401.4,111.1 400.2,111.8 398.6,112.5 C397.0,113.2 394.9,113.7 393.1,113.6 C391.3,113.5 389.2,112.7 387.6,111.9 C386.0,111.1 384.7,109.6 383.2,108.6 C381.7,107.6 380.5,106.6 378.8,105.9 C377.1,105.2 375.2,104.4 373.2,104.2 C371.2,104.0 368.8,104.3 366.6,104.6 C364.4,104.9 362.1,105.4 360.2,106.0 C358.3,106.6 356.8,107.2 355.1,108.0 C353.4,108.8 351.7,110.2 350.0,111.1 C348.3,112.0 346.8,112.9 344.9,113.6 C343.0,114.3 340.9,115.0 338.7,115.1 C336.5,115.2 333.8,114.6 331.6,114.1 C329.4,113.6 327.3,113.0 325.4,112.1 C323.5,111.2 322.0,109.8 320.3,108.5 C318.6,107.2 316.5,105.9 315.2,104.4 C313.9,103.0 312.9,101.5 312.7,99.8Z"/><path d="M376.6,57.8 C377.7,57.0 380.1,56.1 382.1,55.6 C384.1,55.1 386.3,54.4 388.7,54.5 C391.1,54.6 394.2,55.4 396.4,56.2 C398.6,57.0 400.9,58.3 402.0,59.5 C403.1,60.7 403.2,62.2 403.1,63.4 C403.0,64.6 402.2,65.9 401.4,66.7 C400.6,67.5 399.9,68.1 398.1,68.3 C396.4,68.5 392.8,67.7 390.9,67.8 C389.0,67.9 388.0,68.9 386.5,68.9 C385.0,68.9 383.6,68.0 382.1,67.8 C380.6,67.6 378.8,68.3 377.7,67.8 C376.6,67.2 375.9,65.8 375.5,64.5 C375.1,63.2 375.3,61.2 375.5,60.1 C375.7,59.0 375.5,58.5 376.6,57.8Z"/></clipPath></defs>
<g clip-path="url(#cp50)"><rect x="311.7" y="33.9" width="97.9" height="82.2" filter="url(#sp46)" opacity="0.35"/></g>
</g>
<path d="M521.50,184.50V282.80H646.30" fill="none" stroke="#555" stroke-width="0.85"/>
<line x1="517.90" y1="189.40" x2="521.50" y2="189.40" stroke="#555" stroke-width="0.75"/>
<text x="513.10" y="192.10" font-size="9.0" text-anchor="end" >10</text>
<line x1="517.90" y1="215.65" x2="521.50" y2="215.65" stroke="#555" stroke-width="0.75"/>
<text x="513.10" y="218.35" font-size="9.0" text-anchor="end" >5</text>
<line x1="517.90" y1="241.90" x2="521.50" y2="241.90" stroke="#555" stroke-width="0.75"/>
<text x="513.10" y="244.60" font-size="9.0" text-anchor="end" >0</text>
<line x1="517.90" y1="268.15" x2="521.50" y2="268.15" stroke="#555" stroke-width="0.75"/>
<text x="513.10" y="270.85" font-size="9.0" text-anchor="end" >−5</text>
<line x1="547.60" y1="282.80" x2="547.60" y2="287.00" stroke="#555" stroke-width="0.75"/>
<text x="547.60" y="298.40" font-size="9.0" text-anchor="middle" >−5</text>
<line x1="580.50" y1="282.80" x2="580.50" y2="287.00" stroke="#555" stroke-width="0.75"/>
<text x="580.50" y="298.40" font-size="9.0" text-anchor="middle" >0</text>
<line x1="613.60" y1="282.80" x2="613.60" y2="287.00" stroke="#555" stroke-width="0.75"/>
<text x="613.60" y="298.40" font-size="9.0" text-anchor="middle" >5</text>
<text x="567.30" y="179.60" font-size="10.3" textLength="28.81" lengthAdjust="spacingAndGlyphs" >STAT1</text>
<text x="584.20" y="314.50" font-size="10.0" text-anchor="middle" >wnnUMAP_1</text>
<text transform="translate(495.60,234.00) rotate(-90)" text-anchor="middle" font-size="10" fill="#222">wnnUMAP_2</text>
<defs><linearGradient id="cb1" x1="0" y1="0" x2="0" y2="1"><stop offset="0.000" stop-color="#0000ff"/><stop offset="0.125" stop-color="#522dfb"/><stop offset="0.250" stop-color="#7248f6"/><stop offset="0.375" stop-color="#8a60f1"/><stop offset="0.500" stop-color="#9d77ec"/><stop offset="0.625" stop-color="#ad8ee6"/><stop offset="0.750" stop-color="#bba5e0"/><stop offset="0.875" stop-color="#c8bcda"/><stop offset="1.000" stop-color="#d3d3d3"/></linearGradient></defs>
<rect x="438.00" y="47.00" width="10.8" height="53.80" fill="url(#cb1)"/>
<line x1="438.00" y1="51.10" x2="440.00" y2="51.10" stroke="#fff" stroke-width="0.6"/>
<line x1="446.80" y1="51.10" x2="448.80" y2="51.10" stroke="#fff" stroke-width="0.6"/>
<text x="453.50" y="54.20" font-size="8.6" >6</text>
<line x1="438.00" y1="68.40" x2="440.00" y2="68.40" stroke="#fff" stroke-width="0.6"/>
<line x1="446.80" y1="68.40" x2="448.80" y2="68.40" stroke="#fff" stroke-width="0.6"/>
<text x="453.50" y="71.50" font-size="8.6" >4</text>
<line x1="438.00" y1="85.40" x2="440.00" y2="85.40" stroke="#fff" stroke-width="0.6"/>
<line x1="446.80" y1="85.40" x2="448.80" y2="85.40" stroke="#fff" stroke-width="0.6"/>
<text x="453.50" y="88.50" font-size="8.6" >2</text>
<defs><linearGradient id="cb2" x1="0" y1="0" x2="0" y2="1"><stop offset="0.000" stop-color="#0000ff"/><stop offset="0.125" stop-color="#522dfb"/><stop offset="0.250" stop-color="#7248f6"/><stop offset="0.375" stop-color="#8a60f1"/><stop offset="0.500" stop-color="#9d77ec"/><stop offset="0.625" stop-color="#ad8ee6"/><stop offset="0.750" stop-color="#bba5e0"/><stop offset="0.875" stop-color="#c8bcda"/><stop offset="1.000" stop-color="#d3d3d3"/></linearGradient></defs>
<rect x="656.00" y="47.00" width="10.8" height="53.80" fill="url(#cb2)"/>
<line x1="656.00" y1="51.10" x2="658.00" y2="51.10" stroke="#fff" stroke-width="0.6"/>
<line x1="664.80" y1="51.10" x2="666.80" y2="51.10" stroke="#fff" stroke-width="0.6"/>
<text x="671.50" y="54.20" font-size="8.6" >6</text>
<line x1="656.00" y1="68.40" x2="658.00" y2="68.40" stroke="#fff" stroke-width="0.6"/>
<line x1="664.80" y1="68.40" x2="666.80" y2="68.40" stroke="#fff" stroke-width="0.6"/>
<text x="671.50" y="71.50" font-size="8.6" >4</text>
<line x1="656.00" y1="85.40" x2="658.00" y2="85.40" stroke="#fff" stroke-width="0.6"/>
<line x1="664.80" y1="85.40" x2="666.80" y2="85.40" stroke="#fff" stroke-width="0.6"/>
<text x="671.50" y="88.50" font-size="8.6" >2</text>
<defs><linearGradient id="cb3" x1="0" y1="0" x2="0" y2="1"><stop offset="0.000" stop-color="#ff0000"/><stop offset="0.125" stop-color="#ff3f23"/><stop offset="0.250" stop-color="#ff5d3d"/><stop offset="0.375" stop-color="#fd7455"/><stop offset="0.500" stop-color="#f9896e"/><stop offset="0.625" stop-color="#f49d86"/><stop offset="0.750" stop-color="#ecaf9f"/><stop offset="0.875" stop-color="#e1c1b9"/><stop offset="1.000" stop-color="#d3d3d3"/></linearGradient></defs>
<rect x="438.00" y="206.30" width="10.8" height="53.80" fill="url(#cb3)"/>
<line x1="438.00" y1="216.30" x2="440.00" y2="216.30" stroke="#fff" stroke-width="0.6"/>
<line x1="446.80" y1="216.30" x2="448.80" y2="216.30" stroke="#fff" stroke-width="0.6"/>
<text x="453.50" y="219.40" font-size="8.6" textLength="13.60" lengthAdjust="spacingAndGlyphs" >2.0</text>
<line x1="438.00" y1="228.00" x2="440.00" y2="228.00" stroke="#fff" stroke-width="0.6"/>
<line x1="446.80" y1="228.00" x2="448.80" y2="228.00" stroke="#fff" stroke-width="0.6"/>
<text x="453.50" y="231.10" font-size="8.6" textLength="13.60" lengthAdjust="spacingAndGlyphs" >1.5</text>
<line x1="438.00" y1="239.50" x2="440.00" y2="239.50" stroke="#fff" stroke-width="0.6"/>
<line x1="446.80" y1="239.50" x2="448.80" y2="239.50" stroke="#fff" stroke-width="0.6"/>
<text x="453.50" y="242.60" font-size="8.6" textLength="13.60" lengthAdjust="spacingAndGlyphs" >1.0</text>
<line x1="438.00" y1="251.20" x2="440.00" y2="251.20" stroke="#fff" stroke-width="0.6"/>
<line x1="446.80" y1="251.20" x2="448.80" y2="251.20" stroke="#fff" stroke-width="0.6"/>
<text x="453.50" y="254.30" font-size="8.6" textLength="13.60" lengthAdjust="spacingAndGlyphs" >0.5</text>
<defs><linearGradient id="cb4" x1="0" y1="0" x2="0" y2="1"><stop offset="0.000" stop-color="#ff0000"/><stop offset="0.125" stop-color="#ff3f23"/><stop offset="0.250" stop-color="#ff5d3d"/><stop offset="0.375" stop-color="#fd7455"/><stop offset="0.500" stop-color="#f9896e"/><stop offset="0.625" stop-color="#f49d86"/><stop offset="0.750" stop-color="#ecaf9f"/><stop offset="0.875" stop-color="#e1c1b9"/><stop offset="1.000" stop-color="#d3d3d3"/></linearGradient></defs>
<rect x="656.00" y="206.30" width="10.8" height="53.80" fill="url(#cb4)"/>
<line x1="656.00" y1="216.30" x2="658.00" y2="216.30" stroke="#fff" stroke-width="0.6"/>
<line x1="664.80" y1="216.30" x2="666.80" y2="216.30" stroke="#fff" stroke-width="0.6"/>
<text x="671.50" y="219.40" font-size="8.6" textLength="13.60" lengthAdjust="spacingAndGlyphs" >2.0</text>
<line x1="656.00" y1="228.00" x2="658.00" y2="228.00" stroke="#fff" stroke-width="0.6"/>
<line x1="664.80" y1="228.00" x2="666.80" y2="228.00" stroke="#fff" stroke-width="0.6"/>
<text x="671.50" y="231.10" font-size="8.6" textLength="13.60" lengthAdjust="spacingAndGlyphs" >1.5</text>
<line x1="656.00" y1="239.50" x2="658.00" y2="239.50" stroke="#fff" stroke-width="0.6"/>
<line x1="664.80" y1="239.50" x2="666.80" y2="239.50" stroke="#fff" stroke-width="0.6"/>
<text x="671.50" y="242.60" font-size="8.6" textLength="13.60" lengthAdjust="spacingAndGlyphs" >1.0</text>
<line x1="656.00" y1="251.20" x2="658.00" y2="251.20" stroke="#fff" stroke-width="0.6"/>
<line x1="664.80" y1="251.20" x2="666.80" y2="251.20" stroke="#fff" stroke-width="0.6"/>
<text x="671.50" y="254.30" font-size="8.6" textLength="13.60" lengthAdjust="spacingAndGlyphs" >0.5</text>
<g shape-rendering="crispEdges">
<rect x="22.70" y="356.30" width="21.75" height="3.50" fill="#bebebe"/>
<rect x="22.70" y="359.80" width="21.75" height="3.30" fill="#fc9880"/>
<rect x="22.70" y="363.10" width="21.75" height="3.70" fill="#fc6040"/>
<rect x="22.70" y="366.80" width="21.75" height="247.60" fill="#bebebe"/>
<rect x="44.45" y="356.30" width="21.75" height="202.90" fill="#bebebe"/>
<rect x="44.45" y="559.20" width="21.75" height="3.60" fill="#fca088"/>
<rect x="44.45" y="562.80" width="21.75" height="13.90" fill="#e60000"/>
<rect x="44.45" y="576.70" width="21.75" height="2.90" fill="#bebebe"/>
<rect x="44.45" y="579.60" width="21.75" height="3.40" fill="#8a6aff"/>
<rect x="44.45" y="583.00" width="21.75" height="3.90" fill="#a080ff"/>
<rect x="44.45" y="586.90" width="21.75" height="27.50" fill="#bebebe"/>
<rect x="66.20" y="356.30" width="21.75" height="3.50" fill="#e80000"/>
<rect x="66.20" y="359.80" width="21.75" height="3.30" fill="#fc7050"/>
<rect x="66.20" y="363.10" width="21.75" height="3.70" fill="#fc5030"/>
<rect x="66.20" y="366.80" width="21.75" height="57.80" fill="#fca98c"/>
<rect x="66.20" y="424.60" width="21.75" height="33.40" fill="#fdc0aa"/>
<rect x="66.20" y="458.00" width="21.75" height="32.90" fill="#fcb5a0"/>
<rect x="66.20" y="490.90" width="21.75" height="3.20" fill="#fc7050"/>
<rect x="66.20" y="494.10" width="21.75" height="10.20" fill="#fc9478"/>
<rect x="66.20" y="504.30" width="21.75" height="3.70" fill="#fcae96"/>
<rect x="66.20" y="508.00" width="21.75" height="7.30" fill="#fc957a"/>
<rect x="66.20" y="515.30" width="21.75" height="9.40" fill="#fc7d60"/>
<rect x="66.20" y="524.70" width="21.75" height="52.00" fill="#bebebe"/>
<rect x="66.20" y="576.70" width="21.75" height="3.30" fill="#0000c0"/>
<rect x="66.20" y="580.00" width="21.75" height="7.00" fill="#b49cff"/>
<rect x="66.20" y="587.00" width="21.75" height="3.60" fill="#d0c0ff"/>
<rect x="66.20" y="590.60" width="21.75" height="10.20" fill="#c8b4ff"/>
<rect x="66.20" y="600.80" width="21.75" height="2.90" fill="#a888ff"/>
<rect x="66.20" y="603.70" width="21.75" height="10.70" fill="#b8a0ff"/>
<rect x="87.95" y="356.30" width="21.75" height="3.50" fill="#c80000"/>
<rect x="87.95" y="359.80" width="21.75" height="3.30" fill="#f06050"/>
<rect x="87.95" y="363.10" width="21.75" height="3.70" fill="#ff0000"/>
<rect x="87.95" y="366.80" width="21.75" height="137.50" fill="#bebebe"/>
<rect x="87.95" y="504.30" width="21.75" height="7.30" fill="#fc7859"/>
<rect x="87.95" y="511.60" width="21.75" height="6.60" fill="#fc6a4e"/>
<rect x="87.95" y="518.20" width="21.75" height="6.50" fill="#fc5030"/>
<rect x="87.95" y="524.70" width="21.75" height="3.70" fill="#fca088"/>
<rect x="87.95" y="528.40" width="21.75" height="6.70" fill="#fc5a3c"/>
<rect x="87.95" y="535.10" width="21.75" height="24.10" fill="#fc7a5c"/>
<rect x="87.95" y="559.20" width="21.75" height="55.20" fill="#bebebe"/>
</g>
<line x1="44.45" y1="356.30" x2="44.45" y2="614.40" stroke="#fff" stroke-opacity="0.12" stroke-width="0.6"/>
<line x1="66.20" y1="356.30" x2="66.20" y2="614.40" stroke="#fff" stroke-opacity="0.12" stroke-width="0.6"/>
<line x1="87.95" y1="356.30" x2="87.95" y2="614.40" stroke="#fff" stroke-opacity="0.12" stroke-width="0.6"/>
<rect x="22.70" y="356.30" width="87.00" height="258.10" fill="none" stroke="#505050" stroke-width="1.0"/>
<polyline points="111.10,358.00 114.03,358.00 116.97,360.50 119.90,360.50" fill="none" stroke="#222" stroke-width="0.7"/>
<text x="125.80" y="363.60" font-size="8.9" textLength="22.11" lengthAdjust="spacingAndGlyphs" >CTCF</text>
<polyline points="111.10,361.50 114.03,361.50 116.97,369.50 119.90,369.50" fill="none" stroke="#222" stroke-width="0.7"/>
<text x="125.80" y="372.60" font-size="8.9" textLength="26.90" lengthAdjust="spacingAndGlyphs" >CTCFL</text>
<polyline points="111.10,365.00 114.03,365.00 116.97,378.00 119.90,378.00" fill="none" stroke="#222" stroke-width="0.7"/>
<text x="125.80" y="381.10" font-size="8.9" textLength="19.69" lengthAdjust="spacingAndGlyphs" >NRF1</text>
<polyline points="111.10,492.90 114.03,492.90 116.97,492.90 119.90,492.90" fill="none" stroke="#222" stroke-width="0.7"/>
<text x="125.80" y="496.00" font-size="8.9" textLength="25.39" lengthAdjust="spacingAndGlyphs" >TCFL5</text>
<polyline points="111.10,516.10 114.03,516.10 116.97,509.20 119.90,509.20" fill="none" stroke="#222" stroke-width="0.7"/>
<text x="125.80" y="512.30" font-size="8.9" textLength="12.90" lengthAdjust="spacingAndGlyphs" >YY1</text>
<polyline points="111.10,519.60 114.03,519.60 116.97,517.80 119.90,517.80" fill="none" stroke="#222" stroke-width="0.7"/>
<text x="125.80" y="520.90" font-size="8.9" textLength="32.00" lengthAdjust="spacingAndGlyphs" >ZNF384</text>
<polyline points="111.10,523.10 114.03,523.10 116.97,526.70 119.90,526.70" fill="none" stroke="#222" stroke-width="0.7"/>
<text x="125.80" y="529.80" font-size="8.9" textLength="29.80" lengthAdjust="spacingAndGlyphs" >ZBTB14</text>
<polyline points="111.10,533.00 114.03,533.00 116.97,534.90 119.90,534.90" fill="none" stroke="#222" stroke-width="0.7"/>
<text x="125.80" y="538.00" font-size="8.9" textLength="18.80" lengthAdjust="spacingAndGlyphs" >E2F7</text>
<polyline points="111.10,564.00 114.03,564.00 116.97,551.50 119.90,551.50" fill="none" stroke="#222" stroke-width="0.7"/>
<text x="125.80" y="554.60" font-size="8.9" textLength="17.20" lengthAdjust="spacingAndGlyphs" >IRF7</text>
<polyline points="111.10,566.20 114.03,566.20 116.97,560.30 119.90,560.30" fill="none" stroke="#222" stroke-width="0.7"/>
<text x="125.80" y="563.40" font-size="8.9" textLength="17.90" lengthAdjust="spacingAndGlyphs" >IRF9</text>
<polyline points="111.10,570.80 114.03,570.80 116.97,568.50 119.90,568.50" fill="none" stroke="#222" stroke-width="0.7"/>
<text x="125.80" y="571.60" font-size="8.9" textLength="17.90" lengthAdjust="spacingAndGlyphs" >IRF4</text>
<polyline points="111.10,575.30 114.03,575.30 116.97,577.40 119.90,577.40" fill="none" stroke="#222" stroke-width="0.7"/>
<text x="125.80" y="580.50" font-size="8.9" textLength="17.90" lengthAdjust="spacingAndGlyphs" >IRF8</text>
<polyline points="111.10,578.00 114.03,578.00 116.97,585.90 119.90,585.90" fill="none" stroke="#222" stroke-width="0.7"/>
<text x="125.80" y="589.00" font-size="8.9" textLength="17.21" lengthAdjust="spacingAndGlyphs" >FOS</text>
<polyline points="111.10,581.10 114.03,581.10 116.97,594.30 119.90,594.30" fill="none" stroke="#222" stroke-width="0.7"/>
<text x="125.80" y="597.40" font-size="8.9" textLength="20.61" lengthAdjust="spacingAndGlyphs" >RFX2</text>
<defs><linearGradient id="fcg462" x1="0" y1="0" x2="0" y2="1"><stop offset="0.0000" stop-color="#8b0000"/><stop offset="0.0417" stop-color="#9d0002"/><stop offset="0.0833" stop-color="#b00002"/><stop offset="0.1250" stop-color="#c30002"/><stop offset="0.1667" stop-color="#d70002"/><stop offset="0.2083" stop-color="#eb0001"/><stop offset="0.2500" stop-color="#ff0000"/><stop offset="0.2917" stop-color="#ff5232"/><stop offset="0.3333" stop-color="#ff7b5a"/><stop offset="0.3750" stop-color="#ff9e81"/><stop offset="0.4167" stop-color="#ffbfaa"/><stop offset="0.4583" stop-color="#ffdfd4"/><stop offset="0.5000" stop-color="#ffffff"/><stop offset="0.5417" stop-color="#e8d8ff"/><stop offset="0.5833" stop-color="#cfb1ff"/><stop offset="0.6250" stop-color="#b38bff"/><stop offset="0.6667" stop-color="#9265ff"/><stop offset="0.7083" stop-color="#673dff"/><stop offset="0.7500" stop-color="#0000ff"/><stop offset="0.7917" stop-color="#0000eb"/><stop offset="0.8333" stop-color="#0000d7"/><stop offset="0.8750" stop-color="#0000c3"/><stop offset="0.9167" stop-color="#0000b0"/><stop offset="0.9583" stop-color="#00009d"/><stop offset="1.0000" stop-color="#00008b"/></linearGradient></defs>
<rect x="168.00" y="462.50" width="9.3" height="45.90" fill="url(#fcg462)"/>
<line x1="168.00" y1="464.10" x2="169.80" y2="464.10" stroke="#fff" stroke-width="0.6"/>
<line x1="175.50" y1="464.10" x2="177.30" y2="464.10" stroke="#fff" stroke-width="0.6"/>
<text x="182.20" y="466.91" font-size="7.8" >2</text>
<line x1="168.00" y1="474.78" x2="169.80" y2="474.78" stroke="#fff" stroke-width="0.6"/>
<line x1="175.50" y1="474.78" x2="177.30" y2="474.78" stroke="#fff" stroke-width="0.6"/>
<text x="182.20" y="477.58" font-size="7.8" >1</text>
<line x1="168.00" y1="485.45" x2="169.80" y2="485.45" stroke="#fff" stroke-width="0.6"/>
<line x1="175.50" y1="485.45" x2="177.30" y2="485.45" stroke="#fff" stroke-width="0.6"/>
<text x="182.20" y="488.26" font-size="7.8" >0</text>
<line x1="168.00" y1="496.12" x2="169.80" y2="496.12" stroke="#fff" stroke-width="0.6"/>
<line x1="175.50" y1="496.12" x2="177.30" y2="496.12" stroke="#fff" stroke-width="0.6"/>
<text x="182.20" y="498.93" font-size="7.8" >−1</text>
<line x1="168.00" y1="506.80" x2="169.80" y2="506.80" stroke="#fff" stroke-width="0.6"/>
<line x1="175.50" y1="506.80" x2="177.30" y2="506.80" stroke="#fff" stroke-width="0.6"/>
<text x="182.20" y="509.61" font-size="7.8" >−2</text>
<text x="167.00" y="458.40" font-size="10.6" >FC</text>
<text transform="translate(37.38,621.60) rotate(-58.5)" x="0" y="0" text-anchor="end" font-size="11.0" fill="#222">DCs</text>
<text transform="translate(59.12,621.60) rotate(-58.5)" x="0" y="0" text-anchor="end" font-size="11.0" fill="#222">Macrophages</text>
<text transform="translate(80.88,621.60) rotate(-58.5)" x="0" y="0" text-anchor="end" font-size="11.0" fill="#222">FDCs</text>
<text transform="translate(102.62,621.60) rotate(-58.5)" x="0" y="0" text-anchor="end" font-size="11.0" fill="#222">pDCs</text>
<g transform="translate(0.0,0.0)">
<path d="M323.1 399.3h1.6v1.6h-1.6zM323.6 401.2h1.6v1.6h-1.6zM323.4 401.1h1.6v1.6h-1.6zM323.8 393.3h1.6v1.6h-1.6zM322.9 397.7h1.6v1.6h-1.6zM322.2 401.0h1.6v1.6h-1.6zM323.5 393.7h1.6v1.6h-1.6zM323.6 393.5h1.6v1.6h-1.6zM323.1 393.4h1.6v1.6h-1.6zM322.0 394.3h1.6v1.6h-1.6zM322.3 401.4h1.6v1.6h-1.6zM322.9 398.7h1.6v1.6h-1.6zM322.0 401.2h1.6v1.6h-1.6zM323.3 401.5h1.6v1.6h-1.6zM323.8 395.1h1.6v1.6h-1.6zM322.4 393.8h1.6v1.6h-1.6zM321.9 392.8h1.6v1.6h-1.6zM322.3 398.0h1.6v1.6h-1.6zM323.2 405.3h1.6v1.6h-1.6zM322.9 406.7h1.6v1.6h-1.6zM328.2 409.8h1.6v1.6h-1.6zM323.5 407.6h1.6v1.6h-1.6zM321.5 409.0h1.6v1.6h-1.6zM325.4 409.2h1.6v1.6h-1.6zM326.5 410.4h1.6v1.6h-1.6zM325.7 405.3h1.6v1.6h-1.6zM322.9 404.2h1.6v1.6h-1.6zM320.0 404.0h1.6v1.6h-1.6zM316.1 413.3h1.6v1.6h-1.6zM321.0 421.6h1.6v1.6h-1.6zM328.5 423.7h1.6v1.6h-1.6zM325.5 422.1h1.6v1.6h-1.6zM321.1 422.9h1.6v1.6h-1.6zM384.3 419.4h1.6v1.6h-1.6zM386.8 414.8h1.6v1.6h-1.6zM383.8 418.3h1.6v1.6h-1.6zM386.8 417.7h1.6v1.6h-1.6zM386.0 414.0h1.6v1.6h-1.6zM386.1 416.3h1.6v1.6h-1.6zM386.7 414.8h1.6v1.6h-1.6zM414.9 439.0h1.6v1.6h-1.6zM420.1 442.5h1.6v1.6h-1.6zM415.4 445.4h1.6v1.6h-1.6zM409.7 443.6h1.6v1.6h-1.6zM417.9 442.6h1.6v1.6h-1.6zM420.7 442.7h1.6v1.6h-1.6zM414.8 440.8h1.6v1.6h-1.6z" fill="#d3d3d3"/>
<path d="M322.7 394.6h1.6v1.6h-1.6zM329.0 406.7h1.6v1.6h-1.6zM319.3 409.3h1.6v1.6h-1.6zM320.4 409.0h1.6v1.6h-1.6zM328.7 409.9h1.6v1.6h-1.6zM319.5 410.6h1.6v1.6h-1.6zM320.2 405.6h1.6v1.6h-1.6zM323.2 410.5h1.6v1.6h-1.6zM327.4 411.1h1.6v1.6h-1.6zM324.7 421.2h1.6v1.6h-1.6zM325.4 414.4h1.6v1.6h-1.6zM320.5 425.3h1.6v1.6h-1.6zM318.2 412.0h1.6v1.6h-1.6zM329.9 419.7h1.6v1.6h-1.6zM323.2 418.4h1.6v1.6h-1.6zM383.6 417.4h1.6v1.6h-1.6zM382.3 416.7h1.6v1.6h-1.6zM386.9 417.3h1.6v1.6h-1.6zM382.7 421.4h1.6v1.6h-1.6zM384.1 418.3h1.6v1.6h-1.6zM384.7 417.4h1.6v1.6h-1.6zM403.1 440.8h1.6v1.6h-1.6zM413.3 440.5h1.6v1.6h-1.6zM415.4 440.8h1.6v1.6h-1.6zM417.3 443.6h1.6v1.6h-1.6zM411.8 441.3h1.6v1.6h-1.6zM415.1 440.1h1.6v1.6h-1.6zM412.5 445.8h1.6v1.6h-1.6zM411.2 442.8h1.6v1.6h-1.6zM420.0 441.1h1.6v1.6h-1.6zM418.3 448.3h1.6v1.6h-1.6zM412.5 447.8h1.6v1.6h-1.6zM410.5 446.0h1.6v1.6h-1.6zM411.8 444.0h1.6v1.6h-1.6zM416.5 448.1h1.6v1.6h-1.6zM417.4 442.1h1.6v1.6h-1.6zM413.4 445.5h1.6v1.6h-1.6z" fill="#ddc7c2"/>
<path d="M321.3 410.7h1.6v1.6h-1.6zM330.3 410.6h1.6v1.6h-1.6zM323.3 405.7h1.6v1.6h-1.6zM321.7 418.0h1.6v1.6h-1.6zM329.4 417.5h1.6v1.6h-1.6zM326.7 416.1h1.6v1.6h-1.6zM325.2 416.5h1.6v1.6h-1.6zM328.5 411.4h1.6v1.6h-1.6zM325.7 420.0h1.6v1.6h-1.6zM323.4 420.8h1.6v1.6h-1.6zM331.2 419.7h1.6v1.6h-1.6zM324.5 416.6h1.6v1.6h-1.6zM317.7 412.4h1.6v1.6h-1.6zM323.3 418.1h1.6v1.6h-1.6zM326.9 416.8h1.6v1.6h-1.6zM328.8 411.3h1.6v1.6h-1.6zM319.0 418.1h1.6v1.6h-1.6zM386.7 413.6h1.6v1.6h-1.6zM385.7 419.9h1.6v1.6h-1.6zM385.7 414.4h1.6v1.6h-1.6zM388.2 417.6h1.6v1.6h-1.6zM387.7 417.9h1.6v1.6h-1.6zM384.0 415.5h1.6v1.6h-1.6zM390.2 425.7h1.6v1.6h-1.6zM387.6 422.9h1.6v1.6h-1.6zM387.6 422.6h1.6v1.6h-1.6zM403.9 439.7h1.6v1.6h-1.6zM401.0 440.2h1.6v1.6h-1.6zM405.8 444.8h1.6v1.6h-1.6zM398.8 439.6h1.6v1.6h-1.6zM398.9 436.2h1.6v1.6h-1.6zM406.0 442.7h1.6v1.6h-1.6zM401.4 441.7h1.6v1.6h-1.6zM407.4 442.9h1.6v1.6h-1.6zM411.6 443.6h1.6v1.6h-1.6zM410.2 442.7h1.6v1.6h-1.6zM414.6 441.2h1.6v1.6h-1.6zM419.6 443.2h1.6v1.6h-1.6zM420.6 446.0h1.6v1.6h-1.6zM413.2 441.6h1.6v1.6h-1.6zM420.7 444.5h1.6v1.6h-1.6zM416.6 443.1h1.6v1.6h-1.6zM416.2 444.5h1.6v1.6h-1.6zM418.4 444.3h1.6v1.6h-1.6zM417.6 440.8h1.6v1.6h-1.6zM418.8 444.4h1.6v1.6h-1.6zM417.4 442.6h1.6v1.6h-1.6zM413.8 439.1h1.6v1.6h-1.6zM419.6 445.7h1.6v1.6h-1.6z" fill="#e5bbb0"/>
<path d="M321.6 426.0h1.6v1.6h-1.6zM315.7 419.6h1.6v1.6h-1.6zM328.8 422.4h1.6v1.6h-1.6zM328.7 411.4h1.6v1.6h-1.6zM322.1 413.6h1.6v1.6h-1.6zM328.0 419.8h1.6v1.6h-1.6zM321.2 425.9h1.6v1.6h-1.6zM321.1 413.2h1.6v1.6h-1.6zM321.5 423.3h1.6v1.6h-1.6zM324.2 413.3h1.6v1.6h-1.6zM327.5 422.7h1.6v1.6h-1.6zM318.7 420.9h1.6v1.6h-1.6zM320.4 416.7h1.6v1.6h-1.6zM322.3 423.6h1.6v1.6h-1.6zM328.6 416.4h1.6v1.6h-1.6zM320.4 418.5h1.6v1.6h-1.6zM320.3 412.0h1.6v1.6h-1.6zM315.9 419.4h1.6v1.6h-1.6zM330.1 411.5h1.6v1.6h-1.6zM324.7 423.9h1.6v1.6h-1.6zM330.7 422.1h1.6v1.6h-1.6zM327.7 424.1h1.6v1.6h-1.6zM328.0 412.4h1.6v1.6h-1.6zM325.6 425.0h1.6v1.6h-1.6zM331.2 414.6h1.6v1.6h-1.6zM332.2 415.9h1.6v1.6h-1.6zM321.4 412.0h1.6v1.6h-1.6zM317.3 416.5h1.6v1.6h-1.6zM330.4 415.7h1.6v1.6h-1.6zM330.5 411.9h1.6v1.6h-1.6zM319.0 421.0h1.6v1.6h-1.6zM316.8 418.6h1.6v1.6h-1.6zM317.0 415.1h1.6v1.6h-1.6zM323.6 425.8h1.6v1.6h-1.6zM323.7 423.3h1.6v1.6h-1.6zM384.6 419.1h1.6v1.6h-1.6zM385.0 416.0h1.6v1.6h-1.6zM387.5 418.3h1.6v1.6h-1.6zM388.0 416.5h1.6v1.6h-1.6zM387.5 417.0h1.6v1.6h-1.6zM384.4 418.5h1.6v1.6h-1.6zM386.9 414.8h1.6v1.6h-1.6zM388.2 416.8h1.6v1.6h-1.6zM381.7 417.0h1.6v1.6h-1.6zM382.7 415.7h1.6v1.6h-1.6zM385.8 418.5h1.6v1.6h-1.6zM386.6 416.2h1.6v1.6h-1.6zM389.4 423.6h1.6v1.6h-1.6zM389.3 423.0h1.6v1.6h-1.6zM400.7 436.8h1.6v1.6h-1.6zM409.4 440.2h1.6v1.6h-1.6zM405.5 441.4h1.6v1.6h-1.6zM411.1 444.7h1.6v1.6h-1.6zM409.6 443.4h1.6v1.6h-1.6zM410.7 439.4h1.6v1.6h-1.6zM408.5 446.3h1.6v1.6h-1.6zM406.1 445.1h1.6v1.6h-1.6zM412.6 444.9h1.6v1.6h-1.6zM410.7 446.7h1.6v1.6h-1.6zM420.3 439.4h1.6v1.6h-1.6zM419.4 444.5h1.6v1.6h-1.6zM417.4 438.1h1.6v1.6h-1.6zM415.4 441.9h1.6v1.6h-1.6zM411.7 445.0h1.6v1.6h-1.6zM411.3 442.5h1.6v1.6h-1.6zM417.5 441.4h1.6v1.6h-1.6zM414.8 444.1h1.6v1.6h-1.6zM416.1 439.0h1.6v1.6h-1.6zM413.3 439.2h1.6v1.6h-1.6zM416.2 441.1h1.6v1.6h-1.6zM417.0 444.9h1.6v1.6h-1.6zM415.6 447.5h1.6v1.6h-1.6zM419.0 443.8h1.6v1.6h-1.6zM419.5 439.4h1.6v1.6h-1.6zM411.3 448.0h1.6v1.6h-1.6zM420.9 444.4h1.6v1.6h-1.6zM420.1 444.6h1.6v1.6h-1.6z" fill="#ecaf9f"/>
<path d="M316.2 418.7h1.6v1.6h-1.6zM317.7 417.7h1.6v1.6h-1.6zM325.9 416.2h1.6v1.6h-1.6zM323.1 423.4h1.6v1.6h-1.6zM329.4 423.0h1.6v1.6h-1.6zM326.3 419.3h1.6v1.6h-1.6zM328.5 423.3h1.6v1.6h-1.6zM325.2 416.9h1.6v1.6h-1.6zM329.0 420.5h1.6v1.6h-1.6zM331.0 412.6h1.6v1.6h-1.6zM333.3 413.9h1.6v1.6h-1.6zM318.7 420.2h1.6v1.6h-1.6zM333.1 414.3h1.6v1.6h-1.6zM317.0 411.6h1.6v1.6h-1.6zM328.0 418.6h1.6v1.6h-1.6zM317.3 421.5h1.6v1.6h-1.6zM317.4 412.7h1.6v1.6h-1.6zM332.7 413.0h1.6v1.6h-1.6zM323.6 412.9h1.6v1.6h-1.6zM328.4 417.6h1.6v1.6h-1.6zM318.9 414.6h1.6v1.6h-1.6zM317.5 411.9h1.6v1.6h-1.6zM321.9 411.5h1.6v1.6h-1.6zM332.6 415.8h1.6v1.6h-1.6zM319.7 415.3h1.6v1.6h-1.6zM323.5 412.8h1.6v1.6h-1.6zM318.2 416.5h1.6v1.6h-1.6zM328.3 414.4h1.6v1.6h-1.6zM318.0 415.8h1.6v1.6h-1.6zM324.6 417.9h1.6v1.6h-1.6zM321.3 414.0h1.6v1.6h-1.6zM332.9 418.6h1.6v1.6h-1.6zM334.3 413.9h1.6v1.6h-1.6zM326.2 420.2h1.6v1.6h-1.6zM322.1 411.1h1.6v1.6h-1.6zM330.0 421.6h1.6v1.6h-1.6zM323.1 420.3h1.6v1.6h-1.6zM329.7 419.2h1.6v1.6h-1.6zM330.4 416.8h1.6v1.6h-1.6zM330.7 417.5h1.6v1.6h-1.6zM319.3 413.8h1.6v1.6h-1.6zM327.9 421.2h1.6v1.6h-1.6zM320.3 422.0h1.6v1.6h-1.6zM317.6 413.8h1.6v1.6h-1.6zM318.7 420.7h1.6v1.6h-1.6zM317.7 423.0h1.6v1.6h-1.6zM316.8 414.0h1.6v1.6h-1.6zM332.0 420.0h1.6v1.6h-1.6zM316.6 417.5h1.6v1.6h-1.6zM326.3 411.6h1.6v1.6h-1.6zM319.4 417.7h1.6v1.6h-1.6zM382.7 417.5h1.6v1.6h-1.6zM383.0 416.6h1.6v1.6h-1.6zM388.4 415.2h1.6v1.6h-1.6zM385.2 420.3h1.6v1.6h-1.6zM384.7 417.7h1.6v1.6h-1.6zM382.8 419.8h1.6v1.6h-1.6zM385.5 413.4h1.6v1.6h-1.6zM387.0 415.5h1.6v1.6h-1.6zM381.4 418.4h1.6v1.6h-1.6zM383.8 418.4h1.6v1.6h-1.6zM388.1 417.2h1.6v1.6h-1.6zM392.3 429.7h1.6v1.6h-1.6zM387.6 421.6h1.6v1.6h-1.6zM390.5 428.9h1.6v1.6h-1.6zM388.3 424.3h1.6v1.6h-1.6zM390.6 425.5h1.6v1.6h-1.6zM399.9 437.0h1.6v1.6h-1.6zM405.7 438.9h1.6v1.6h-1.6zM403.0 437.2h1.6v1.6h-1.6zM402.9 437.3h1.6v1.6h-1.6zM400.4 436.7h1.6v1.6h-1.6zM396.1 435.8h1.6v1.6h-1.6zM409.9 444.9h1.6v1.6h-1.6zM401.6 441.1h1.6v1.6h-1.6zM397.0 434.5h1.6v1.6h-1.6zM411.7 440.0h1.6v1.6h-1.6zM399.4 439.9h1.6v1.6h-1.6zM408.8 445.0h1.6v1.6h-1.6zM405.7 442.8h1.6v1.6h-1.6zM403.6 440.1h1.6v1.6h-1.6zM395.6 436.0h1.6v1.6h-1.6zM399.5 438.3h1.6v1.6h-1.6zM394.9 435.0h1.6v1.6h-1.6zM418.5 443.9h1.6v1.6h-1.6zM418.1 446.9h1.6v1.6h-1.6zM414.7 448.1h1.6v1.6h-1.6zM414.2 443.6h1.6v1.6h-1.6zM420.7 443.1h1.6v1.6h-1.6zM412.7 446.6h1.6v1.6h-1.6zM413.5 439.4h1.6v1.6h-1.6zM420.0 444.3h1.6v1.6h-1.6zM417.1 448.1h1.6v1.6h-1.6zM413.3 442.4h1.6v1.6h-1.6zM413.4 441.1h1.6v1.6h-1.6zM412.7 444.6h1.6v1.6h-1.6zM417.4 443.1h1.6v1.6h-1.6zM418.8 445.8h1.6v1.6h-1.6zM413.4 442.7h1.6v1.6h-1.6zM417.3 448.0h1.6v1.6h-1.6zM417.7 440.2h1.6v1.6h-1.6zM416.5 445.8h1.6v1.6h-1.6zM412.5 444.7h1.6v1.6h-1.6zM410.5 446.4h1.6v1.6h-1.6zM418.0 442.7h1.6v1.6h-1.6zM414.0 440.7h1.6v1.6h-1.6zM419.1 441.4h1.6v1.6h-1.6zM419.9 439.9h1.6v1.6h-1.6zM413.2 440.5h1.6v1.6h-1.6zM419.9 445.5h1.6v1.6h-1.6zM416.2 443.7h1.6v1.6h-1.6zM419.2 438.8h1.6v1.6h-1.6zM410.3 447.6h1.6v1.6h-1.6zM413.6 439.0h1.6v1.6h-1.6z" fill="#f1a38f"/>
<path d="M327.9 424.1h1.6v1.6h-1.6zM333.0 412.8h1.6v1.6h-1.6zM325.5 415.4h1.6v1.6h-1.6zM323.1 422.1h1.6v1.6h-1.6zM321.4 418.6h1.6v1.6h-1.6zM320.7 421.6h1.6v1.6h-1.6zM322.8 421.1h1.6v1.6h-1.6zM330.8 413.5h1.6v1.6h-1.6zM319.5 411.3h1.6v1.6h-1.6zM317.9 424.2h1.6v1.6h-1.6zM328.3 412.2h1.6v1.6h-1.6zM328.2 416.4h1.6v1.6h-1.6zM328.4 413.0h1.6v1.6h-1.6zM318.0 420.8h1.6v1.6h-1.6zM324.8 415.4h1.6v1.6h-1.6zM328.2 418.4h1.6v1.6h-1.6zM316.3 414.8h1.6v1.6h-1.6zM325.0 425.5h1.6v1.6h-1.6zM321.7 424.1h1.6v1.6h-1.6zM320.3 424.0h1.6v1.6h-1.6zM330.4 412.9h1.6v1.6h-1.6zM321.6 425.6h1.6v1.6h-1.6zM316.7 422.0h1.6v1.6h-1.6zM327.1 420.8h1.6v1.6h-1.6zM330.9 413.6h1.6v1.6h-1.6zM327.9 414.6h1.6v1.6h-1.6zM320.4 416.1h1.6v1.6h-1.6zM328.3 416.3h1.6v1.6h-1.6zM332.3 417.7h1.6v1.6h-1.6zM319.7 411.3h1.6v1.6h-1.6zM318.9 415.4h1.6v1.6h-1.6zM321.6 421.6h1.6v1.6h-1.6zM330.7 413.3h1.6v1.6h-1.6zM325.3 415.3h1.6v1.6h-1.6zM326.3 416.4h1.6v1.6h-1.6zM317.8 419.5h1.6v1.6h-1.6zM333.4 414.2h1.6v1.6h-1.6zM321.9 418.0h1.6v1.6h-1.6zM332.8 414.3h1.6v1.6h-1.6zM320.6 411.7h1.6v1.6h-1.6zM331.4 420.0h1.6v1.6h-1.6zM330.3 417.9h1.6v1.6h-1.6zM316.3 413.4h1.6v1.6h-1.6zM322.0 416.9h1.6v1.6h-1.6zM326.7 423.6h1.6v1.6h-1.6zM330.9 420.6h1.6v1.6h-1.6zM334.2 414.6h1.6v1.6h-1.6zM331.5 414.3h1.6v1.6h-1.6zM324.4 419.3h1.6v1.6h-1.6zM322.2 424.5h1.6v1.6h-1.6zM329.7 422.7h1.6v1.6h-1.6zM325.5 416.4h1.6v1.6h-1.6zM317.4 416.5h1.6v1.6h-1.6zM331.5 416.5h1.6v1.6h-1.6zM324.6 420.3h1.6v1.6h-1.6zM329.4 412.7h1.6v1.6h-1.6zM317.0 416.9h1.6v1.6h-1.6zM320.4 425.6h1.6v1.6h-1.6zM320.5 419.9h1.6v1.6h-1.6zM384.1 417.1h1.6v1.6h-1.6zM386.6 418.2h1.6v1.6h-1.6zM381.0 418.9h1.6v1.6h-1.6zM381.1 418.5h1.6v1.6h-1.6zM386.3 416.6h1.6v1.6h-1.6zM388.1 414.8h1.6v1.6h-1.6zM390.9 427.7h1.6v1.6h-1.6zM388.5 424.1h1.6v1.6h-1.6zM406.5 442.3h1.6v1.6h-1.6zM402.4 439.3h1.6v1.6h-1.6zM407.8 438.9h1.6v1.6h-1.6zM396.6 438.1h1.6v1.6h-1.6zM409.8 441.1h1.6v1.6h-1.6zM402.8 442.3h1.6v1.6h-1.6zM409.9 444.8h1.6v1.6h-1.6zM408.1 443.2h1.6v1.6h-1.6zM398.0 439.0h1.6v1.6h-1.6zM402.6 441.7h1.6v1.6h-1.6zM399.7 440.5h1.6v1.6h-1.6zM395.7 436.4h1.6v1.6h-1.6zM396.0 434.9h1.6v1.6h-1.6zM407.6 440.0h1.6v1.6h-1.6zM407.7 443.3h1.6v1.6h-1.6zM410.9 440.9h1.6v1.6h-1.6zM399.5 439.6h1.6v1.6h-1.6zM399.3 438.4h1.6v1.6h-1.6zM406.1 444.9h1.6v1.6h-1.6zM403.8 442.3h1.6v1.6h-1.6zM405.7 442.4h1.6v1.6h-1.6zM403.6 440.5h1.6v1.6h-1.6zM402.7 441.0h1.6v1.6h-1.6zM406.4 440.7h1.6v1.6h-1.6zM411.8 444.2h1.6v1.6h-1.6zM404.3 442.4h1.6v1.6h-1.6zM400.5 440.1h1.6v1.6h-1.6zM397.5 437.6h1.6v1.6h-1.6zM419.8 441.3h1.6v1.6h-1.6zM420.6 445.3h1.6v1.6h-1.6zM415.0 446.6h1.6v1.6h-1.6zM419.7 443.2h1.6v1.6h-1.6zM412.2 442.4h1.6v1.6h-1.6zM412.4 446.6h1.6v1.6h-1.6zM409.2 445.4h1.6v1.6h-1.6zM410.6 447.2h1.6v1.6h-1.6zM415.5 446.2h1.6v1.6h-1.6zM415.7 444.4h1.6v1.6h-1.6zM411.6 445.3h1.6v1.6h-1.6zM417.1 443.3h1.6v1.6h-1.6zM415.1 446.3h1.6v1.6h-1.6zM411.7 444.7h1.6v1.6h-1.6zM409.8 444.1h1.6v1.6h-1.6zM417.3 441.3h1.6v1.6h-1.6zM418.8 444.3h1.6v1.6h-1.6zM418.5 445.8h1.6v1.6h-1.6z" fill="#f6967e"/>
<path d="M318.9 411.5h1.6v1.6h-1.6zM324.0 414.5h1.6v1.6h-1.6zM325.0 417.5h1.6v1.6h-1.6zM328.7 423.5h1.6v1.6h-1.6zM325.2 423.9h1.6v1.6h-1.6zM320.1 421.8h1.6v1.6h-1.6zM316.6 412.9h1.6v1.6h-1.6zM315.5 417.3h1.6v1.6h-1.6zM323.3 411.3h1.6v1.6h-1.6zM332.6 417.5h1.6v1.6h-1.6zM317.8 419.9h1.6v1.6h-1.6zM323.4 417.7h1.6v1.6h-1.6zM324.2 415.9h1.6v1.6h-1.6zM331.4 415.6h1.6v1.6h-1.6zM324.4 420.0h1.6v1.6h-1.6zM323.6 417.0h1.6v1.6h-1.6zM325.5 419.6h1.6v1.6h-1.6zM318.6 420.6h1.6v1.6h-1.6zM321.0 419.6h1.6v1.6h-1.6zM325.2 412.3h1.6v1.6h-1.6zM333.9 413.2h1.6v1.6h-1.6zM320.8 415.2h1.6v1.6h-1.6zM320.6 412.1h1.6v1.6h-1.6zM324.5 420.0h1.6v1.6h-1.6zM323.3 412.3h1.6v1.6h-1.6zM324.3 415.8h1.6v1.6h-1.6zM321.1 423.9h1.6v1.6h-1.6zM316.9 413.4h1.6v1.6h-1.6zM321.5 411.7h1.6v1.6h-1.6zM331.5 419.7h1.6v1.6h-1.6zM326.6 413.5h1.6v1.6h-1.6zM332.5 417.5h1.6v1.6h-1.6zM327.3 416.5h1.6v1.6h-1.6zM323.7 413.6h1.6v1.6h-1.6zM334.0 414.1h1.6v1.6h-1.6zM334.4 415.6h1.6v1.6h-1.6zM316.1 412.6h1.6v1.6h-1.6zM327.3 420.5h1.6v1.6h-1.6zM333.1 418.4h1.6v1.6h-1.6zM317.3 417.2h1.6v1.6h-1.6zM321.7 412.6h1.6v1.6h-1.6zM325.9 422.0h1.6v1.6h-1.6zM321.7 416.2h1.6v1.6h-1.6zM333.2 419.1h1.6v1.6h-1.6zM317.5 418.4h1.6v1.6h-1.6zM315.8 414.8h1.6v1.6h-1.6zM317.3 415.2h1.6v1.6h-1.6zM326.1 411.6h1.6v1.6h-1.6zM324.3 415.1h1.6v1.6h-1.6zM325.3 415.3h1.6v1.6h-1.6zM392.0 429.5h1.6v1.6h-1.6zM393.2 434.7h1.6v1.6h-1.6zM392.7 433.8h1.6v1.6h-1.6zM410.4 443.0h1.6v1.6h-1.6zM406.9 443.8h1.6v1.6h-1.6zM409.0 439.5h1.6v1.6h-1.6zM399.8 439.5h1.6v1.6h-1.6zM400.9 436.2h1.6v1.6h-1.6zM406.9 439.6h1.6v1.6h-1.6zM395.9 436.5h1.6v1.6h-1.6zM400.3 438.3h1.6v1.6h-1.6zM397.7 437.9h1.6v1.6h-1.6zM403.7 441.2h1.6v1.6h-1.6zM397.9 437.0h1.6v1.6h-1.6zM405.3 437.7h1.6v1.6h-1.6zM401.8 437.7h1.6v1.6h-1.6zM406.6 441.3h1.6v1.6h-1.6zM401.0 439.8h1.6v1.6h-1.6zM400.2 441.0h1.6v1.6h-1.6zM403.2 441.5h1.6v1.6h-1.6zM397.7 438.8h1.6v1.6h-1.6zM403.3 440.7h1.6v1.6h-1.6zM407.6 443.7h1.6v1.6h-1.6zM408.4 446.1h1.6v1.6h-1.6zM417.3 441.5h1.6v1.6h-1.6zM411.5 440.4h1.6v1.6h-1.6zM418.1 446.3h1.6v1.6h-1.6zM415.1 439.6h1.6v1.6h-1.6zM409.5 442.9h1.6v1.6h-1.6zM416.7 444.4h1.6v1.6h-1.6zM416.2 445.0h1.6v1.6h-1.6zM417.1 440.7h1.6v1.6h-1.6zM414.8 441.9h1.6v1.6h-1.6zM419.1 446.2h1.6v1.6h-1.6zM418.4 442.1h1.6v1.6h-1.6zM416.4 443.4h1.6v1.6h-1.6zM413.3 446.3h1.6v1.6h-1.6zM420.6 441.4h1.6v1.6h-1.6zM417.2 445.0h1.6v1.6h-1.6zM417.4 438.5h1.6v1.6h-1.6zM420.2 444.5h1.6v1.6h-1.6zM416.9 444.1h1.6v1.6h-1.6z" fill="#f9896e"/>
<path d="M325.7 422.5h1.6v1.6h-1.6zM323.9 413.1h1.6v1.6h-1.6zM317.4 415.1h1.6v1.6h-1.6zM319.0 424.3h1.6v1.6h-1.6zM326.9 416.2h1.6v1.6h-1.6zM323.2 413.0h1.6v1.6h-1.6zM320.2 415.4h1.6v1.6h-1.6zM321.5 418.4h1.6v1.6h-1.6zM315.8 419.3h1.6v1.6h-1.6zM331.1 420.3h1.6v1.6h-1.6zM330.0 417.7h1.6v1.6h-1.6zM330.2 411.5h1.6v1.6h-1.6zM324.5 415.8h1.6v1.6h-1.6zM320.8 422.9h1.6v1.6h-1.6zM326.3 412.9h1.6v1.6h-1.6zM330.4 421.3h1.6v1.6h-1.6zM316.6 413.1h1.6v1.6h-1.6zM320.2 412.6h1.6v1.6h-1.6zM327.9 420.0h1.6v1.6h-1.6zM323.2 425.9h1.6v1.6h-1.6zM318.0 421.5h1.6v1.6h-1.6zM329.0 417.7h1.6v1.6h-1.6zM324.1 411.4h1.6v1.6h-1.6zM323.9 419.3h1.6v1.6h-1.6zM316.2 420.0h1.6v1.6h-1.6zM323.7 414.2h1.6v1.6h-1.6zM322.9 414.7h1.6v1.6h-1.6zM317.6 422.3h1.6v1.6h-1.6zM319.9 419.1h1.6v1.6h-1.6zM316.8 419.9h1.6v1.6h-1.6zM321.4 420.5h1.6v1.6h-1.6zM318.8 412.2h1.6v1.6h-1.6zM323.3 421.8h1.6v1.6h-1.6zM323.5 415.4h1.6v1.6h-1.6zM324.8 418.3h1.6v1.6h-1.6zM328.0 412.9h1.6v1.6h-1.6zM388.1 421.3h1.6v1.6h-1.6zM391.8 434.0h1.6v1.6h-1.6zM391.6 434.5h1.6v1.6h-1.6zM391.0 434.3h1.6v1.6h-1.6zM388.5 433.1h1.6v1.6h-1.6zM390.3 435.1h1.6v1.6h-1.6zM392.6 435.2h1.6v1.6h-1.6zM393.2 434.5h1.6v1.6h-1.6zM384.6 433.4h1.6v1.6h-1.6zM410.2 445.8h1.6v1.6h-1.6zM411.1 441.6h1.6v1.6h-1.6zM399.2 437.3h1.6v1.6h-1.6zM396.5 437.5h1.6v1.6h-1.6zM400.9 441.7h1.6v1.6h-1.6zM407.3 443.3h1.6v1.6h-1.6zM396.3 435.9h1.6v1.6h-1.6zM405.6 442.2h1.6v1.6h-1.6zM402.8 441.0h1.6v1.6h-1.6zM398.9 437.2h1.6v1.6h-1.6zM411.2 443.0h1.6v1.6h-1.6zM403.3 437.8h1.6v1.6h-1.6zM412.0 442.5h1.6v1.6h-1.6zM409.5 442.6h1.6v1.6h-1.6zM415.2 443.3h1.6v1.6h-1.6zM418.1 441.4h1.6v1.6h-1.6zM412.2 441.5h1.6v1.6h-1.6zM412.1 443.3h1.6v1.6h-1.6z" fill="#fc7b5d"/>
<path d="M318.6 424.4h1.6v1.6h-1.6zM329.1 420.1h1.6v1.6h-1.6zM322.8 424.4h1.6v1.6h-1.6zM330.0 422.4h1.6v1.6h-1.6zM328.3 420.3h1.6v1.6h-1.6zM328.0 414.9h1.6v1.6h-1.6zM331.8 414.7h1.6v1.6h-1.6zM321.7 419.3h1.6v1.6h-1.6zM330.3 420.9h1.6v1.6h-1.6zM325.9 416.1h1.6v1.6h-1.6zM317.8 416.8h1.6v1.6h-1.6zM333.8 418.5h1.6v1.6h-1.6zM331.0 417.1h1.6v1.6h-1.6zM325.3 425.1h1.6v1.6h-1.6zM318.7 413.3h1.6v1.6h-1.6zM323.1 415.8h1.6v1.6h-1.6zM330.8 422.3h1.6v1.6h-1.6zM320.8 417.3h1.6v1.6h-1.6zM319.2 418.9h1.6v1.6h-1.6zM317.9 415.7h1.6v1.6h-1.6zM319.4 417.0h1.6v1.6h-1.6zM327.6 423.0h1.6v1.6h-1.6zM334.9 415.1h1.6v1.6h-1.6zM331.2 421.6h1.6v1.6h-1.6zM321.9 415.0h1.6v1.6h-1.6zM320.5 421.5h1.6v1.6h-1.6zM324.1 424.9h1.6v1.6h-1.6zM318.6 423.4h1.6v1.6h-1.6zM323.3 423.3h1.6v1.6h-1.6zM394.3 433.1h1.6v1.6h-1.6zM388.3 435.5h1.6v1.6h-1.6zM384.9 432.6h1.6v1.6h-1.6zM390.8 432.7h1.6v1.6h-1.6zM392.0 434.0h1.6v1.6h-1.6zM391.9 433.4h1.6v1.6h-1.6zM388.6 434.8h1.6v1.6h-1.6zM384.2 432.9h1.6v1.6h-1.6zM389.4 431.8h1.6v1.6h-1.6zM390.6 435.5h1.6v1.6h-1.6zM390.5 434.9h1.6v1.6h-1.6zM384.3 433.2h1.6v1.6h-1.6zM394.4 435.7h1.6v1.6h-1.6zM388.1 433.7h1.6v1.6h-1.6zM408.2 439.8h1.6v1.6h-1.6zM407.1 440.3h1.6v1.6h-1.6zM400.4 437.2h1.6v1.6h-1.6zM403.7 437.4h1.6v1.6h-1.6zM395.4 437.0h1.6v1.6h-1.6zM406.6 443.1h1.6v1.6h-1.6zM406.5 441.0h1.6v1.6h-1.6zM415.1 442.5h1.6v1.6h-1.6zM412.2 446.0h1.6v1.6h-1.6z" fill="#fe6d4d"/>
<path d="M331.8 420.1h1.6v1.6h-1.6zM329.9 421.6h1.6v1.6h-1.6zM323.8 411.7h1.6v1.6h-1.6zM317.3 415.8h1.6v1.6h-1.6zM317.3 423.2h1.6v1.6h-1.6zM330.7 412.2h1.6v1.6h-1.6zM323.9 413.0h1.6v1.6h-1.6zM318.0 420.4h1.6v1.6h-1.6zM325.1 416.9h1.6v1.6h-1.6zM318.7 419.1h1.6v1.6h-1.6zM317.4 412.5h1.6v1.6h-1.6zM388.3 433.6h1.6v1.6h-1.6zM392.5 435.2h1.6v1.6h-1.6zM384.5 432.7h1.6v1.6h-1.6zM387.9 432.4h1.6v1.6h-1.6zM391.4 432.7h1.6v1.6h-1.6zM388.2 431.8h1.6v1.6h-1.6zM391.4 435.6h1.6v1.6h-1.6zM406.9 443.7h1.6v1.6h-1.6zM395.5 435.0h1.6v1.6h-1.6zM416.8 438.2h1.6v1.6h-1.6z" fill="#ff5d3d"/>
<path d="M333.3 419.1h1.6v1.6h-1.6zM323.3 416.9h1.6v1.6h-1.6zM323.6 412.5h1.6v1.6h-1.6zM329.9 422.5h1.6v1.6h-1.6zM391.2 433.2h1.6v1.6h-1.6zM394.6 435.5h1.6v1.6h-1.6zM386.9 435.0h1.6v1.6h-1.6z" fill="#ff4a2c"/>
<path d="M320.6 411.5h1.6v1.6h-1.6zM328.9 416.8h1.6v1.6h-1.6zM391.0 435.1h1.6v1.6h-1.6zM390.9 433.4h1.6v1.6h-1.6zM388.7 433.7h1.6v1.6h-1.6z" fill="#ff331a"/>
<path d="M321.3 417.3h1.6v1.6h-1.6zM389.6 433.9h1.6v1.6h-1.6zM388.7 435.2h1.6v1.6h-1.6z" fill="#ff0000"/>
</g>
<path d="M303.50,375.50V473.50H428.30" fill="none" stroke="#555" stroke-width="0.85"/>
<line x1="299.90" y1="380.40" x2="303.50" y2="380.40" stroke="#555" stroke-width="0.75"/>
<text x="295.10" y="383.10" font-size="9.0" text-anchor="end" >−11</text>
<line x1="299.90" y1="402.60" x2="303.50" y2="402.60" stroke="#555" stroke-width="0.75"/>
<text x="295.10" y="405.30" font-size="9.0" text-anchor="end" >−12</text>
<line x1="299.90" y1="424.75" x2="303.50" y2="424.75" stroke="#555" stroke-width="0.75"/>
<text x="295.10" y="427.45" font-size="9.0" text-anchor="end" >−13</text>
<line x1="299.90" y1="446.90" x2="303.50" y2="446.90" stroke="#555" stroke-width="0.75"/>
<text x="295.10" y="449.60" font-size="9.0" text-anchor="end" >−14</text>
<line x1="299.90" y1="469.10" x2="303.50" y2="469.10" stroke="#555" stroke-width="0.75"/>
<text x="295.10" y="471.80" font-size="9.0" text-anchor="end" >−15</text>
<line x1="309.30" y1="473.50" x2="309.30" y2="477.70" stroke="#555" stroke-width="0.75"/>
<text x="309.30" y="489.10" font-size="9.0" text-anchor="middle" >−6</text>
<line x1="337.50" y1="473.50" x2="337.50" y2="477.70" stroke="#555" stroke-width="0.75"/>
<text x="337.50" y="489.10" font-size="9.0" text-anchor="middle" >−4</text>
<line x1="365.70" y1="473.50" x2="365.70" y2="477.70" stroke="#555" stroke-width="0.75"/>
<text x="365.70" y="489.10" font-size="9.0" text-anchor="middle" >−2</text>
<line x1="394.20" y1="473.50" x2="394.20" y2="477.70" stroke="#555" stroke-width="0.75"/>
<text x="394.20" y="489.10" font-size="9.0" text-anchor="middle" >0</text>
<line x1="422.60" y1="473.50" x2="422.60" y2="477.70" stroke="#555" stroke-width="0.75"/>
<text x="422.60" y="489.10" font-size="9.0" text-anchor="middle" >2</text>
<text x="355.20" y="368.50" font-size="10.3" textLength="20.90" lengthAdjust="spacingAndGlyphs" >IRF4</text>
<text x="366.20" y="505.00" font-size="10.0" text-anchor="middle" >wnnUMAP_1</text>
<text transform="translate(274.30,424.40) rotate(-90)" text-anchor="middle" font-size="10" fill="#222">wnnUMAP_2</text>
<g transform="translate(218.0,0.0)">
<path d="M323.1 399.3h1.6v1.6h-1.6zM323.6 401.2h1.6v1.6h-1.6zM323.4 401.1h1.6v1.6h-1.6zM323.8 393.3h1.6v1.6h-1.6zM322.7 394.6h1.6v1.6h-1.6zM322.9 397.7h1.6v1.6h-1.6zM322.2 401.0h1.6v1.6h-1.6zM323.5 393.7h1.6v1.6h-1.6zM323.6 393.5h1.6v1.6h-1.6zM323.1 393.4h1.6v1.6h-1.6zM322.0 394.3h1.6v1.6h-1.6zM322.3 401.4h1.6v1.6h-1.6zM322.9 398.7h1.6v1.6h-1.6zM322.0 401.2h1.6v1.6h-1.6zM323.3 401.5h1.6v1.6h-1.6zM323.8 395.1h1.6v1.6h-1.6zM322.4 393.8h1.6v1.6h-1.6zM321.9 392.8h1.6v1.6h-1.6zM322.3 398.0h1.6v1.6h-1.6zM323.3 405.7h1.6v1.6h-1.6zM325.4 409.2h1.6v1.6h-1.6zM319.5 410.6h1.6v1.6h-1.6zM326.5 410.4h1.6v1.6h-1.6zM325.7 405.3h1.6v1.6h-1.6zM322.9 404.2h1.6v1.6h-1.6zM320.0 404.0h1.6v1.6h-1.6zM327.4 411.1h1.6v1.6h-1.6zM321.6 421.6h1.6v1.6h-1.6zM323.1 415.8h1.6v1.6h-1.6zM329.0 417.7h1.6v1.6h-1.6zM326.2 420.2h1.6v1.6h-1.6zM317.4 412.5h1.6v1.6h-1.6zM382.7 417.5h1.6v1.6h-1.6zM385.7 419.9h1.6v1.6h-1.6zM385.2 420.3h1.6v1.6h-1.6zM382.8 419.8h1.6v1.6h-1.6zM386.8 414.8h1.6v1.6h-1.6zM381.0 418.9h1.6v1.6h-1.6zM384.4 418.5h1.6v1.6h-1.6zM388.2 416.8h1.6v1.6h-1.6zM382.7 421.4h1.6v1.6h-1.6zM384.7 417.4h1.6v1.6h-1.6zM388.2 417.6h1.6v1.6h-1.6zM382.7 415.7h1.6v1.6h-1.6zM387.0 415.5h1.6v1.6h-1.6zM383.8 418.4h1.6v1.6h-1.6zM420.7 443.1h1.6v1.6h-1.6zM415.4 441.9h1.6v1.6h-1.6zM418.1 441.4h1.6v1.6h-1.6zM413.3 439.2h1.6v1.6h-1.6z" fill="#d3d3d3"/>
<path d="M323.2 405.3h1.6v1.6h-1.6zM329.0 406.7h1.6v1.6h-1.6zM322.9 406.7h1.6v1.6h-1.6zM328.2 409.8h1.6v1.6h-1.6zM323.5 407.6h1.6v1.6h-1.6zM321.3 410.7h1.6v1.6h-1.6zM321.5 409.0h1.6v1.6h-1.6zM330.3 410.6h1.6v1.6h-1.6zM320.4 409.0h1.6v1.6h-1.6zM328.7 409.9h1.6v1.6h-1.6zM320.2 405.6h1.6v1.6h-1.6zM323.2 410.5h1.6v1.6h-1.6zM325.0 417.5h1.6v1.6h-1.6zM331.8 420.1h1.6v1.6h-1.6zM328.8 422.4h1.6v1.6h-1.6zM316.1 413.3h1.6v1.6h-1.6zM315.5 417.3h1.6v1.6h-1.6zM321.3 417.3h1.6v1.6h-1.6zM332.6 417.5h1.6v1.6h-1.6zM320.2 412.6h1.6v1.6h-1.6zM331.0 417.1h1.6v1.6h-1.6zM318.2 412.0h1.6v1.6h-1.6zM328.8 411.3h1.6v1.6h-1.6zM384.1 417.1h1.6v1.6h-1.6zM384.3 419.4h1.6v1.6h-1.6zM383.8 418.3h1.6v1.6h-1.6zM386.9 414.8h1.6v1.6h-1.6zM384.1 418.3h1.6v1.6h-1.6zM386.3 416.6h1.6v1.6h-1.6zM395.9 436.5h1.6v1.6h-1.6zM410.9 440.9h1.6v1.6h-1.6zM420.0 441.1h1.6v1.6h-1.6zM420.9 444.4h1.6v1.6h-1.6z" fill="#ddc7c2"/>
<path d="M319.3 409.3h1.6v1.6h-1.6zM317.7 417.7h1.6v1.6h-1.6zM323.2 413.0h1.6v1.6h-1.6zM324.2 415.9h1.6v1.6h-1.6zM328.0 418.6h1.6v1.6h-1.6zM318.7 420.9h1.6v1.6h-1.6zM320.4 418.5h1.6v1.6h-1.6zM320.3 412.0h1.6v1.6h-1.6zM317.3 415.8h1.6v1.6h-1.6zM317.8 419.5h1.6v1.6h-1.6zM316.9 413.4h1.6v1.6h-1.6zM326.6 413.5h1.6v1.6h-1.6zM324.6 417.9h1.6v1.6h-1.6zM332.5 417.5h1.6v1.6h-1.6zM327.6 423.0h1.6v1.6h-1.6zM319.9 419.1h1.6v1.6h-1.6zM330.4 416.8h1.6v1.6h-1.6zM319.3 413.8h1.6v1.6h-1.6zM321.7 412.6h1.6v1.6h-1.6zM316.6 417.5h1.6v1.6h-1.6zM326.3 411.6h1.6v1.6h-1.6zM319.4 417.7h1.6v1.6h-1.6zM320.5 419.9h1.6v1.6h-1.6zM384.6 419.1h1.6v1.6h-1.6zM385.0 416.0h1.6v1.6h-1.6zM386.8 417.7h1.6v1.6h-1.6zM386.9 417.3h1.6v1.6h-1.6zM381.7 417.0h1.6v1.6h-1.6zM381.4 418.4h1.6v1.6h-1.6zM386.7 414.8h1.6v1.6h-1.6zM386.6 416.2h1.6v1.6h-1.6zM388.1 417.2h1.6v1.6h-1.6zM389.4 423.6h1.6v1.6h-1.6zM390.9 427.7h1.6v1.6h-1.6zM388.5 424.1h1.6v1.6h-1.6zM408.1 443.2h1.6v1.6h-1.6zM397.0 434.5h1.6v1.6h-1.6zM407.4 442.9h1.6v1.6h-1.6zM394.9 435.0h1.6v1.6h-1.6zM413.3 440.5h1.6v1.6h-1.6zM412.5 445.8h1.6v1.6h-1.6zM413.2 441.6h1.6v1.6h-1.6zM413.4 441.1h1.6v1.6h-1.6zM416.7 444.4h1.6v1.6h-1.6zM410.5 446.4h1.6v1.6h-1.6zM417.4 442.6h1.6v1.6h-1.6zM416.2 443.7h1.6v1.6h-1.6zM418.8 444.3h1.6v1.6h-1.6z" fill="#e5bbb0"/>
<path d="M327.9 424.1h1.6v1.6h-1.6zM333.0 412.8h1.6v1.6h-1.6zM328.7 423.5h1.6v1.6h-1.6zM321.4 418.6h1.6v1.6h-1.6zM321.6 426.0h1.6v1.6h-1.6zM326.3 419.3h1.6v1.6h-1.6zM329.4 417.5h1.6v1.6h-1.6zM324.7 421.2h1.6v1.6h-1.6zM322.1 413.6h1.6v1.6h-1.6zM319.5 411.3h1.6v1.6h-1.6zM326.9 416.2h1.6v1.6h-1.6zM318.0 420.8h1.6v1.6h-1.6zM318.7 420.2h1.6v1.6h-1.6zM330.4 412.9h1.6v1.6h-1.6zM317.0 411.6h1.6v1.6h-1.6zM327.5 422.7h1.6v1.6h-1.6zM327.1 420.8h1.6v1.6h-1.6zM321.0 419.6h1.6v1.6h-1.6zM323.6 412.9h1.6v1.6h-1.6zM320.8 415.2h1.6v1.6h-1.6zM317.5 411.9h1.6v1.6h-1.6zM319.2 418.9h1.6v1.6h-1.6zM321.9 418.0h1.6v1.6h-1.6zM324.3 415.8h1.6v1.6h-1.6zM324.7 423.9h1.6v1.6h-1.6zM318.0 415.8h1.6v1.6h-1.6zM316.2 420.0h1.6v1.6h-1.6zM319.4 417.0h1.6v1.6h-1.6zM330.9 420.6h1.6v1.6h-1.6zM334.0 414.1h1.6v1.6h-1.6zM330.7 417.5h1.6v1.6h-1.6zM322.2 424.5h1.6v1.6h-1.6zM318.7 420.7h1.6v1.6h-1.6zM320.5 421.5h1.6v1.6h-1.6zM331.5 416.5h1.6v1.6h-1.6zM317.3 415.2h1.6v1.6h-1.6zM324.3 415.1h1.6v1.6h-1.6zM383.0 416.6h1.6v1.6h-1.6zM383.6 417.4h1.6v1.6h-1.6zM384.7 417.7h1.6v1.6h-1.6zM388.0 416.5h1.6v1.6h-1.6zM387.5 417.0h1.6v1.6h-1.6zM385.7 414.4h1.6v1.6h-1.6zM386.0 414.0h1.6v1.6h-1.6zM386.1 416.3h1.6v1.6h-1.6zM388.1 414.8h1.6v1.6h-1.6zM385.8 418.5h1.6v1.6h-1.6zM384.0 415.5h1.6v1.6h-1.6zM389.3 423.0h1.6v1.6h-1.6zM387.6 421.6h1.6v1.6h-1.6zM390.2 425.7h1.6v1.6h-1.6zM400.9 436.2h1.6v1.6h-1.6zM397.7 437.9h1.6v1.6h-1.6zM402.9 437.3h1.6v1.6h-1.6zM409.9 444.9h1.6v1.6h-1.6zM411.7 440.0h1.6v1.6h-1.6zM403.6 440.5h1.6v1.6h-1.6zM411.6 443.6h1.6v1.6h-1.6zM404.3 442.4h1.6v1.6h-1.6zM403.3 437.8h1.6v1.6h-1.6zM418.5 443.9h1.6v1.6h-1.6zM412.0 442.5h1.6v1.6h-1.6zM411.5 440.4h1.6v1.6h-1.6zM409.7 443.6h1.6v1.6h-1.6zM419.7 443.2h1.6v1.6h-1.6zM417.4 438.1h1.6v1.6h-1.6zM420.7 444.5h1.6v1.6h-1.6zM411.7 445.0h1.6v1.6h-1.6zM417.7 440.2h1.6v1.6h-1.6zM412.5 447.8h1.6v1.6h-1.6zM412.2 441.5h1.6v1.6h-1.6zM417.1 440.7h1.6v1.6h-1.6zM416.2 441.1h1.6v1.6h-1.6zM416.5 448.1h1.6v1.6h-1.6zM414.0 440.7h1.6v1.6h-1.6zM413.4 445.5h1.6v1.6h-1.6zM419.0 443.8h1.6v1.6h-1.6zM411.3 448.0h1.6v1.6h-1.6zM412.2 446.0h1.6v1.6h-1.6zM420.1 444.6h1.6v1.6h-1.6z" fill="#ecaf9f"/>
<path d="M318.9 411.5h1.6v1.6h-1.6zM318.6 424.4h1.6v1.6h-1.6zM323.9 413.1h1.6v1.6h-1.6zM315.7 419.6h1.6v1.6h-1.6zM320.7 421.6h1.6v1.6h-1.6zM320.1 421.8h1.6v1.6h-1.6zM316.6 412.9h1.6v1.6h-1.6zM317.8 419.9h1.6v1.6h-1.6zM328.0 414.9h1.6v1.6h-1.6zM321.5 418.4h1.6v1.6h-1.6zM315.8 419.3h1.6v1.6h-1.6zM331.8 414.7h1.6v1.6h-1.6zM330.0 417.7h1.6v1.6h-1.6zM325.9 416.1h1.6v1.6h-1.6zM333.1 414.3h1.6v1.6h-1.6zM321.6 425.6h1.6v1.6h-1.6zM318.6 420.6h1.6v1.6h-1.6zM324.2 413.3h1.6v1.6h-1.6zM324.5 415.8h1.6v1.6h-1.6zM320.4 416.7h1.6v1.6h-1.6zM330.9 413.6h1.6v1.6h-1.6zM327.9 414.6h1.6v1.6h-1.6zM325.2 412.3h1.6v1.6h-1.6zM318.9 415.4h1.6v1.6h-1.6zM329.9 421.6h1.6v1.6h-1.6zM318.0 421.5h1.6v1.6h-1.6zM323.9 419.3h1.6v1.6h-1.6zM315.9 419.4h1.6v1.6h-1.6zM323.4 420.8h1.6v1.6h-1.6zM317.3 423.2h1.6v1.6h-1.6zM320.6 412.1h1.6v1.6h-1.6zM331.2 419.7h1.6v1.6h-1.6zM321.0 421.6h1.6v1.6h-1.6zM328.3 414.4h1.6v1.6h-1.6zM330.7 412.2h1.6v1.6h-1.6zM325.6 425.0h1.6v1.6h-1.6zM321.3 414.0h1.6v1.6h-1.6zM332.2 415.9h1.6v1.6h-1.6zM328.5 423.7h1.6v1.6h-1.6zM323.6 412.5h1.6v1.6h-1.6zM329.9 419.7h1.6v1.6h-1.6zM324.4 419.3h1.6v1.6h-1.6zM321.4 420.5h1.6v1.6h-1.6zM320.3 422.0h1.6v1.6h-1.6zM317.6 413.8h1.6v1.6h-1.6zM317.3 417.2h1.6v1.6h-1.6zM318.0 420.4h1.6v1.6h-1.6zM323.5 415.4h1.6v1.6h-1.6zM325.9 422.0h1.6v1.6h-1.6zM325.1 416.9h1.6v1.6h-1.6zM324.6 420.3h1.6v1.6h-1.6zM325.3 415.3h1.6v1.6h-1.6zM319.0 418.1h1.6v1.6h-1.6zM328.0 412.9h1.6v1.6h-1.6zM323.3 423.3h1.6v1.6h-1.6zM386.7 413.6h1.6v1.6h-1.6zM388.4 415.2h1.6v1.6h-1.6zM382.3 416.7h1.6v1.6h-1.6zM385.5 413.4h1.6v1.6h-1.6zM386.6 418.2h1.6v1.6h-1.6zM387.7 417.9h1.6v1.6h-1.6zM387.6 422.9h1.6v1.6h-1.6zM388.3 424.3h1.6v1.6h-1.6zM394.6 435.5h1.6v1.6h-1.6zM406.9 443.8h1.6v1.6h-1.6zM408.2 439.8h1.6v1.6h-1.6zM406.9 439.6h1.6v1.6h-1.6zM400.3 438.3h1.6v1.6h-1.6zM405.8 444.8h1.6v1.6h-1.6zM401.6 441.1h1.6v1.6h-1.6zM405.3 437.7h1.6v1.6h-1.6zM401.8 437.7h1.6v1.6h-1.6zM406.1 444.9h1.6v1.6h-1.6zM396.3 435.9h1.6v1.6h-1.6zM401.0 439.8h1.6v1.6h-1.6zM395.4 437.0h1.6v1.6h-1.6zM397.7 438.8h1.6v1.6h-1.6zM399.4 439.9h1.6v1.6h-1.6zM403.3 440.7h1.6v1.6h-1.6zM403.8 442.3h1.6v1.6h-1.6zM406.4 440.7h1.6v1.6h-1.6zM406.1 445.1h1.6v1.6h-1.6zM412.6 444.9h1.6v1.6h-1.6zM414.9 439.0h1.6v1.6h-1.6zM410.7 446.7h1.6v1.6h-1.6zM415.4 445.4h1.6v1.6h-1.6zM417.3 443.6h1.6v1.6h-1.6zM411.8 441.3h1.6v1.6h-1.6zM415.1 440.1h1.6v1.6h-1.6zM419.6 443.2h1.6v1.6h-1.6zM409.5 442.6h1.6v1.6h-1.6zM420.6 446.0h1.6v1.6h-1.6zM415.2 443.3h1.6v1.6h-1.6zM412.5 444.7h1.6v1.6h-1.6zM414.8 444.1h1.6v1.6h-1.6zM415.5 446.2h1.6v1.6h-1.6zM415.7 444.4h1.6v1.6h-1.6zM418.8 444.4h1.6v1.6h-1.6zM411.8 444.0h1.6v1.6h-1.6zM416.4 443.4h1.6v1.6h-1.6zM417.2 445.0h1.6v1.6h-1.6zM414.8 440.8h1.6v1.6h-1.6z" fill="#f1a38f"/>
<path d="M324.0 414.5h1.6v1.6h-1.6zM325.9 416.2h1.6v1.6h-1.6zM323.1 423.4h1.6v1.6h-1.6zM319.0 424.3h1.6v1.6h-1.6zM328.2 416.4h1.6v1.6h-1.6zM321.1 413.2h1.6v1.6h-1.6zM329.0 420.5h1.6v1.6h-1.6zM331.0 412.6h1.6v1.6h-1.6zM331.4 415.6h1.6v1.6h-1.6zM326.7 416.1h1.6v1.6h-1.6zM321.7 419.3h1.6v1.6h-1.6zM316.3 414.8h1.6v1.6h-1.6zM324.4 420.0h1.6v1.6h-1.6zM330.3 420.9h1.6v1.6h-1.6zM333.3 413.9h1.6v1.6h-1.6zM321.5 423.3h1.6v1.6h-1.6zM325.5 419.6h1.6v1.6h-1.6zM328.5 411.4h1.6v1.6h-1.6zM326.3 412.9h1.6v1.6h-1.6zM332.7 413.0h1.6v1.6h-1.6zM328.3 416.3h1.6v1.6h-1.6zM327.9 420.0h1.6v1.6h-1.6zM323.2 425.9h1.6v1.6h-1.6zM330.7 413.3h1.6v1.6h-1.6zM318.9 414.6h1.6v1.6h-1.6zM324.1 411.4h1.6v1.6h-1.6zM320.6 411.7h1.6v1.6h-1.6zM330.1 411.5h1.6v1.6h-1.6zM331.4 420.0h1.6v1.6h-1.6zM323.5 412.8h1.6v1.6h-1.6zM321.5 411.7h1.6v1.6h-1.6zM318.2 416.5h1.6v1.6h-1.6zM328.0 412.4h1.6v1.6h-1.6zM323.7 414.2h1.6v1.6h-1.6zM317.6 422.3h1.6v1.6h-1.6zM325.5 422.1h1.6v1.6h-1.6zM323.1 420.3h1.6v1.6h-1.6zM329.7 419.2h1.6v1.6h-1.6zM321.4 412.0h1.6v1.6h-1.6zM334.2 414.6h1.6v1.6h-1.6zM319.0 421.0h1.6v1.6h-1.6zM316.8 419.9h1.6v1.6h-1.6zM333.1 418.4h1.6v1.6h-1.6zM317.7 423.0h1.6v1.6h-1.6zM332.0 420.0h1.6v1.6h-1.6zM333.2 419.1h1.6v1.6h-1.6zM323.6 425.8h1.6v1.6h-1.6zM317.4 416.5h1.6v1.6h-1.6zM326.1 411.6h1.6v1.6h-1.6zM317.0 416.9h1.6v1.6h-1.6zM328.9 416.8h1.6v1.6h-1.6zM323.2 418.4h1.6v1.6h-1.6zM387.5 418.3h1.6v1.6h-1.6zM381.1 418.5h1.6v1.6h-1.6zM392.3 429.7h1.6v1.6h-1.6zM390.5 428.9h1.6v1.6h-1.6zM389.6 433.9h1.6v1.6h-1.6zM390.9 433.4h1.6v1.6h-1.6zM392.0 434.0h1.6v1.6h-1.6zM390.5 434.9h1.6v1.6h-1.6zM386.9 435.0h1.6v1.6h-1.6zM410.4 443.0h1.6v1.6h-1.6zM400.7 436.8h1.6v1.6h-1.6zM409.0 439.5h1.6v1.6h-1.6zM402.4 439.3h1.6v1.6h-1.6zM403.9 439.7h1.6v1.6h-1.6zM399.2 437.3h1.6v1.6h-1.6zM396.6 438.1h1.6v1.6h-1.6zM401.0 440.2h1.6v1.6h-1.6zM405.7 438.9h1.6v1.6h-1.6zM398.0 439.0h1.6v1.6h-1.6zM403.7 441.2h1.6v1.6h-1.6zM398.8 439.6h1.6v1.6h-1.6zM396.1 435.8h1.6v1.6h-1.6zM406.6 441.3h1.6v1.6h-1.6zM406.0 442.7h1.6v1.6h-1.6zM400.2 441.0h1.6v1.6h-1.6zM406.6 443.1h1.6v1.6h-1.6zM408.5 446.3h1.6v1.6h-1.6zM407.6 443.7h1.6v1.6h-1.6zM405.7 442.8h1.6v1.6h-1.6zM408.4 446.1h1.6v1.6h-1.6zM420.3 439.4h1.6v1.6h-1.6zM417.3 441.5h1.6v1.6h-1.6zM420.6 445.3h1.6v1.6h-1.6zM419.4 444.5h1.6v1.6h-1.6zM417.1 448.1h1.6v1.6h-1.6zM412.2 442.4h1.6v1.6h-1.6zM416.6 443.1h1.6v1.6h-1.6zM417.9 442.6h1.6v1.6h-1.6zM412.4 446.6h1.6v1.6h-1.6zM412.7 444.6h1.6v1.6h-1.6zM420.7 442.7h1.6v1.6h-1.6zM418.8 445.8h1.6v1.6h-1.6zM411.3 442.5h1.6v1.6h-1.6zM417.3 448.0h1.6v1.6h-1.6zM416.2 445.0h1.6v1.6h-1.6zM411.6 445.3h1.6v1.6h-1.6zM417.0 444.9h1.6v1.6h-1.6zM417.4 442.1h1.6v1.6h-1.6zM419.1 441.4h1.6v1.6h-1.6zM415.6 447.5h1.6v1.6h-1.6zM417.4 438.5h1.6v1.6h-1.6zM419.5 439.4h1.6v1.6h-1.6zM420.2 444.5h1.6v1.6h-1.6zM416.8 438.2h1.6v1.6h-1.6zM416.9 444.1h1.6v1.6h-1.6zM418.5 445.8h1.6v1.6h-1.6z" fill="#f6967e"/>
<path d="M329.4 423.0h1.6v1.6h-1.6zM329.1 420.1h1.6v1.6h-1.6zM322.8 421.1h1.6v1.6h-1.6zM330.0 422.4h1.6v1.6h-1.6zM330.8 413.5h1.6v1.6h-1.6zM328.5 423.3h1.6v1.6h-1.6zM325.4 414.4h1.6v1.6h-1.6zM328.3 420.3h1.6v1.6h-1.6zM320.5 425.3h1.6v1.6h-1.6zM328.3 412.2h1.6v1.6h-1.6zM328.0 419.8h1.6v1.6h-1.6zM328.4 413.0h1.6v1.6h-1.6zM320.2 415.4h1.6v1.6h-1.6zM328.2 418.4h1.6v1.6h-1.6zM323.6 417.0h1.6v1.6h-1.6zM320.3 424.0h1.6v1.6h-1.6zM320.8 422.9h1.6v1.6h-1.6zM330.4 421.3h1.6v1.6h-1.6zM317.3 421.5h1.6v1.6h-1.6zM316.6 413.1h1.6v1.6h-1.6zM332.3 417.7h1.6v1.6h-1.6zM333.3 419.1h1.6v1.6h-1.6zM319.7 411.3h1.6v1.6h-1.6zM325.3 425.1h1.6v1.6h-1.6zM328.4 417.6h1.6v1.6h-1.6zM333.9 413.2h1.6v1.6h-1.6zM320.8 417.3h1.6v1.6h-1.6zM321.9 411.5h1.6v1.6h-1.6zM333.4 414.2h1.6v1.6h-1.6zM332.6 415.8h1.6v1.6h-1.6zM330.7 422.1h1.6v1.6h-1.6zM321.1 423.9h1.6v1.6h-1.6zM331.5 419.7h1.6v1.6h-1.6zM331.2 414.6h1.6v1.6h-1.6zM323.9 413.0h1.6v1.6h-1.6zM332.9 418.6h1.6v1.6h-1.6zM322.1 411.1h1.6v1.6h-1.6zM322.0 416.9h1.6v1.6h-1.6zM330.0 421.6h1.6v1.6h-1.6zM317.3 416.5h1.6v1.6h-1.6zM330.4 415.7h1.6v1.6h-1.6zM323.7 413.6h1.6v1.6h-1.6zM334.4 415.6h1.6v1.6h-1.6zM327.3 420.5h1.6v1.6h-1.6zM327.9 421.2h1.6v1.6h-1.6zM329.9 422.5h1.6v1.6h-1.6zM323.3 418.1h1.6v1.6h-1.6zM321.7 416.2h1.6v1.6h-1.6zM317.0 415.1h1.6v1.6h-1.6zM317.5 418.4h1.6v1.6h-1.6zM315.8 414.8h1.6v1.6h-1.6zM324.1 424.9h1.6v1.6h-1.6zM318.6 423.4h1.6v1.6h-1.6zM391.0 435.1h1.6v1.6h-1.6zM394.3 433.1h1.6v1.6h-1.6zM391.8 434.0h1.6v1.6h-1.6zM388.5 433.1h1.6v1.6h-1.6zM390.3 435.1h1.6v1.6h-1.6zM390.6 435.5h1.6v1.6h-1.6zM406.9 443.7h1.6v1.6h-1.6zM410.2 445.8h1.6v1.6h-1.6zM399.8 439.5h1.6v1.6h-1.6zM407.1 440.3h1.6v1.6h-1.6zM409.9 444.8h1.6v1.6h-1.6zM400.9 441.7h1.6v1.6h-1.6zM399.7 440.5h1.6v1.6h-1.6zM395.7 436.4h1.6v1.6h-1.6zM395.5 435.0h1.6v1.6h-1.6zM400.4 436.7h1.6v1.6h-1.6zM411.1 444.7h1.6v1.6h-1.6zM397.9 437.0h1.6v1.6h-1.6zM403.2 441.5h1.6v1.6h-1.6zM403.7 437.4h1.6v1.6h-1.6zM398.9 437.2h1.6v1.6h-1.6zM401.4 441.7h1.6v1.6h-1.6zM411.2 443.0h1.6v1.6h-1.6zM403.6 440.1h1.6v1.6h-1.6zM406.5 441.0h1.6v1.6h-1.6zM395.6 436.0h1.6v1.6h-1.6zM415.4 440.8h1.6v1.6h-1.6zM418.1 446.9h1.6v1.6h-1.6zM414.2 443.6h1.6v1.6h-1.6zM414.6 441.2h1.6v1.6h-1.6zM415.0 446.6h1.6v1.6h-1.6zM418.1 446.3h1.6v1.6h-1.6zM413.3 442.4h1.6v1.6h-1.6zM415.1 439.6h1.6v1.6h-1.6zM409.2 445.4h1.6v1.6h-1.6zM416.2 444.5h1.6v1.6h-1.6zM415.1 442.5h1.6v1.6h-1.6zM418.4 444.3h1.6v1.6h-1.6zM410.5 446.0h1.6v1.6h-1.6zM419.1 446.2h1.6v1.6h-1.6zM413.8 439.1h1.6v1.6h-1.6zM415.1 446.3h1.6v1.6h-1.6zM413.2 440.5h1.6v1.6h-1.6zM412.1 443.3h1.6v1.6h-1.6zM419.6 445.7h1.6v1.6h-1.6zM413.6 439.0h1.6v1.6h-1.6z" fill="#f9896e"/>
<path d="M321.7 418.0h1.6v1.6h-1.6zM325.7 422.5h1.6v1.6h-1.6zM325.2 423.9h1.6v1.6h-1.6zM328.7 411.4h1.6v1.6h-1.6zM325.2 416.9h1.6v1.6h-1.6zM317.9 424.2h1.6v1.6h-1.6zM321.7 424.1h1.6v1.6h-1.6zM330.2 411.5h1.6v1.6h-1.6zM316.7 422.0h1.6v1.6h-1.6zM328.6 416.4h1.6v1.6h-1.6zM320.4 416.1h1.6v1.6h-1.6zM323.3 416.9h1.6v1.6h-1.6zM326.3 416.4h1.6v1.6h-1.6zM320.6 411.5h1.6v1.6h-1.6zM323.8 411.7h1.6v1.6h-1.6zM325.7 420.0h1.6v1.6h-1.6zM317.9 415.7h1.6v1.6h-1.6zM324.5 420.0h1.6v1.6h-1.6zM330.3 417.9h1.6v1.6h-1.6zM327.3 416.5h1.6v1.6h-1.6zM316.3 413.4h1.6v1.6h-1.6zM334.3 413.9h1.6v1.6h-1.6zM330.5 411.9h1.6v1.6h-1.6zM331.2 421.6h1.6v1.6h-1.6zM331.5 414.3h1.6v1.6h-1.6zM316.1 412.6h1.6v1.6h-1.6zM317.7 412.4h1.6v1.6h-1.6zM326.9 416.8h1.6v1.6h-1.6zM323.3 421.8h1.6v1.6h-1.6zM325.5 416.4h1.6v1.6h-1.6zM329.4 412.7h1.6v1.6h-1.6zM321.1 422.9h1.6v1.6h-1.6zM388.1 421.3h1.6v1.6h-1.6zM390.6 425.5h1.6v1.6h-1.6zM392.0 429.5h1.6v1.6h-1.6zM388.3 435.5h1.6v1.6h-1.6zM384.9 432.6h1.6v1.6h-1.6zM391.9 433.4h1.6v1.6h-1.6zM388.7 433.7h1.6v1.6h-1.6zM392.7 433.8h1.6v1.6h-1.6zM389.4 431.8h1.6v1.6h-1.6zM392.6 435.2h1.6v1.6h-1.6zM393.2 434.5h1.6v1.6h-1.6zM384.6 433.4h1.6v1.6h-1.6zM387.9 432.4h1.6v1.6h-1.6zM388.1 433.7h1.6v1.6h-1.6zM388.7 435.2h1.6v1.6h-1.6zM406.5 442.3h1.6v1.6h-1.6zM411.1 441.6h1.6v1.6h-1.6zM399.9 437.0h1.6v1.6h-1.6zM409.8 441.1h1.6v1.6h-1.6zM402.8 442.3h1.6v1.6h-1.6zM403.0 437.2h1.6v1.6h-1.6zM402.6 441.7h1.6v1.6h-1.6zM396.0 434.9h1.6v1.6h-1.6zM407.7 443.3h1.6v1.6h-1.6zM399.5 439.6h1.6v1.6h-1.6zM399.3 438.4h1.6v1.6h-1.6zM409.6 443.4h1.6v1.6h-1.6zM398.9 436.2h1.6v1.6h-1.6zM407.3 443.3h1.6v1.6h-1.6zM402.8 441.0h1.6v1.6h-1.6zM405.7 442.4h1.6v1.6h-1.6zM408.8 445.0h1.6v1.6h-1.6zM411.8 444.2h1.6v1.6h-1.6zM399.5 438.3h1.6v1.6h-1.6zM397.5 437.6h1.6v1.6h-1.6zM410.2 442.7h1.6v1.6h-1.6zM413.5 439.4h1.6v1.6h-1.6zM420.0 444.3h1.6v1.6h-1.6zM411.2 442.8h1.6v1.6h-1.6zM418.3 448.3h1.6v1.6h-1.6zM413.4 442.7h1.6v1.6h-1.6zM414.8 441.9h1.6v1.6h-1.6zM416.1 439.0h1.6v1.6h-1.6zM417.1 443.3h1.6v1.6h-1.6zM413.3 446.3h1.6v1.6h-1.6zM419.9 445.5h1.6v1.6h-1.6zM411.7 444.7h1.6v1.6h-1.6zM409.8 444.1h1.6v1.6h-1.6zM417.3 441.3h1.6v1.6h-1.6zM410.3 447.6h1.6v1.6h-1.6z" fill="#fc7b5d"/>
<path d="M316.2 418.7h1.6v1.6h-1.6zM317.4 415.1h1.6v1.6h-1.6zM322.8 424.4h1.6v1.6h-1.6zM323.4 417.7h1.6v1.6h-1.6zM324.8 415.4h1.6v1.6h-1.6zM321.2 425.9h1.6v1.6h-1.6zM325.2 416.5h1.6v1.6h-1.6zM325.0 425.5h1.6v1.6h-1.6zM333.8 418.5h1.6v1.6h-1.6zM318.7 413.3h1.6v1.6h-1.6zM325.3 415.3h1.6v1.6h-1.6zM330.8 422.3h1.6v1.6h-1.6zM332.8 414.3h1.6v1.6h-1.6zM319.7 415.3h1.6v1.6h-1.6zM323.3 412.3h1.6v1.6h-1.6zM324.5 416.6h1.6v1.6h-1.6zM327.7 424.1h1.6v1.6h-1.6zM321.9 415.0h1.6v1.6h-1.6zM318.8 412.2h1.6v1.6h-1.6zM316.8 414.0h1.6v1.6h-1.6zM329.7 422.7h1.6v1.6h-1.6zM323.7 423.3h1.6v1.6h-1.6zM318.7 419.1h1.6v1.6h-1.6zM387.6 422.6h1.6v1.6h-1.6zM388.3 433.6h1.6v1.6h-1.6zM393.2 434.7h1.6v1.6h-1.6zM391.2 433.2h1.6v1.6h-1.6zM391.6 434.5h1.6v1.6h-1.6zM392.5 435.2h1.6v1.6h-1.6zM390.8 432.7h1.6v1.6h-1.6zM384.3 433.2h1.6v1.6h-1.6zM394.4 435.7h1.6v1.6h-1.6zM388.2 431.8h1.6v1.6h-1.6zM391.4 435.6h1.6v1.6h-1.6zM407.8 438.9h1.6v1.6h-1.6zM396.5 437.5h1.6v1.6h-1.6zM405.5 441.4h1.6v1.6h-1.6zM403.1 440.8h1.6v1.6h-1.6zM405.6 442.2h1.6v1.6h-1.6zM400.4 437.2h1.6v1.6h-1.6zM410.7 439.4h1.6v1.6h-1.6zM402.7 441.0h1.6v1.6h-1.6zM414.7 448.1h1.6v1.6h-1.6zM412.7 446.6h1.6v1.6h-1.6zM409.5 442.9h1.6v1.6h-1.6zM418.4 442.1h1.6v1.6h-1.6zM418.0 442.7h1.6v1.6h-1.6zM419.9 439.9h1.6v1.6h-1.6zM420.6 441.4h1.6v1.6h-1.6z" fill="#fe6d4d"/>
<path d="M325.5 415.4h1.6v1.6h-1.6zM323.1 422.1h1.6v1.6h-1.6zM323.3 411.3h1.6v1.6h-1.6zM331.1 420.3h1.6v1.6h-1.6zM317.8 416.8h1.6v1.6h-1.6zM317.4 412.7h1.6v1.6h-1.6zM322.3 423.6h1.6v1.6h-1.6zM322.9 414.7h1.6v1.6h-1.6zM334.9 415.1h1.6v1.6h-1.6zM316.8 418.6h1.6v1.6h-1.6zM324.8 418.3h1.6v1.6h-1.6zM320.4 425.6h1.6v1.6h-1.6zM391.0 434.3h1.6v1.6h-1.6zM388.6 434.8h1.6v1.6h-1.6zM384.2 432.9h1.6v1.6h-1.6zM384.5 432.7h1.6v1.6h-1.6zM391.4 432.7h1.6v1.6h-1.6zM400.5 440.1h1.6v1.6h-1.6zM419.8 441.3h1.6v1.6h-1.6zM417.5 441.4h1.6v1.6h-1.6zM410.6 447.2h1.6v1.6h-1.6zM417.6 440.8h1.6v1.6h-1.6z" fill="#ff5d3d"/>
<path d="M326.7 423.6h1.6v1.6h-1.6zM409.4 440.2h1.6v1.6h-1.6zM407.6 440.0h1.6v1.6h-1.6zM420.1 442.5h1.6v1.6h-1.6zM417.4 443.1h1.6v1.6h-1.6zM416.5 445.8h1.6v1.6h-1.6zM419.2 438.8h1.6v1.6h-1.6z" fill="#ff4a2c"/>
</g>
<path d="M521.50,375.50V473.50H646.30" fill="none" stroke="#555" stroke-width="0.85"/>
<line x1="517.90" y1="380.40" x2="521.50" y2="380.40" stroke="#555" stroke-width="0.75"/>
<text x="513.10" y="383.10" font-size="9.0" text-anchor="end" >−11</text>
<line x1="517.90" y1="402.60" x2="521.50" y2="402.60" stroke="#555" stroke-width="0.75"/>
<text x="513.10" y="405.30" font-size="9.0" text-anchor="end" >−12</text>
<line x1="517.90" y1="424.75" x2="521.50" y2="424.75" stroke="#555" stroke-width="0.75"/>
<text x="513.10" y="427.45" font-size="9.0" text-anchor="end" >−13</text>
<line x1="517.90" y1="446.90" x2="521.50" y2="446.90" stroke="#555" stroke-width="0.75"/>
<text x="513.10" y="449.60" font-size="9.0" text-anchor="end" >−14</text>
<line x1="517.90" y1="469.10" x2="521.50" y2="469.10" stroke="#555" stroke-width="0.75"/>
<text x="513.10" y="471.80" font-size="9.0" text-anchor="end" >−15</text>
<line x1="527.30" y1="473.50" x2="527.30" y2="477.70" stroke="#555" stroke-width="0.75"/>
<text x="527.30" y="489.10" font-size="9.0" text-anchor="middle" >−6</text>
<line x1="555.50" y1="473.50" x2="555.50" y2="477.70" stroke="#555" stroke-width="0.75"/>
<text x="555.50" y="489.10" font-size="9.0" text-anchor="middle" >−4</text>
<line x1="583.70" y1="473.50" x2="583.70" y2="477.70" stroke="#555" stroke-width="0.75"/>
<text x="583.70" y="489.10" font-size="9.0" text-anchor="middle" >−2</text>
<line x1="612.20" y1="473.50" x2="612.20" y2="477.70" stroke="#555" stroke-width="0.75"/>
<text x="612.20" y="489.10" font-size="9.0" text-anchor="middle" >0</text>
<line x1="640.60" y1="473.50" x2="640.60" y2="477.70" stroke="#555" stroke-width="0.75"/>
<text x="640.60" y="489.10" font-size="9.0" text-anchor="middle" >2</text>
<text x="572.70" y="368.50" font-size="10.3" textLength="20.40" lengthAdjust="spacingAndGlyphs" >IRF7</text>
<text x="584.20" y="505.00" font-size="10.0" text-anchor="middle" >wnnUMAP_1</text>
<text transform="translate(492.30,424.40) rotate(-90)" text-anchor="middle" font-size="10" fill="#222">wnnUMAP_2</text>
<g transform="translate(0.0,158.0)">
<path d="M323.1 399.3h1.6v1.6h-1.6zM323.6 401.2h1.6v1.6h-1.6zM323.4 401.1h1.6v1.6h-1.6zM323.8 393.3h1.6v1.6h-1.6zM322.7 394.6h1.6v1.6h-1.6zM322.9 397.7h1.6v1.6h-1.6zM322.2 401.0h1.6v1.6h-1.6zM323.5 393.7h1.6v1.6h-1.6zM323.6 393.5h1.6v1.6h-1.6zM323.1 393.4h1.6v1.6h-1.6zM322.0 394.3h1.6v1.6h-1.6zM322.3 401.4h1.6v1.6h-1.6zM322.9 398.7h1.6v1.6h-1.6zM323.3 401.5h1.6v1.6h-1.6zM323.8 395.1h1.6v1.6h-1.6zM322.4 393.8h1.6v1.6h-1.6zM321.9 392.8h1.6v1.6h-1.6zM323.5 407.6h1.6v1.6h-1.6zM323.3 405.7h1.6v1.6h-1.6zM319.5 410.6h1.6v1.6h-1.6zM322.9 404.2h1.6v1.6h-1.6zM320.0 404.0h1.6v1.6h-1.6zM327.4 411.1h1.6v1.6h-1.6zM382.7 417.5h1.6v1.6h-1.6zM386.7 413.6h1.6v1.6h-1.6zM384.6 419.1h1.6v1.6h-1.6zM384.1 417.1h1.6v1.6h-1.6zM385.7 419.9h1.6v1.6h-1.6zM384.3 419.4h1.6v1.6h-1.6zM385.0 416.0h1.6v1.6h-1.6zM388.4 415.2h1.6v1.6h-1.6zM385.2 420.3h1.6v1.6h-1.6zM384.7 417.7h1.6v1.6h-1.6zM386.8 414.8h1.6v1.6h-1.6zM387.5 418.3h1.6v1.6h-1.6zM388.0 416.5h1.6v1.6h-1.6zM386.8 417.7h1.6v1.6h-1.6zM385.5 413.4h1.6v1.6h-1.6zM385.7 414.4h1.6v1.6h-1.6zM381.0 418.9h1.6v1.6h-1.6zM386.9 414.8h1.6v1.6h-1.6zM386.9 417.3h1.6v1.6h-1.6zM388.2 416.8h1.6v1.6h-1.6zM382.7 421.4h1.6v1.6h-1.6zM381.7 417.0h1.6v1.6h-1.6zM386.3 416.6h1.6v1.6h-1.6zM384.7 417.4h1.6v1.6h-1.6zM382.7 415.7h1.6v1.6h-1.6zM385.8 418.5h1.6v1.6h-1.6zM387.7 417.9h1.6v1.6h-1.6zM386.7 414.8h1.6v1.6h-1.6zM384.0 415.5h1.6v1.6h-1.6zM389.4 423.6h1.6v1.6h-1.6zM387.6 421.6h1.6v1.6h-1.6zM387.6 422.9h1.6v1.6h-1.6zM387.6 422.6h1.6v1.6h-1.6zM388.3 424.3h1.6v1.6h-1.6z" fill="#d3d3d3"/>
<path d="M322.0 401.2h1.6v1.6h-1.6zM322.3 398.0h1.6v1.6h-1.6zM329.0 406.7h1.6v1.6h-1.6zM322.9 406.7h1.6v1.6h-1.6zM330.3 410.6h1.6v1.6h-1.6zM328.7 409.9h1.6v1.6h-1.6zM320.2 405.6h1.6v1.6h-1.6zM325.7 405.3h1.6v1.6h-1.6zM383.0 416.6h1.6v1.6h-1.6zM383.6 417.4h1.6v1.6h-1.6zM382.3 416.7h1.6v1.6h-1.6zM382.8 419.8h1.6v1.6h-1.6zM383.8 418.3h1.6v1.6h-1.6zM387.5 417.0h1.6v1.6h-1.6zM386.6 418.2h1.6v1.6h-1.6zM384.4 418.5h1.6v1.6h-1.6zM381.1 418.5h1.6v1.6h-1.6zM384.1 418.3h1.6v1.6h-1.6zM386.0 414.0h1.6v1.6h-1.6zM388.2 417.6h1.6v1.6h-1.6zM386.1 416.3h1.6v1.6h-1.6zM388.1 414.8h1.6v1.6h-1.6zM387.0 415.5h1.6v1.6h-1.6zM381.4 418.4h1.6v1.6h-1.6zM383.8 418.4h1.6v1.6h-1.6zM386.6 416.2h1.6v1.6h-1.6zM388.1 417.2h1.6v1.6h-1.6zM392.3 429.7h1.6v1.6h-1.6zM389.3 423.0h1.6v1.6h-1.6zM390.2 425.7h1.6v1.6h-1.6zM390.9 427.7h1.6v1.6h-1.6zM390.5 428.9h1.6v1.6h-1.6zM390.6 425.5h1.6v1.6h-1.6zM384.6 433.4h1.6v1.6h-1.6zM388.1 433.7h1.6v1.6h-1.6zM407.6 440.0h1.6v1.6h-1.6z" fill="#ccc4d8"/>
<path d="M323.2 405.3h1.6v1.6h-1.6zM328.2 409.8h1.6v1.6h-1.6zM319.3 409.3h1.6v1.6h-1.6zM321.3 410.7h1.6v1.6h-1.6zM320.4 409.0h1.6v1.6h-1.6zM326.5 410.4h1.6v1.6h-1.6zM323.2 410.5h1.6v1.6h-1.6zM315.9 419.4h1.6v1.6h-1.6zM318.2 412.0h1.6v1.6h-1.6zM317.3 416.5h1.6v1.6h-1.6zM323.6 412.5h1.6v1.6h-1.6zM388.1 421.3h1.6v1.6h-1.6zM392.0 429.5h1.6v1.6h-1.6zM388.5 424.1h1.6v1.6h-1.6zM392.5 435.2h1.6v1.6h-1.6zM389.6 433.9h1.6v1.6h-1.6zM390.6 435.5h1.6v1.6h-1.6zM393.2 434.5h1.6v1.6h-1.6zM388.2 431.8h1.6v1.6h-1.6zM388.7 435.2h1.6v1.6h-1.6zM403.9 439.7h1.6v1.6h-1.6zM399.8 439.5h1.6v1.6h-1.6zM405.3 437.7h1.6v1.6h-1.6zM414.8 440.8h1.6v1.6h-1.6z" fill="#c4b4dc"/>
<path d="M321.5 409.0h1.6v1.6h-1.6zM325.4 409.2h1.6v1.6h-1.6zM316.2 418.7h1.6v1.6h-1.6zM329.1 420.1h1.6v1.6h-1.6zM331.8 414.7h1.6v1.6h-1.6zM328.5 411.4h1.6v1.6h-1.6zM330.4 421.3h1.6v1.6h-1.6zM319.7 411.3h1.6v1.6h-1.6zM330.7 413.3h1.6v1.6h-1.6zM324.5 416.6h1.6v1.6h-1.6zM323.6 425.8h1.6v1.6h-1.6zM328.8 411.3h1.6v1.6h-1.6zM394.3 433.1h1.6v1.6h-1.6zM388.3 435.5h1.6v1.6h-1.6zM391.6 434.5h1.6v1.6h-1.6zM384.9 432.6h1.6v1.6h-1.6zM394.6 435.5h1.6v1.6h-1.6zM392.0 434.0h1.6v1.6h-1.6zM391.9 433.4h1.6v1.6h-1.6zM396.5 437.5h1.6v1.6h-1.6zM396.1 435.8h1.6v1.6h-1.6zM406.1 444.9h1.6v1.6h-1.6zM403.1 440.8h1.6v1.6h-1.6zM403.7 437.4h1.6v1.6h-1.6zM398.9 437.2h1.6v1.6h-1.6zM407.4 442.9h1.6v1.6h-1.6zM411.6 443.6h1.6v1.6h-1.6zM395.6 436.0h1.6v1.6h-1.6zM411.2 442.8h1.6v1.6h-1.6zM416.5 445.8h1.6v1.6h-1.6z" fill="#bba5e0"/>
<path d="M318.9 411.5h1.6v1.6h-1.6zM324.0 414.5h1.6v1.6h-1.6zM325.0 417.5h1.6v1.6h-1.6zM324.7 421.2h1.6v1.6h-1.6zM322.1 413.6h1.6v1.6h-1.6zM332.6 417.5h1.6v1.6h-1.6zM328.4 413.0h1.6v1.6h-1.6zM324.8 415.4h1.6v1.6h-1.6zM326.7 416.1h1.6v1.6h-1.6zM316.3 414.8h1.6v1.6h-1.6zM330.3 420.9h1.6v1.6h-1.6zM321.7 424.1h1.6v1.6h-1.6zM333.1 414.3h1.6v1.6h-1.6zM317.8 416.8h1.6v1.6h-1.6zM322.3 423.6h1.6v1.6h-1.6zM316.6 413.1h1.6v1.6h-1.6zM318.7 413.3h1.6v1.6h-1.6zM320.4 418.5h1.6v1.6h-1.6zM323.1 415.8h1.6v1.6h-1.6zM323.8 411.7h1.6v1.6h-1.6zM324.7 423.9h1.6v1.6h-1.6zM331.5 419.7h1.6v1.6h-1.6zM326.7 423.6h1.6v1.6h-1.6zM330.5 411.9h1.6v1.6h-1.6zM327.9 421.2h1.6v1.6h-1.6zM316.8 418.6h1.6v1.6h-1.6zM320.3 422.0h1.6v1.6h-1.6zM316.6 417.5h1.6v1.6h-1.6zM319.4 417.7h1.6v1.6h-1.6zM391.0 435.1h1.6v1.6h-1.6zM391.2 433.2h1.6v1.6h-1.6zM391.0 434.3h1.6v1.6h-1.6zM390.3 435.1h1.6v1.6h-1.6zM388.6 434.8h1.6v1.6h-1.6zM384.2 432.9h1.6v1.6h-1.6zM388.7 433.7h1.6v1.6h-1.6zM390.5 434.9h1.6v1.6h-1.6zM384.5 432.7h1.6v1.6h-1.6zM386.9 435.0h1.6v1.6h-1.6zM391.4 435.6h1.6v1.6h-1.6zM409.0 439.5h1.6v1.6h-1.6zM409.8 441.1h1.6v1.6h-1.6zM405.5 441.4h1.6v1.6h-1.6zM407.1 440.3h1.6v1.6h-1.6zM408.1 443.2h1.6v1.6h-1.6zM403.0 437.2h1.6v1.6h-1.6zM402.6 441.7h1.6v1.6h-1.6zM402.9 437.3h1.6v1.6h-1.6zM395.7 436.4h1.6v1.6h-1.6zM395.5 435.0h1.6v1.6h-1.6zM397.9 437.0h1.6v1.6h-1.6zM401.6 441.1h1.6v1.6h-1.6zM411.7 440.0h1.6v1.6h-1.6zM401.8 437.7h1.6v1.6h-1.6zM400.2 441.0h1.6v1.6h-1.6zM405.6 442.2h1.6v1.6h-1.6zM400.4 437.2h1.6v1.6h-1.6zM402.8 441.0h1.6v1.6h-1.6zM410.7 439.4h1.6v1.6h-1.6zM405.7 442.8h1.6v1.6h-1.6zM404.3 442.4h1.6v1.6h-1.6zM406.1 445.1h1.6v1.6h-1.6zM403.3 437.8h1.6v1.6h-1.6zM408.4 446.1h1.6v1.6h-1.6zM412.7 446.6h1.6v1.6h-1.6zM418.1 446.3h1.6v1.6h-1.6zM417.7 440.2h1.6v1.6h-1.6zM416.2 445.0h1.6v1.6h-1.6zM419.1 446.2h1.6v1.6h-1.6zM416.2 441.1h1.6v1.6h-1.6zM419.2 438.8h1.6v1.6h-1.6z" fill="#b296e4"/>
<path d="M325.5 415.4h1.6v1.6h-1.6zM325.9 416.2h1.6v1.6h-1.6zM315.7 419.6h1.6v1.6h-1.6zM330.8 413.5h1.6v1.6h-1.6zM328.7 411.4h1.6v1.6h-1.6zM316.6 412.9h1.6v1.6h-1.6zM321.3 417.3h1.6v1.6h-1.6zM323.3 411.3h1.6v1.6h-1.6zM326.9 416.2h1.6v1.6h-1.6zM323.2 413.0h1.6v1.6h-1.6zM317.8 419.9h1.6v1.6h-1.6zM323.4 417.7h1.6v1.6h-1.6zM321.7 419.3h1.6v1.6h-1.6zM333.3 413.9h1.6v1.6h-1.6zM330.0 417.7h1.6v1.6h-1.6zM325.9 416.1h1.6v1.6h-1.6zM316.7 422.0h1.6v1.6h-1.6zM318.7 420.9h1.6v1.6h-1.6zM320.8 422.9h1.6v1.6h-1.6zM326.3 412.9h1.6v1.6h-1.6zM317.3 421.5h1.6v1.6h-1.6zM327.9 414.6h1.6v1.6h-1.6zM328.3 416.3h1.6v1.6h-1.6zM323.6 412.9h1.6v1.6h-1.6zM323.3 416.9h1.6v1.6h-1.6zM320.3 412.0h1.6v1.6h-1.6zM325.3 415.3h1.6v1.6h-1.6zM318.9 414.6h1.6v1.6h-1.6zM329.0 417.7h1.6v1.6h-1.6zM317.3 423.2h1.6v1.6h-1.6zM320.6 412.1h1.6v1.6h-1.6zM330.1 411.5h1.6v1.6h-1.6zM328.3 414.4h1.6v1.6h-1.6zM330.7 412.2h1.6v1.6h-1.6zM324.6 417.9h1.6v1.6h-1.6zM327.3 416.5h1.6v1.6h-1.6zM332.9 418.6h1.6v1.6h-1.6zM316.3 413.4h1.6v1.6h-1.6zM328.5 423.7h1.6v1.6h-1.6zM325.5 422.1h1.6v1.6h-1.6zM330.0 421.6h1.6v1.6h-1.6zM329.7 419.2h1.6v1.6h-1.6zM330.9 420.6h1.6v1.6h-1.6zM321.9 415.0h1.6v1.6h-1.6zM316.8 419.9h1.6v1.6h-1.6zM327.3 420.5h1.6v1.6h-1.6zM319.3 413.8h1.6v1.6h-1.6zM322.2 424.5h1.6v1.6h-1.6zM318.8 412.2h1.6v1.6h-1.6zM318.7 420.7h1.6v1.6h-1.6zM317.7 423.0h1.6v1.6h-1.6zM317.7 412.4h1.6v1.6h-1.6zM326.9 416.8h1.6v1.6h-1.6zM318.0 420.4h1.6v1.6h-1.6zM323.5 415.4h1.6v1.6h-1.6zM325.9 422.0h1.6v1.6h-1.6zM315.8 414.8h1.6v1.6h-1.6zM325.1 416.9h1.6v1.6h-1.6zM317.3 415.2h1.6v1.6h-1.6zM324.1 424.9h1.6v1.6h-1.6zM319.0 418.1h1.6v1.6h-1.6zM328.0 412.9h1.6v1.6h-1.6zM328.9 416.8h1.6v1.6h-1.6zM323.2 418.4h1.6v1.6h-1.6zM391.8 434.0h1.6v1.6h-1.6zM388.5 433.1h1.6v1.6h-1.6zM392.7 433.8h1.6v1.6h-1.6zM389.4 431.8h1.6v1.6h-1.6zM392.6 435.2h1.6v1.6h-1.6zM387.9 432.4h1.6v1.6h-1.6zM406.9 443.8h1.6v1.6h-1.6zM399.2 437.3h1.6v1.6h-1.6zM409.4 440.2h1.6v1.6h-1.6zM405.7 438.9h1.6v1.6h-1.6zM400.3 438.3h1.6v1.6h-1.6zM405.8 444.8h1.6v1.6h-1.6zM403.7 441.2h1.6v1.6h-1.6zM399.7 440.5h1.6v1.6h-1.6zM398.8 439.6h1.6v1.6h-1.6zM407.7 443.3h1.6v1.6h-1.6zM397.0 434.5h1.6v1.6h-1.6zM401.0 439.8h1.6v1.6h-1.6zM406.6 443.1h1.6v1.6h-1.6zM403.3 440.7h1.6v1.6h-1.6zM408.5 446.3h1.6v1.6h-1.6zM401.4 441.7h1.6v1.6h-1.6zM405.7 442.4h1.6v1.6h-1.6zM402.7 441.0h1.6v1.6h-1.6zM406.4 440.7h1.6v1.6h-1.6zM408.8 445.0h1.6v1.6h-1.6zM400.5 440.1h1.6v1.6h-1.6zM394.9 435.0h1.6v1.6h-1.6zM413.3 440.5h1.6v1.6h-1.6zM412.6 444.9h1.6v1.6h-1.6zM414.9 439.0h1.6v1.6h-1.6zM418.5 443.9h1.6v1.6h-1.6zM412.0 442.5h1.6v1.6h-1.6zM419.7 443.2h1.6v1.6h-1.6zM415.4 441.9h1.6v1.6h-1.6zM411.6 445.3h1.6v1.6h-1.6zM419.0 443.8h1.6v1.6h-1.6zM413.8 439.1h1.6v1.6h-1.6zM411.3 448.0h1.6v1.6h-1.6zM420.1 444.6h1.6v1.6h-1.6z" fill="#a886e8"/>
<path d="M317.7 417.7h1.6v1.6h-1.6zM321.7 418.0h1.6v1.6h-1.6zM323.9 413.1h1.6v1.6h-1.6zM317.4 415.1h1.6v1.6h-1.6zM323.1 422.1h1.6v1.6h-1.6zM325.2 423.9h1.6v1.6h-1.6zM330.0 422.4h1.6v1.6h-1.6zM331.8 420.1h1.6v1.6h-1.6zM316.1 413.3h1.6v1.6h-1.6zM320.1 421.8h1.6v1.6h-1.6zM325.2 416.9h1.6v1.6h-1.6zM328.3 420.3h1.6v1.6h-1.6zM320.5 425.3h1.6v1.6h-1.6zM315.5 417.3h1.6v1.6h-1.6zM317.9 424.2h1.6v1.6h-1.6zM328.2 416.4h1.6v1.6h-1.6zM320.2 415.4h1.6v1.6h-1.6zM328.0 414.9h1.6v1.6h-1.6zM318.0 420.8h1.6v1.6h-1.6zM321.2 425.9h1.6v1.6h-1.6zM328.2 418.4h1.6v1.6h-1.6zM331.0 412.6h1.6v1.6h-1.6zM331.4 415.6h1.6v1.6h-1.6zM325.0 425.5h1.6v1.6h-1.6zM323.6 417.0h1.6v1.6h-1.6zM321.5 423.3h1.6v1.6h-1.6zM318.7 420.2h1.6v1.6h-1.6zM318.6 420.6h1.6v1.6h-1.6zM317.0 411.6h1.6v1.6h-1.6zM324.5 415.8h1.6v1.6h-1.6zM327.1 420.8h1.6v1.6h-1.6zM320.4 416.7h1.6v1.6h-1.6zM332.7 413.0h1.6v1.6h-1.6zM328.6 416.4h1.6v1.6h-1.6zM320.4 416.1h1.6v1.6h-1.6zM331.0 417.1h1.6v1.6h-1.6zM325.3 425.1h1.6v1.6h-1.6zM328.4 417.6h1.6v1.6h-1.6zM325.2 412.3h1.6v1.6h-1.6zM318.9 415.4h1.6v1.6h-1.6zM323.2 425.9h1.6v1.6h-1.6zM317.5 411.9h1.6v1.6h-1.6zM320.8 417.3h1.6v1.6h-1.6zM332.8 414.3h1.6v1.6h-1.6zM317.9 415.7h1.6v1.6h-1.6zM332.6 415.8h1.6v1.6h-1.6zM324.5 420.0h1.6v1.6h-1.6zM323.3 412.3h1.6v1.6h-1.6zM324.3 415.8h1.6v1.6h-1.6zM331.2 419.7h1.6v1.6h-1.6zM323.5 412.8h1.6v1.6h-1.6zM321.0 421.6h1.6v1.6h-1.6zM318.2 416.5h1.6v1.6h-1.6zM326.6 413.5h1.6v1.6h-1.6zM318.0 415.8h1.6v1.6h-1.6zM332.5 417.5h1.6v1.6h-1.6zM321.3 414.0h1.6v1.6h-1.6zM331.2 414.6h1.6v1.6h-1.6zM317.6 422.3h1.6v1.6h-1.6zM332.2 415.9h1.6v1.6h-1.6zM322.1 411.1h1.6v1.6h-1.6zM323.1 420.3h1.6v1.6h-1.6zM321.4 412.0h1.6v1.6h-1.6zM327.6 423.0h1.6v1.6h-1.6zM330.4 415.7h1.6v1.6h-1.6zM331.2 421.6h1.6v1.6h-1.6zM323.7 413.6h1.6v1.6h-1.6zM334.0 414.1h1.6v1.6h-1.6zM331.5 414.3h1.6v1.6h-1.6zM321.4 420.5h1.6v1.6h-1.6zM329.9 422.5h1.6v1.6h-1.6zM333.1 418.4h1.6v1.6h-1.6zM316.8 414.0h1.6v1.6h-1.6zM329.7 422.7h1.6v1.6h-1.6zM325.5 416.4h1.6v1.6h-1.6zM332.0 420.0h1.6v1.6h-1.6zM317.5 418.4h1.6v1.6h-1.6zM317.4 416.5h1.6v1.6h-1.6zM326.3 411.6h1.6v1.6h-1.6zM324.8 418.3h1.6v1.6h-1.6zM326.1 411.6h1.6v1.6h-1.6zM324.6 420.3h1.6v1.6h-1.6zM318.6 423.4h1.6v1.6h-1.6zM325.3 415.3h1.6v1.6h-1.6zM329.4 412.7h1.6v1.6h-1.6zM321.1 422.9h1.6v1.6h-1.6zM318.7 419.1h1.6v1.6h-1.6zM317.4 412.5h1.6v1.6h-1.6zM320.5 419.9h1.6v1.6h-1.6zM388.3 433.6h1.6v1.6h-1.6zM393.2 434.7h1.6v1.6h-1.6zM384.3 433.2h1.6v1.6h-1.6zM394.4 435.7h1.6v1.6h-1.6zM391.4 432.7h1.6v1.6h-1.6zM406.5 442.3h1.6v1.6h-1.6zM410.4 443.0h1.6v1.6h-1.6zM400.7 436.8h1.6v1.6h-1.6zM402.4 439.3h1.6v1.6h-1.6zM407.8 438.9h1.6v1.6h-1.6zM396.6 438.1h1.6v1.6h-1.6zM406.9 439.6h1.6v1.6h-1.6zM395.9 436.5h1.6v1.6h-1.6zM401.0 440.2h1.6v1.6h-1.6zM402.8 442.3h1.6v1.6h-1.6zM397.7 437.9h1.6v1.6h-1.6zM398.0 439.0h1.6v1.6h-1.6zM400.9 441.7h1.6v1.6h-1.6zM396.0 434.9h1.6v1.6h-1.6zM399.5 439.6h1.6v1.6h-1.6zM396.3 435.9h1.6v1.6h-1.6zM397.7 438.8h1.6v1.6h-1.6zM403.8 442.3h1.6v1.6h-1.6zM411.2 443.0h1.6v1.6h-1.6zM403.6 440.1h1.6v1.6h-1.6zM399.5 438.3h1.6v1.6h-1.6zM397.5 437.6h1.6v1.6h-1.6zM420.3 439.4h1.6v1.6h-1.6zM414.2 443.6h1.6v1.6h-1.6zM415.4 445.4h1.6v1.6h-1.6zM419.6 443.2h1.6v1.6h-1.6zM420.0 444.3h1.6v1.6h-1.6zM409.5 442.6h1.6v1.6h-1.6zM411.5 440.4h1.6v1.6h-1.6zM420.0 441.1h1.6v1.6h-1.6zM418.3 448.3h1.6v1.6h-1.6zM409.5 442.9h1.6v1.6h-1.6zM411.7 445.0h1.6v1.6h-1.6zM412.7 444.6h1.6v1.6h-1.6zM417.4 443.1h1.6v1.6h-1.6zM420.7 442.7h1.6v1.6h-1.6zM416.7 444.4h1.6v1.6h-1.6zM417.5 441.4h1.6v1.6h-1.6zM413.4 442.7h1.6v1.6h-1.6zM414.8 441.9h1.6v1.6h-1.6zM415.7 444.4h1.6v1.6h-1.6zM418.8 444.4h1.6v1.6h-1.6zM418.0 442.7h1.6v1.6h-1.6zM416.4 443.4h1.6v1.6h-1.6zM417.1 443.3h1.6v1.6h-1.6zM419.1 441.4h1.6v1.6h-1.6zM417.4 442.6h1.6v1.6h-1.6zM412.1 443.3h1.6v1.6h-1.6zM416.2 443.7h1.6v1.6h-1.6zM416.9 444.1h1.6v1.6h-1.6zM413.6 439.0h1.6v1.6h-1.6z" fill="#9d77ec"/>
<path d="M333.0 412.8h1.6v1.6h-1.6zM328.7 423.5h1.6v1.6h-1.6zM318.6 424.4h1.6v1.6h-1.6zM323.1 423.4h1.6v1.6h-1.6zM329.4 423.0h1.6v1.6h-1.6zM321.4 418.6h1.6v1.6h-1.6zM322.8 421.1h1.6v1.6h-1.6zM326.3 419.3h1.6v1.6h-1.6zM319.0 424.3h1.6v1.6h-1.6zM325.4 414.4h1.6v1.6h-1.6zM328.3 412.2h1.6v1.6h-1.6zM328.0 419.8h1.6v1.6h-1.6zM321.5 418.4h1.6v1.6h-1.6zM329.0 420.5h1.6v1.6h-1.6zM325.2 416.5h1.6v1.6h-1.6zM324.4 420.0h1.6v1.6h-1.6zM325.5 419.6h1.6v1.6h-1.6zM320.3 424.0h1.6v1.6h-1.6zM330.2 411.5h1.6v1.6h-1.6zM330.4 412.9h1.6v1.6h-1.6zM328.0 418.6h1.6v1.6h-1.6zM321.0 419.6h1.6v1.6h-1.6zM317.4 412.7h1.6v1.6h-1.6zM332.3 417.7h1.6v1.6h-1.6zM333.3 419.1h1.6v1.6h-1.6zM327.9 420.0h1.6v1.6h-1.6zM320.8 415.2h1.6v1.6h-1.6zM318.0 421.5h1.6v1.6h-1.6zM330.8 422.3h1.6v1.6h-1.6zM326.3 416.4h1.6v1.6h-1.6zM321.9 411.5h1.6v1.6h-1.6zM323.9 419.3h1.6v1.6h-1.6zM317.8 419.5h1.6v1.6h-1.6zM333.4 414.2h1.6v1.6h-1.6zM321.9 418.0h1.6v1.6h-1.6zM330.7 422.1h1.6v1.6h-1.6zM321.5 411.7h1.6v1.6h-1.6zM316.2 420.0h1.6v1.6h-1.6zM323.7 414.2h1.6v1.6h-1.6zM323.9 413.0h1.6v1.6h-1.6zM334.3 413.9h1.6v1.6h-1.6zM319.4 417.0h1.6v1.6h-1.6zM322.0 416.9h1.6v1.6h-1.6zM334.9 415.1h1.6v1.6h-1.6zM334.2 414.6h1.6v1.6h-1.6zM329.9 419.7h1.6v1.6h-1.6zM319.0 421.0h1.6v1.6h-1.6zM324.4 419.3h1.6v1.6h-1.6zM317.3 417.2h1.6v1.6h-1.6zM323.3 421.8h1.6v1.6h-1.6zM321.7 412.6h1.6v1.6h-1.6zM320.5 421.5h1.6v1.6h-1.6zM317.0 415.1h1.6v1.6h-1.6zM331.5 416.5h1.6v1.6h-1.6zM323.7 423.3h1.6v1.6h-1.6zM324.3 415.1h1.6v1.6h-1.6zM317.0 416.9h1.6v1.6h-1.6zM323.3 423.3h1.6v1.6h-1.6zM390.9 433.4h1.6v1.6h-1.6zM390.8 432.7h1.6v1.6h-1.6zM406.9 443.7h1.6v1.6h-1.6zM411.1 441.6h1.6v1.6h-1.6zM400.9 436.2h1.6v1.6h-1.6zM409.9 444.8h1.6v1.6h-1.6zM400.4 436.7h1.6v1.6h-1.6zM410.9 440.9h1.6v1.6h-1.6zM409.6 443.4h1.6v1.6h-1.6zM398.9 436.2h1.6v1.6h-1.6zM406.6 441.3h1.6v1.6h-1.6zM406.0 442.7h1.6v1.6h-1.6zM403.2 441.5h1.6v1.6h-1.6zM395.4 437.0h1.6v1.6h-1.6zM399.4 439.9h1.6v1.6h-1.6zM403.6 440.5h1.6v1.6h-1.6zM407.6 443.7h1.6v1.6h-1.6zM415.4 440.8h1.6v1.6h-1.6zM418.1 446.9h1.6v1.6h-1.6zM415.1 440.1h1.6v1.6h-1.6zM419.4 444.5h1.6v1.6h-1.6zM415.0 446.6h1.6v1.6h-1.6zM420.6 446.0h1.6v1.6h-1.6zM417.1 448.1h1.6v1.6h-1.6zM412.2 442.4h1.6v1.6h-1.6zM417.9 442.6h1.6v1.6h-1.6zM413.3 442.4h1.6v1.6h-1.6zM412.4 446.6h1.6v1.6h-1.6zM411.3 442.5h1.6v1.6h-1.6zM409.2 445.4h1.6v1.6h-1.6zM412.5 447.8h1.6v1.6h-1.6zM410.6 447.2h1.6v1.6h-1.6zM415.1 442.5h1.6v1.6h-1.6zM418.4 444.3h1.6v1.6h-1.6zM410.5 446.0h1.6v1.6h-1.6zM418.4 442.1h1.6v1.6h-1.6zM410.5 446.4h1.6v1.6h-1.6zM417.0 444.9h1.6v1.6h-1.6zM414.0 440.7h1.6v1.6h-1.6zM417.4 442.1h1.6v1.6h-1.6zM413.4 445.5h1.6v1.6h-1.6zM417.2 445.0h1.6v1.6h-1.6zM417.4 438.5h1.6v1.6h-1.6zM419.5 439.4h1.6v1.6h-1.6zM415.1 446.3h1.6v1.6h-1.6zM419.9 445.5h1.6v1.6h-1.6zM420.9 444.4h1.6v1.6h-1.6zM417.3 441.3h1.6v1.6h-1.6zM418.8 444.3h1.6v1.6h-1.6z" fill="#9068ef"/>
<path d="M327.9 424.1h1.6v1.6h-1.6zM325.7 422.5h1.6v1.6h-1.6zM321.6 426.0h1.6v1.6h-1.6zM320.7 421.6h1.6v1.6h-1.6zM329.4 417.5h1.6v1.6h-1.6zM328.5 423.3h1.6v1.6h-1.6zM328.8 422.4h1.6v1.6h-1.6zM319.5 411.3h1.6v1.6h-1.6zM324.2 415.9h1.6v1.6h-1.6zM315.8 419.3h1.6v1.6h-1.6zM321.1 413.2h1.6v1.6h-1.6zM331.1 420.3h1.6v1.6h-1.6zM327.5 422.7h1.6v1.6h-1.6zM330.9 413.6h1.6v1.6h-1.6zM333.8 418.5h1.6v1.6h-1.6zM320.2 412.6h1.6v1.6h-1.6zM320.6 411.5h1.6v1.6h-1.6zM317.3 415.8h1.6v1.6h-1.6zM325.7 420.0h1.6v1.6h-1.6zM323.4 420.8h1.6v1.6h-1.6zM320.6 411.7h1.6v1.6h-1.6zM319.7 415.3h1.6v1.6h-1.6zM331.4 420.0h1.6v1.6h-1.6zM321.1 423.9h1.6v1.6h-1.6zM316.9 413.4h1.6v1.6h-1.6zM327.7 424.1h1.6v1.6h-1.6zM330.3 417.9h1.6v1.6h-1.6zM322.9 414.7h1.6v1.6h-1.6zM319.9 419.1h1.6v1.6h-1.6zM330.4 416.8h1.6v1.6h-1.6zM330.7 417.5h1.6v1.6h-1.6zM334.4 415.6h1.6v1.6h-1.6zM316.1 412.6h1.6v1.6h-1.6zM333.2 419.1h1.6v1.6h-1.6zM320.4 425.6h1.6v1.6h-1.6zM410.2 445.8h1.6v1.6h-1.6zM399.9 437.0h1.6v1.6h-1.6zM411.1 444.7h1.6v1.6h-1.6zM409.9 444.9h1.6v1.6h-1.6zM407.3 443.3h1.6v1.6h-1.6zM411.8 444.2h1.6v1.6h-1.6zM406.5 441.0h1.6v1.6h-1.6zM410.2 442.7h1.6v1.6h-1.6zM419.8 441.3h1.6v1.6h-1.6zM414.6 441.2h1.6v1.6h-1.6zM417.3 443.6h1.6v1.6h-1.6zM411.8 441.3h1.6v1.6h-1.6zM420.6 445.3h1.6v1.6h-1.6zM409.7 443.6h1.6v1.6h-1.6zM420.7 444.5h1.6v1.6h-1.6zM416.6 443.1h1.6v1.6h-1.6zM415.2 443.3h1.6v1.6h-1.6zM412.5 444.7h1.6v1.6h-1.6zM415.5 446.2h1.6v1.6h-1.6zM417.6 440.8h1.6v1.6h-1.6zM416.5 448.1h1.6v1.6h-1.6zM413.2 440.5h1.6v1.6h-1.6zM412.2 446.0h1.6v1.6h-1.6zM416.8 438.2h1.6v1.6h-1.6zM410.3 447.6h1.6v1.6h-1.6zM419.6 445.7h1.6v1.6h-1.6z" fill="#8258f3"/>
<path d="M322.8 424.4h1.6v1.6h-1.6zM321.6 425.6h1.6v1.6h-1.6zM324.2 413.3h1.6v1.6h-1.6zM333.9 413.2h1.6v1.6h-1.6zM329.9 421.6h1.6v1.6h-1.6zM324.1 411.4h1.6v1.6h-1.6zM319.2 418.9h1.6v1.6h-1.6zM328.0 412.4h1.6v1.6h-1.6zM325.6 425.0h1.6v1.6h-1.6zM326.2 420.2h1.6v1.6h-1.6zM317.6 413.8h1.6v1.6h-1.6zM323.3 418.1h1.6v1.6h-1.6zM399.3 438.4h1.6v1.6h-1.6zM420.1 442.5h1.6v1.6h-1.6zM414.7 448.1h1.6v1.6h-1.6zM417.3 441.5h1.6v1.6h-1.6zM412.5 445.8h1.6v1.6h-1.6zM413.2 441.6h1.6v1.6h-1.6zM413.4 441.1h1.6v1.6h-1.6zM417.3 448.0h1.6v1.6h-1.6zM418.1 441.4h1.6v1.6h-1.6zM417.1 440.7h1.6v1.6h-1.6zM416.1 439.0h1.6v1.6h-1.6zM411.8 444.0h1.6v1.6h-1.6zM413.3 446.3h1.6v1.6h-1.6zM415.6 447.5h1.6v1.6h-1.6zM420.6 441.4h1.6v1.6h-1.6zM420.2 444.5h1.6v1.6h-1.6zM418.5 445.8h1.6v1.6h-1.6z" fill="#7248f6"/>
<path d="M321.7 416.2h1.6v1.6h-1.6zM408.2 439.8h1.6v1.6h-1.6zM410.7 446.7h1.6v1.6h-1.6zM417.4 438.1h1.6v1.6h-1.6zM418.8 445.8h1.6v1.6h-1.6zM412.2 441.5h1.6v1.6h-1.6zM414.8 444.1h1.6v1.6h-1.6zM416.2 444.5h1.6v1.6h-1.6zM419.9 439.9h1.6v1.6h-1.6zM409.8 444.1h1.6v1.6h-1.6z" fill="#5e36f9"/>
<path d="M321.6 421.6h1.6v1.6h-1.6zM420.7 443.1h1.6v1.6h-1.6zM413.5 439.4h1.6v1.6h-1.6zM415.1 439.6h1.6v1.6h-1.6z" fill="#4322fc"/>
<path d="M413.3 439.2h1.6v1.6h-1.6zM411.7 444.7h1.6v1.6h-1.6z" fill="#0000ff"/>
</g>
<path d="M303.50,533.50V631.50H428.30" fill="none" stroke="#555" stroke-width="0.85"/>
<line x1="299.90" y1="538.40" x2="303.50" y2="538.40" stroke="#555" stroke-width="0.75"/>
<text x="295.10" y="541.10" font-size="9.0" text-anchor="end" >−11</text>
<line x1="299.90" y1="560.60" x2="303.50" y2="560.60" stroke="#555" stroke-width="0.75"/>
<text x="295.10" y="563.30" font-size="9.0" text-anchor="end" >−12</text>
<line x1="299.90" y1="582.75" x2="303.50" y2="582.75" stroke="#555" stroke-width="0.75"/>
<text x="295.10" y="585.45" font-size="9.0" text-anchor="end" >−13</text>
<line x1="299.90" y1="604.90" x2="303.50" y2="604.90" stroke="#555" stroke-width="0.75"/>
<text x="295.10" y="607.60" font-size="9.0" text-anchor="end" >−14</text>
<line x1="299.90" y1="627.10" x2="303.50" y2="627.10" stroke="#555" stroke-width="0.75"/>
<text x="295.10" y="629.80" font-size="9.0" text-anchor="end" >−15</text>
<line x1="309.30" y1="631.50" x2="309.30" y2="635.70" stroke="#555" stroke-width="0.75"/>
<text x="309.30" y="647.10" font-size="9.0" text-anchor="middle" >−6</text>
<line x1="337.50" y1="631.50" x2="337.50" y2="635.70" stroke="#555" stroke-width="0.75"/>
<text x="337.50" y="647.10" font-size="9.0" text-anchor="middle" >−4</text>
<line x1="365.70" y1="631.50" x2="365.70" y2="635.70" stroke="#555" stroke-width="0.75"/>
<text x="365.70" y="647.10" font-size="9.0" text-anchor="middle" >−2</text>
<line x1="394.20" y1="631.50" x2="394.20" y2="635.70" stroke="#555" stroke-width="0.75"/>
<text x="394.20" y="647.10" font-size="9.0" text-anchor="middle" >0</text>
<line x1="422.60" y1="631.50" x2="422.60" y2="635.70" stroke="#555" stroke-width="0.75"/>
<text x="422.60" y="647.10" font-size="9.0" text-anchor="middle" >2</text>
<text x="355.90" y="526.00" font-size="10.3" textLength="20.21" lengthAdjust="spacingAndGlyphs" >FOS</text>
<text x="366.20" y="663.00" font-size="10.0" text-anchor="middle" >wnnUMAP_1</text>
<text transform="translate(274.30,582.40) rotate(-90)" text-anchor="middle" font-size="10" fill="#222">wnnUMAP_2</text>
<g transform="translate(218.0,158.0)">
<path d="M323.4 401.1h1.6v1.6h-1.6zM323.8 393.3h1.6v1.6h-1.6zM323.5 393.7h1.6v1.6h-1.6zM323.1 393.4h1.6v1.6h-1.6zM322.3 401.4h1.6v1.6h-1.6zM322.9 398.7h1.6v1.6h-1.6zM323.3 401.5h1.6v1.6h-1.6zM323.8 395.1h1.6v1.6h-1.6zM322.9 406.7h1.6v1.6h-1.6zM321.5 409.0h1.6v1.6h-1.6zM320.4 409.0h1.6v1.6h-1.6zM319.5 410.6h1.6v1.6h-1.6zM326.5 410.4h1.6v1.6h-1.6zM325.7 422.5h1.6v1.6h-1.6zM325.5 415.4h1.6v1.6h-1.6zM321.4 418.6h1.6v1.6h-1.6zM317.8 419.9h1.6v1.6h-1.6zM328.0 414.9h1.6v1.6h-1.6zM317.8 416.8h1.6v1.6h-1.6zM320.4 418.5h1.6v1.6h-1.6zM321.6 421.6h1.6v1.6h-1.6zM329.0 417.7h1.6v1.6h-1.6zM317.5 411.9h1.6v1.6h-1.6zM321.5 411.7h1.6v1.6h-1.6zM331.5 419.7h1.6v1.6h-1.6zM322.9 414.7h1.6v1.6h-1.6zM327.6 423.0h1.6v1.6h-1.6zM331.2 421.6h1.6v1.6h-1.6zM330.9 420.6h1.6v1.6h-1.6zM334.2 414.6h1.6v1.6h-1.6zM318.0 420.4h1.6v1.6h-1.6zM320.5 419.9h1.6v1.6h-1.6zM420.2 444.5h1.6v1.6h-1.6z" fill="#d3d3d3"/>
<path d="M323.1 399.3h1.6v1.6h-1.6zM323.6 401.2h1.6v1.6h-1.6zM322.7 394.6h1.6v1.6h-1.6zM322.9 397.7h1.6v1.6h-1.6zM323.6 393.5h1.6v1.6h-1.6zM322.0 394.3h1.6v1.6h-1.6zM322.0 401.2h1.6v1.6h-1.6zM322.4 393.8h1.6v1.6h-1.6zM321.9 392.8h1.6v1.6h-1.6zM322.3 398.0h1.6v1.6h-1.6zM329.0 406.7h1.6v1.6h-1.6zM319.3 409.3h1.6v1.6h-1.6zM321.3 410.7h1.6v1.6h-1.6zM330.3 410.6h1.6v1.6h-1.6zM323.3 405.7h1.6v1.6h-1.6zM325.4 409.2h1.6v1.6h-1.6zM328.7 409.9h1.6v1.6h-1.6zM320.2 405.6h1.6v1.6h-1.6zM323.2 410.5h1.6v1.6h-1.6zM325.7 405.3h1.6v1.6h-1.6zM327.4 411.1h1.6v1.6h-1.6zM321.7 418.0h1.6v1.6h-1.6zM321.6 426.0h1.6v1.6h-1.6zM320.7 421.6h1.6v1.6h-1.6zM324.8 415.4h1.6v1.6h-1.6zM328.2 418.4h1.6v1.6h-1.6zM330.0 417.7h1.6v1.6h-1.6zM333.1 414.3h1.6v1.6h-1.6zM330.4 412.9h1.6v1.6h-1.6zM327.5 422.7h1.6v1.6h-1.6zM318.7 420.9h1.6v1.6h-1.6zM333.8 418.5h1.6v1.6h-1.6zM333.3 419.1h1.6v1.6h-1.6zM327.9 420.0h1.6v1.6h-1.6zM331.0 417.1h1.6v1.6h-1.6zM325.2 412.3h1.6v1.6h-1.6zM323.3 416.9h1.6v1.6h-1.6zM319.7 415.3h1.6v1.6h-1.6zM323.5 412.8h1.6v1.6h-1.6zM321.0 421.6h1.6v1.6h-1.6zM318.2 416.5h1.6v1.6h-1.6zM326.6 413.5h1.6v1.6h-1.6zM326.7 423.6h1.6v1.6h-1.6zM323.7 413.6h1.6v1.6h-1.6zM324.4 419.3h1.6v1.6h-1.6zM334.4 415.6h1.6v1.6h-1.6zM325.9 422.0h1.6v1.6h-1.6zM321.7 416.2h1.6v1.6h-1.6zM325.1 416.9h1.6v1.6h-1.6zM324.1 424.9h1.6v1.6h-1.6zM319.0 418.1h1.6v1.6h-1.6zM328.0 412.9h1.6v1.6h-1.6zM323.3 423.3h1.6v1.6h-1.6zM317.4 412.5h1.6v1.6h-1.6zM323.2 418.4h1.6v1.6h-1.6zM386.0 414.0h1.6v1.6h-1.6zM411.2 442.8h1.6v1.6h-1.6zM417.0 444.9h1.6v1.6h-1.6z" fill="#ccc4d8"/>
<path d="M322.2 401.0h1.6v1.6h-1.6zM323.2 405.3h1.6v1.6h-1.6zM322.9 404.2h1.6v1.6h-1.6zM318.9 411.5h1.6v1.6h-1.6zM325.0 417.5h1.6v1.6h-1.6zM325.2 423.9h1.6v1.6h-1.6zM326.3 419.3h1.6v1.6h-1.6zM319.0 424.3h1.6v1.6h-1.6zM328.8 422.4h1.6v1.6h-1.6zM322.1 413.6h1.6v1.6h-1.6zM325.2 416.9h1.6v1.6h-1.6zM326.9 416.2h1.6v1.6h-1.6zM328.0 419.8h1.6v1.6h-1.6zM320.2 415.4h1.6v1.6h-1.6zM329.0 420.5h1.6v1.6h-1.6zM326.7 416.1h1.6v1.6h-1.6zM325.2 416.5h1.6v1.6h-1.6zM331.1 420.3h1.6v1.6h-1.6zM330.3 420.9h1.6v1.6h-1.6zM321.7 424.1h1.6v1.6h-1.6zM321.5 423.3h1.6v1.6h-1.6zM316.7 422.0h1.6v1.6h-1.6zM322.3 423.6h1.6v1.6h-1.6zM328.3 416.3h1.6v1.6h-1.6zM323.6 412.9h1.6v1.6h-1.6zM325.3 425.1h1.6v1.6h-1.6zM320.3 412.0h1.6v1.6h-1.6zM324.1 411.4h1.6v1.6h-1.6zM326.3 416.4h1.6v1.6h-1.6zM319.2 418.9h1.6v1.6h-1.6zM323.9 419.3h1.6v1.6h-1.6zM332.8 414.3h1.6v1.6h-1.6zM318.2 412.0h1.6v1.6h-1.6zM324.5 420.0h1.6v1.6h-1.6zM323.3 412.3h1.6v1.6h-1.6zM330.7 422.1h1.6v1.6h-1.6zM328.3 414.4h1.6v1.6h-1.6zM324.6 417.9h1.6v1.6h-1.6zM328.0 412.4h1.6v1.6h-1.6zM316.2 420.0h1.6v1.6h-1.6zM325.6 425.0h1.6v1.6h-1.6zM327.3 416.5h1.6v1.6h-1.6zM322.0 416.9h1.6v1.6h-1.6zM325.5 422.1h1.6v1.6h-1.6zM334.0 414.1h1.6v1.6h-1.6zM316.1 412.6h1.6v1.6h-1.6zM327.3 420.5h1.6v1.6h-1.6zM319.3 413.8h1.6v1.6h-1.6zM320.3 422.0h1.6v1.6h-1.6zM318.8 412.2h1.6v1.6h-1.6zM318.7 420.7h1.6v1.6h-1.6zM316.8 414.0h1.6v1.6h-1.6zM323.5 415.4h1.6v1.6h-1.6zM332.0 420.0h1.6v1.6h-1.6zM333.2 419.1h1.6v1.6h-1.6zM317.0 415.1h1.6v1.6h-1.6zM323.6 425.8h1.6v1.6h-1.6zM317.3 415.2h1.6v1.6h-1.6zM318.6 423.4h1.6v1.6h-1.6zM329.4 412.7h1.6v1.6h-1.6zM317.0 416.9h1.6v1.6h-1.6zM318.7 419.1h1.6v1.6h-1.6zM384.6 419.1h1.6v1.6h-1.6zM386.6 418.2h1.6v1.6h-1.6zM382.7 421.4h1.6v1.6h-1.6zM388.2 417.6h1.6v1.6h-1.6zM382.7 415.7h1.6v1.6h-1.6zM397.9 437.0h1.6v1.6h-1.6zM415.1 440.1h1.6v1.6h-1.6zM418.8 445.8h1.6v1.6h-1.6zM418.0 442.7h1.6v1.6h-1.6z" fill="#c4b4dc"/>
<path d="M323.5 407.6h1.6v1.6h-1.6zM320.0 404.0h1.6v1.6h-1.6zM327.9 424.1h1.6v1.6h-1.6zM316.2 418.7h1.6v1.6h-1.6zM317.7 417.7h1.6v1.6h-1.6zM323.1 423.4h1.6v1.6h-1.6zM323.1 422.1h1.6v1.6h-1.6zM322.8 421.1h1.6v1.6h-1.6zM322.8 424.4h1.6v1.6h-1.6zM330.0 422.4h1.6v1.6h-1.6zM328.5 423.3h1.6v1.6h-1.6zM320.1 421.8h1.6v1.6h-1.6zM319.5 411.3h1.6v1.6h-1.6zM320.5 425.3h1.6v1.6h-1.6zM321.3 417.3h1.6v1.6h-1.6zM317.9 424.2h1.6v1.6h-1.6zM328.3 412.2h1.6v1.6h-1.6zM328.2 416.4h1.6v1.6h-1.6zM323.4 417.7h1.6v1.6h-1.6zM324.2 415.9h1.6v1.6h-1.6zM321.5 418.4h1.6v1.6h-1.6zM315.8 419.3h1.6v1.6h-1.6zM321.2 425.9h1.6v1.6h-1.6zM331.8 414.7h1.6v1.6h-1.6zM321.1 413.2h1.6v1.6h-1.6zM321.7 419.3h1.6v1.6h-1.6zM316.3 414.8h1.6v1.6h-1.6zM324.4 420.0h1.6v1.6h-1.6zM323.6 417.0h1.6v1.6h-1.6zM325.5 419.6h1.6v1.6h-1.6zM318.7 420.2h1.6v1.6h-1.6zM320.3 424.0h1.6v1.6h-1.6zM330.2 411.5h1.6v1.6h-1.6zM324.5 415.8h1.6v1.6h-1.6zM328.0 418.6h1.6v1.6h-1.6zM327.1 420.8h1.6v1.6h-1.6zM321.0 419.6h1.6v1.6h-1.6zM330.4 421.3h1.6v1.6h-1.6zM317.4 412.7h1.6v1.6h-1.6zM327.9 414.6h1.6v1.6h-1.6zM316.6 413.1h1.6v1.6h-1.6zM332.7 413.0h1.6v1.6h-1.6zM328.6 416.4h1.6v1.6h-1.6zM319.7 411.3h1.6v1.6h-1.6zM318.7 413.3h1.6v1.6h-1.6zM333.9 413.2h1.6v1.6h-1.6zM318.9 415.4h1.6v1.6h-1.6zM323.2 425.9h1.6v1.6h-1.6zM330.7 413.3h1.6v1.6h-1.6zM323.1 415.8h1.6v1.6h-1.6zM318.9 414.6h1.6v1.6h-1.6zM320.8 417.3h1.6v1.6h-1.6zM317.8 419.5h1.6v1.6h-1.6zM320.6 412.1h1.6v1.6h-1.6zM330.1 411.5h1.6v1.6h-1.6zM324.3 415.8h1.6v1.6h-1.6zM331.4 420.0h1.6v1.6h-1.6zM327.7 424.1h1.6v1.6h-1.6zM321.3 414.0h1.6v1.6h-1.6zM317.6 422.3h1.6v1.6h-1.6zM328.5 423.7h1.6v1.6h-1.6zM326.2 420.2h1.6v1.6h-1.6zM322.1 411.1h1.6v1.6h-1.6zM323.1 420.3h1.6v1.6h-1.6zM330.4 415.7h1.6v1.6h-1.6zM323.6 412.5h1.6v1.6h-1.6zM329.9 419.7h1.6v1.6h-1.6zM316.8 419.9h1.6v1.6h-1.6zM330.7 417.5h1.6v1.6h-1.6zM321.4 420.5h1.6v1.6h-1.6zM329.9 422.5h1.6v1.6h-1.6zM317.7 423.0h1.6v1.6h-1.6zM317.7 412.4h1.6v1.6h-1.6zM323.3 421.8h1.6v1.6h-1.6zM325.5 416.4h1.6v1.6h-1.6zM316.6 417.5h1.6v1.6h-1.6zM317.4 416.5h1.6v1.6h-1.6zM326.1 411.6h1.6v1.6h-1.6zM328.8 411.3h1.6v1.6h-1.6zM319.4 417.7h1.6v1.6h-1.6zM321.1 422.9h1.6v1.6h-1.6zM328.9 416.8h1.6v1.6h-1.6zM386.7 413.6h1.6v1.6h-1.6zM385.7 419.9h1.6v1.6h-1.6zM383.0 416.6h1.6v1.6h-1.6zM384.7 417.7h1.6v1.6h-1.6zM382.3 416.7h1.6v1.6h-1.6zM382.8 419.8h1.6v1.6h-1.6zM387.5 418.3h1.6v1.6h-1.6zM381.0 418.9h1.6v1.6h-1.6zM384.7 417.4h1.6v1.6h-1.6zM386.6 416.2h1.6v1.6h-1.6zM390.2 425.7h1.6v1.6h-1.6zM392.5 435.2h1.6v1.6h-1.6zM396.6 438.1h1.6v1.6h-1.6zM401.6 441.1h1.6v1.6h-1.6zM401.4 441.7h1.6v1.6h-1.6zM413.3 440.5h1.6v1.6h-1.6zM418.5 443.9h1.6v1.6h-1.6zM420.1 442.5h1.6v1.6h-1.6zM409.5 442.6h1.6v1.6h-1.6zM419.7 443.2h1.6v1.6h-1.6zM418.3 448.3h1.6v1.6h-1.6zM417.9 442.6h1.6v1.6h-1.6zM420.7 442.7h1.6v1.6h-1.6zM417.5 441.4h1.6v1.6h-1.6zM413.4 442.7h1.6v1.6h-1.6zM417.1 443.3h1.6v1.6h-1.6zM419.2 438.8h1.6v1.6h-1.6zM420.1 444.6h1.6v1.6h-1.6zM413.6 439.0h1.6v1.6h-1.6z" fill="#bba5e0"/>
<path d="M328.2 409.8h1.6v1.6h-1.6zM333.0 412.8h1.6v1.6h-1.6zM328.7 423.5h1.6v1.6h-1.6zM325.9 416.2h1.6v1.6h-1.6zM317.4 415.1h1.6v1.6h-1.6zM315.7 419.6h1.6v1.6h-1.6zM330.8 413.5h1.6v1.6h-1.6zM329.4 417.5h1.6v1.6h-1.6zM316.1 413.3h1.6v1.6h-1.6zM325.4 414.4h1.6v1.6h-1.6zM315.5 417.3h1.6v1.6h-1.6zM323.3 411.3h1.6v1.6h-1.6zM323.2 413.0h1.6v1.6h-1.6zM328.4 413.0h1.6v1.6h-1.6zM318.0 420.8h1.6v1.6h-1.6zM325.0 425.5h1.6v1.6h-1.6zM333.3 413.9h1.6v1.6h-1.6zM321.6 425.6h1.6v1.6h-1.6zM324.2 413.3h1.6v1.6h-1.6zM328.5 411.4h1.6v1.6h-1.6zM317.0 411.6h1.6v1.6h-1.6zM320.8 422.9h1.6v1.6h-1.6zM330.9 413.6h1.6v1.6h-1.6zM317.3 421.5h1.6v1.6h-1.6zM332.3 417.7h1.6v1.6h-1.6zM329.9 421.6h1.6v1.6h-1.6zM330.8 422.3h1.6v1.6h-1.6zM320.6 411.5h1.6v1.6h-1.6zM321.9 411.5h1.6v1.6h-1.6zM315.9 419.4h1.6v1.6h-1.6zM325.7 420.0h1.6v1.6h-1.6zM323.4 420.8h1.6v1.6h-1.6zM321.9 418.0h1.6v1.6h-1.6zM317.9 415.7h1.6v1.6h-1.6zM332.6 415.8h1.6v1.6h-1.6zM320.6 411.7h1.6v1.6h-1.6zM331.2 419.7h1.6v1.6h-1.6zM324.7 423.9h1.6v1.6h-1.6zM324.5 416.6h1.6v1.6h-1.6zM330.7 412.2h1.6v1.6h-1.6zM318.0 415.8h1.6v1.6h-1.6zM332.5 417.5h1.6v1.6h-1.6zM331.2 414.6h1.6v1.6h-1.6zM323.9 413.0h1.6v1.6h-1.6zM332.9 418.6h1.6v1.6h-1.6zM334.3 413.9h1.6v1.6h-1.6zM332.2 415.9h1.6v1.6h-1.6zM319.4 417.0h1.6v1.6h-1.6zM329.7 419.2h1.6v1.6h-1.6zM321.4 412.0h1.6v1.6h-1.6zM317.3 416.5h1.6v1.6h-1.6zM334.9 415.1h1.6v1.6h-1.6zM330.4 416.8h1.6v1.6h-1.6zM331.5 414.3h1.6v1.6h-1.6zM333.1 418.4h1.6v1.6h-1.6zM317.6 413.8h1.6v1.6h-1.6zM323.3 418.1h1.6v1.6h-1.6zM326.9 416.8h1.6v1.6h-1.6zM320.5 421.5h1.6v1.6h-1.6zM324.8 418.3h1.6v1.6h-1.6zM323.7 423.3h1.6v1.6h-1.6zM324.6 420.3h1.6v1.6h-1.6zM324.3 415.1h1.6v1.6h-1.6zM320.4 425.6h1.6v1.6h-1.6zM385.0 416.0h1.6v1.6h-1.6zM388.4 415.2h1.6v1.6h-1.6zM386.8 414.8h1.6v1.6h-1.6zM385.7 414.4h1.6v1.6h-1.6zM381.1 418.5h1.6v1.6h-1.6zM388.2 416.8h1.6v1.6h-1.6zM381.7 417.0h1.6v1.6h-1.6zM386.1 416.3h1.6v1.6h-1.6zM381.4 418.4h1.6v1.6h-1.6zM383.8 418.4h1.6v1.6h-1.6zM388.1 417.2h1.6v1.6h-1.6zM392.3 429.7h1.6v1.6h-1.6zM389.4 423.6h1.6v1.6h-1.6zM387.6 422.9h1.6v1.6h-1.6zM390.9 427.7h1.6v1.6h-1.6zM390.8 432.7h1.6v1.6h-1.6zM392.7 433.8h1.6v1.6h-1.6zM391.4 435.6h1.6v1.6h-1.6zM401.0 440.2h1.6v1.6h-1.6zM405.8 444.8h1.6v1.6h-1.6zM407.6 440.0h1.6v1.6h-1.6zM406.6 441.3h1.6v1.6h-1.6zM400.2 441.0h1.6v1.6h-1.6zM408.8 445.0h1.6v1.6h-1.6zM415.4 440.8h1.6v1.6h-1.6zM412.7 446.6h1.6v1.6h-1.6zM412.0 442.5h1.6v1.6h-1.6zM417.3 443.6h1.6v1.6h-1.6zM411.8 441.3h1.6v1.6h-1.6zM420.0 441.1h1.6v1.6h-1.6zM415.4 441.9h1.6v1.6h-1.6zM418.1 446.3h1.6v1.6h-1.6zM416.6 443.1h1.6v1.6h-1.6zM415.1 439.6h1.6v1.6h-1.6zM411.3 442.5h1.6v1.6h-1.6zM417.3 448.0h1.6v1.6h-1.6zM417.7 440.2h1.6v1.6h-1.6zM417.1 440.7h1.6v1.6h-1.6zM416.1 439.0h1.6v1.6h-1.6zM418.4 442.1h1.6v1.6h-1.6zM416.2 441.1h1.6v1.6h-1.6zM416.5 448.1h1.6v1.6h-1.6zM419.9 439.9h1.6v1.6h-1.6zM420.6 441.4h1.6v1.6h-1.6zM413.8 439.1h1.6v1.6h-1.6zM409.8 444.1h1.6v1.6h-1.6zM416.2 443.7h1.6v1.6h-1.6zM416.9 444.1h1.6v1.6h-1.6z" fill="#b296e4"/>
<path d="M323.9 413.1h1.6v1.6h-1.6zM329.1 420.1h1.6v1.6h-1.6zM331.8 420.1h1.6v1.6h-1.6zM324.7 421.2h1.6v1.6h-1.6zM328.7 411.4h1.6v1.6h-1.6zM316.6 412.9h1.6v1.6h-1.6zM328.3 420.3h1.6v1.6h-1.6zM331.0 412.6h1.6v1.6h-1.6zM331.4 415.6h1.6v1.6h-1.6zM326.3 412.9h1.6v1.6h-1.6zM320.2 412.6h1.6v1.6h-1.6zM328.4 417.6h1.6v1.6h-1.6zM325.3 415.3h1.6v1.6h-1.6zM317.3 415.8h1.6v1.6h-1.6zM333.4 414.2h1.6v1.6h-1.6zM321.1 423.9h1.6v1.6h-1.6zM316.9 413.4h1.6v1.6h-1.6zM330.3 417.9h1.6v1.6h-1.6zM323.7 414.2h1.6v1.6h-1.6zM316.3 413.4h1.6v1.6h-1.6zM330.0 421.6h1.6v1.6h-1.6zM319.9 419.1h1.6v1.6h-1.6zM321.9 415.0h1.6v1.6h-1.6zM319.0 421.0h1.6v1.6h-1.6zM327.9 421.2h1.6v1.6h-1.6zM322.2 424.5h1.6v1.6h-1.6zM321.7 412.6h1.6v1.6h-1.6zM317.5 418.4h1.6v1.6h-1.6zM315.8 414.8h1.6v1.6h-1.6zM326.3 411.6h1.6v1.6h-1.6zM325.3 415.3h1.6v1.6h-1.6zM384.1 417.1h1.6v1.6h-1.6zM384.3 419.4h1.6v1.6h-1.6zM385.2 420.3h1.6v1.6h-1.6zM388.0 416.5h1.6v1.6h-1.6zM387.5 417.0h1.6v1.6h-1.6zM386.3 416.6h1.6v1.6h-1.6zM388.1 414.8h1.6v1.6h-1.6zM385.8 418.5h1.6v1.6h-1.6zM387.6 422.6h1.6v1.6h-1.6zM390.5 428.9h1.6v1.6h-1.6zM388.3 433.6h1.6v1.6h-1.6zM389.6 433.9h1.6v1.6h-1.6zM390.5 434.9h1.6v1.6h-1.6zM410.2 445.8h1.6v1.6h-1.6zM400.7 436.8h1.6v1.6h-1.6zM411.1 441.6h1.6v1.6h-1.6zM403.9 439.7h1.6v1.6h-1.6zM399.2 437.3h1.6v1.6h-1.6zM400.9 436.2h1.6v1.6h-1.6zM395.9 436.5h1.6v1.6h-1.6zM409.4 440.2h1.6v1.6h-1.6zM402.9 437.3h1.6v1.6h-1.6zM395.7 436.4h1.6v1.6h-1.6zM396.1 435.8h1.6v1.6h-1.6zM409.9 444.9h1.6v1.6h-1.6zM410.9 440.9h1.6v1.6h-1.6zM405.3 437.7h1.6v1.6h-1.6zM400.4 437.2h1.6v1.6h-1.6zM397.7 438.8h1.6v1.6h-1.6zM398.9 437.2h1.6v1.6h-1.6zM406.4 440.7h1.6v1.6h-1.6zM404.3 442.4h1.6v1.6h-1.6zM410.2 442.7h1.6v1.6h-1.6zM414.6 441.2h1.6v1.6h-1.6zM420.6 445.3h1.6v1.6h-1.6zM409.7 443.6h1.6v1.6h-1.6zM417.1 448.1h1.6v1.6h-1.6zM420.7 444.5h1.6v1.6h-1.6zM412.7 444.6h1.6v1.6h-1.6zM416.7 444.4h1.6v1.6h-1.6zM416.2 445.0h1.6v1.6h-1.6zM412.5 447.8h1.6v1.6h-1.6zM412.5 444.7h1.6v1.6h-1.6zM413.3 439.2h1.6v1.6h-1.6zM411.8 444.0h1.6v1.6h-1.6zM415.1 446.3h1.6v1.6h-1.6zM411.7 444.7h1.6v1.6h-1.6zM418.5 445.8h1.6v1.6h-1.6zM414.8 440.8h1.6v1.6h-1.6z" fill="#a886e8"/>
<path d="M324.0 414.5h1.6v1.6h-1.6zM318.6 424.4h1.6v1.6h-1.6zM329.4 423.0h1.6v1.6h-1.6zM332.6 417.5h1.6v1.6h-1.6zM325.9 416.1h1.6v1.6h-1.6zM318.6 420.6h1.6v1.6h-1.6zM320.4 416.1h1.6v1.6h-1.6zM323.8 411.7h1.6v1.6h-1.6zM317.3 423.2h1.6v1.6h-1.6zM316.8 418.6h1.6v1.6h-1.6zM329.7 422.7h1.6v1.6h-1.6zM317.3 417.2h1.6v1.6h-1.6zM382.7 417.5h1.6v1.6h-1.6zM383.6 417.4h1.6v1.6h-1.6zM383.8 418.3h1.6v1.6h-1.6zM386.8 417.7h1.6v1.6h-1.6zM385.5 413.4h1.6v1.6h-1.6zM386.9 414.8h1.6v1.6h-1.6zM386.9 417.3h1.6v1.6h-1.6zM384.1 418.3h1.6v1.6h-1.6zM387.0 415.5h1.6v1.6h-1.6zM387.7 417.9h1.6v1.6h-1.6zM386.7 414.8h1.6v1.6h-1.6zM389.3 423.0h1.6v1.6h-1.6zM387.6 421.6h1.6v1.6h-1.6zM390.6 425.5h1.6v1.6h-1.6zM388.5 424.1h1.6v1.6h-1.6zM391.0 435.1h1.6v1.6h-1.6zM391.2 433.2h1.6v1.6h-1.6zM384.9 432.6h1.6v1.6h-1.6zM390.3 435.1h1.6v1.6h-1.6zM388.7 433.7h1.6v1.6h-1.6zM393.2 434.5h1.6v1.6h-1.6zM384.3 433.2h1.6v1.6h-1.6zM386.9 435.0h1.6v1.6h-1.6zM391.4 432.7h1.6v1.6h-1.6zM388.1 433.7h1.6v1.6h-1.6zM388.2 431.8h1.6v1.6h-1.6zM388.7 435.2h1.6v1.6h-1.6zM410.4 443.0h1.6v1.6h-1.6zM408.2 439.8h1.6v1.6h-1.6zM396.5 437.5h1.6v1.6h-1.6zM400.3 438.3h1.6v1.6h-1.6zM397.7 437.9h1.6v1.6h-1.6zM409.9 444.8h1.6v1.6h-1.6zM403.0 437.2h1.6v1.6h-1.6zM402.6 441.7h1.6v1.6h-1.6zM400.4 436.7h1.6v1.6h-1.6zM396.0 434.9h1.6v1.6h-1.6zM397.0 434.5h1.6v1.6h-1.6zM409.6 443.4h1.6v1.6h-1.6zM396.3 435.9h1.6v1.6h-1.6zM405.6 442.2h1.6v1.6h-1.6zM403.2 441.5h1.6v1.6h-1.6zM399.4 439.9h1.6v1.6h-1.6zM406.6 443.1h1.6v1.6h-1.6zM403.3 440.7h1.6v1.6h-1.6zM405.7 442.4h1.6v1.6h-1.6zM403.6 440.5h1.6v1.6h-1.6zM402.7 441.0h1.6v1.6h-1.6zM403.6 440.1h1.6v1.6h-1.6zM403.3 437.8h1.6v1.6h-1.6zM408.4 446.1h1.6v1.6h-1.6zM414.9 439.0h1.6v1.6h-1.6zM410.7 446.7h1.6v1.6h-1.6zM418.1 446.9h1.6v1.6h-1.6zM414.2 443.6h1.6v1.6h-1.6zM420.7 443.1h1.6v1.6h-1.6zM417.3 441.5h1.6v1.6h-1.6zM419.6 443.2h1.6v1.6h-1.6zM420.6 446.0h1.6v1.6h-1.6zM417.4 438.1h1.6v1.6h-1.6zM413.2 441.6h1.6v1.6h-1.6zM413.3 442.4h1.6v1.6h-1.6zM411.7 445.0h1.6v1.6h-1.6zM415.2 443.3h1.6v1.6h-1.6zM417.4 443.1h1.6v1.6h-1.6zM410.6 447.2h1.6v1.6h-1.6zM412.2 441.5h1.6v1.6h-1.6zM416.2 444.5h1.6v1.6h-1.6zM419.1 446.2h1.6v1.6h-1.6zM417.6 440.8h1.6v1.6h-1.6zM416.4 443.4h1.6v1.6h-1.6zM414.0 440.7h1.6v1.6h-1.6zM417.4 442.1h1.6v1.6h-1.6zM419.1 441.4h1.6v1.6h-1.6zM413.2 440.5h1.6v1.6h-1.6zM411.3 448.0h1.6v1.6h-1.6zM420.9 444.4h1.6v1.6h-1.6zM417.3 441.3h1.6v1.6h-1.6zM410.3 447.6h1.6v1.6h-1.6z" fill="#9d77ec"/>
<path d="M320.4 416.7h1.6v1.6h-1.6zM320.8 415.2h1.6v1.6h-1.6zM318.0 421.5h1.6v1.6h-1.6zM330.5 411.9h1.6v1.6h-1.6zM331.5 416.5h1.6v1.6h-1.6zM384.4 418.5h1.6v1.6h-1.6zM384.0 415.5h1.6v1.6h-1.6zM388.1 421.3h1.6v1.6h-1.6zM388.3 424.3h1.6v1.6h-1.6zM394.3 433.1h1.6v1.6h-1.6zM388.3 435.5h1.6v1.6h-1.6zM391.8 434.0h1.6v1.6h-1.6zM388.5 433.1h1.6v1.6h-1.6zM391.9 433.4h1.6v1.6h-1.6zM384.2 432.9h1.6v1.6h-1.6zM384.6 433.4h1.6v1.6h-1.6zM387.9 432.4h1.6v1.6h-1.6zM394.4 435.7h1.6v1.6h-1.6zM406.5 442.3h1.6v1.6h-1.6zM409.0 439.5h1.6v1.6h-1.6zM407.8 438.9h1.6v1.6h-1.6zM399.9 437.0h1.6v1.6h-1.6zM402.8 442.3h1.6v1.6h-1.6zM405.7 438.9h1.6v1.6h-1.6zM408.1 443.2h1.6v1.6h-1.6zM400.9 441.7h1.6v1.6h-1.6zM407.7 443.3h1.6v1.6h-1.6zM399.5 439.6h1.6v1.6h-1.6zM411.7 440.0h1.6v1.6h-1.6zM401.8 437.7h1.6v1.6h-1.6zM406.1 444.9h1.6v1.6h-1.6zM398.9 436.2h1.6v1.6h-1.6zM406.0 442.7h1.6v1.6h-1.6zM410.7 439.4h1.6v1.6h-1.6zM408.5 446.3h1.6v1.6h-1.6zM411.2 443.0h1.6v1.6h-1.6zM406.1 445.1h1.6v1.6h-1.6zM406.5 441.0h1.6v1.6h-1.6zM394.9 435.0h1.6v1.6h-1.6zM419.8 441.3h1.6v1.6h-1.6zM420.3 439.4h1.6v1.6h-1.6zM413.5 439.4h1.6v1.6h-1.6zM420.0 444.3h1.6v1.6h-1.6zM413.4 441.1h1.6v1.6h-1.6zM409.2 445.4h1.6v1.6h-1.6zM418.4 444.3h1.6v1.6h-1.6zM410.5 446.0h1.6v1.6h-1.6zM410.5 446.4h1.6v1.6h-1.6zM418.8 444.4h1.6v1.6h-1.6zM417.4 442.6h1.6v1.6h-1.6zM415.6 447.5h1.6v1.6h-1.6zM419.0 443.8h1.6v1.6h-1.6zM417.2 445.0h1.6v1.6h-1.6zM419.9 445.5h1.6v1.6h-1.6zM419.6 445.7h1.6v1.6h-1.6z" fill="#9068ef"/>
<path d="M393.2 434.7h1.6v1.6h-1.6zM391.0 434.3h1.6v1.6h-1.6zM389.4 431.8h1.6v1.6h-1.6zM406.9 443.7h1.6v1.6h-1.6zM406.9 443.8h1.6v1.6h-1.6zM402.4 439.3h1.6v1.6h-1.6zM405.5 441.4h1.6v1.6h-1.6zM407.1 440.3h1.6v1.6h-1.6zM398.0 439.0h1.6v1.6h-1.6zM403.7 441.2h1.6v1.6h-1.6zM398.8 439.6h1.6v1.6h-1.6zM395.5 435.0h1.6v1.6h-1.6zM407.3 443.3h1.6v1.6h-1.6zM403.1 440.8h1.6v1.6h-1.6zM401.0 439.8h1.6v1.6h-1.6zM402.8 441.0h1.6v1.6h-1.6zM395.4 437.0h1.6v1.6h-1.6zM407.4 442.9h1.6v1.6h-1.6zM407.6 443.7h1.6v1.6h-1.6zM405.7 442.8h1.6v1.6h-1.6zM411.6 443.6h1.6v1.6h-1.6zM399.5 438.3h1.6v1.6h-1.6zM412.6 444.9h1.6v1.6h-1.6zM419.4 444.5h1.6v1.6h-1.6zM415.0 446.6h1.6v1.6h-1.6zM409.5 442.9h1.6v1.6h-1.6zM418.1 441.4h1.6v1.6h-1.6zM415.1 442.5h1.6v1.6h-1.6zM415.7 444.4h1.6v1.6h-1.6zM411.6 445.3h1.6v1.6h-1.6zM413.4 445.5h1.6v1.6h-1.6zM419.5 439.4h1.6v1.6h-1.6zM412.2 446.0h1.6v1.6h-1.6zM418.8 444.3h1.6v1.6h-1.6z" fill="#8258f3"/>
<path d="M392.0 429.5h1.6v1.6h-1.6zM391.6 434.5h1.6v1.6h-1.6zM394.6 435.5h1.6v1.6h-1.6zM392.0 434.0h1.6v1.6h-1.6zM388.6 434.8h1.6v1.6h-1.6zM392.6 435.2h1.6v1.6h-1.6zM390.6 435.5h1.6v1.6h-1.6zM384.5 432.7h1.6v1.6h-1.6zM399.8 439.5h1.6v1.6h-1.6zM406.9 439.6h1.6v1.6h-1.6zM409.8 441.1h1.6v1.6h-1.6zM399.7 440.5h1.6v1.6h-1.6zM411.1 444.7h1.6v1.6h-1.6zM403.7 437.4h1.6v1.6h-1.6zM403.8 442.3h1.6v1.6h-1.6zM411.8 444.2h1.6v1.6h-1.6zM400.5 440.1h1.6v1.6h-1.6zM395.6 436.0h1.6v1.6h-1.6zM397.5 437.6h1.6v1.6h-1.6zM411.5 440.4h1.6v1.6h-1.6zM412.4 446.6h1.6v1.6h-1.6zM416.5 445.8h1.6v1.6h-1.6zM414.8 441.9h1.6v1.6h-1.6z" fill="#7248f6"/>
<path d="M414.7 448.1h1.6v1.6h-1.6zM415.4 445.4h1.6v1.6h-1.6zM412.5 445.8h1.6v1.6h-1.6zM414.8 444.1h1.6v1.6h-1.6zM415.5 446.2h1.6v1.6h-1.6zM413.3 446.3h1.6v1.6h-1.6zM416.8 438.2h1.6v1.6h-1.6zM412.1 443.3h1.6v1.6h-1.6z" fill="#5e36f9"/>
<path d="M399.3 438.4h1.6v1.6h-1.6zM412.2 442.4h1.6v1.6h-1.6zM417.4 438.5h1.6v1.6h-1.6z" fill="#4322fc"/>
<path d="M390.9 433.4h1.6v1.6h-1.6z" fill="#0000ff"/>
</g>
<path d="M521.50,533.50V631.50H646.30" fill="none" stroke="#555" stroke-width="0.85"/>
<line x1="517.90" y1="538.40" x2="521.50" y2="538.40" stroke="#555" stroke-width="0.75"/>
<text x="513.10" y="541.10" font-size="9.0" text-anchor="end" >−11</text>
<line x1="517.90" y1="560.60" x2="521.50" y2="560.60" stroke="#555" stroke-width="0.75"/>
<text x="513.10" y="563.30" font-size="9.0" text-anchor="end" >−12</text>
<line x1="517.90" y1="582.75" x2="521.50" y2="582.75" stroke="#555" stroke-width="0.75"/>
<text x="513.10" y="585.45" font-size="9.0" text-anchor="end" >−13</text>
<line x1="517.90" y1="604.90" x2="521.50" y2="604.90" stroke="#555" stroke-width="0.75"/>
<text x="513.10" y="607.60" font-size="9.0" text-anchor="end" >−14</text>
<line x1="517.90" y1="627.10" x2="521.50" y2="627.10" stroke="#555" stroke-width="0.75"/>
<text x="513.10" y="629.80" font-size="9.0" text-anchor="end" >−15</text>
<line x1="527.30" y1="631.50" x2="527.30" y2="635.70" stroke="#555" stroke-width="0.75"/>
<text x="527.30" y="647.10" font-size="9.0" text-anchor="middle" >−6</text>
<line x1="555.50" y1="631.50" x2="555.50" y2="635.70" stroke="#555" stroke-width="0.75"/>
<text x="555.50" y="647.10" font-size="9.0" text-anchor="middle" >−4</text>
<line x1="583.70" y1="631.50" x2="583.70" y2="635.70" stroke="#555" stroke-width="0.75"/>
<text x="583.70" y="647.10" font-size="9.0" text-anchor="middle" >−2</text>
<line x1="612.20" y1="631.50" x2="612.20" y2="635.70" stroke="#555" stroke-width="0.75"/>
<text x="612.20" y="647.10" font-size="9.0" text-anchor="middle" >0</text>
<line x1="640.60" y1="631.50" x2="640.60" y2="635.70" stroke="#555" stroke-width="0.75"/>
<text x="640.60" y="647.10" font-size="9.0" text-anchor="middle" >2</text>
<text x="570.80" y="526.10" font-size="10.3" textLength="24.11" lengthAdjust="spacingAndGlyphs" >RFX2</text>
<text x="584.20" y="663.00" font-size="10.0" text-anchor="middle" >wnnUMAP_1</text>
<text transform="translate(492.30,582.40) rotate(-90)" text-anchor="middle" font-size="10" fill="#222">wnnUMAP_2</text>
<defs><linearGradient id="cb5" x1="0" y1="0" x2="0" y2="1"><stop offset="0.000" stop-color="#ff0000"/><stop offset="0.125" stop-color="#ff3f23"/><stop offset="0.250" stop-color="#ff5d3d"/><stop offset="0.375" stop-color="#fd7455"/><stop offset="0.500" stop-color="#f9896e"/><stop offset="0.625" stop-color="#f49d86"/><stop offset="0.750" stop-color="#ecaf9f"/><stop offset="0.875" stop-color="#e1c1b9"/><stop offset="1.000" stop-color="#d3d3d3"/></linearGradient></defs>
<rect x="438.00" y="397.70" width="10.8" height="53.90" fill="url(#cb5)"/>
<line x1="438.00" y1="411.40" x2="440.00" y2="411.40" stroke="#fff" stroke-width="0.6"/>
<line x1="446.80" y1="411.40" x2="448.80" y2="411.40" stroke="#fff" stroke-width="0.6"/>
<text x="453.50" y="414.50" font-size="8.6" >6</text>
<line x1="438.00" y1="427.30" x2="440.00" y2="427.30" stroke="#fff" stroke-width="0.6"/>
<line x1="446.80" y1="427.30" x2="448.80" y2="427.30" stroke="#fff" stroke-width="0.6"/>
<text x="453.50" y="430.40" font-size="8.6" >4</text>
<line x1="438.00" y1="443.10" x2="440.00" y2="443.10" stroke="#fff" stroke-width="0.6"/>
<line x1="446.80" y1="443.10" x2="448.80" y2="443.10" stroke="#fff" stroke-width="0.6"/>
<text x="453.50" y="446.20" font-size="8.6" >2</text>
<defs><linearGradient id="cb6" x1="0" y1="0" x2="0" y2="1"><stop offset="0.000" stop-color="#ff0000"/><stop offset="0.125" stop-color="#ff3f23"/><stop offset="0.250" stop-color="#ff5d3d"/><stop offset="0.375" stop-color="#fd7455"/><stop offset="0.500" stop-color="#f9896e"/><stop offset="0.625" stop-color="#f49d86"/><stop offset="0.750" stop-color="#ecaf9f"/><stop offset="0.875" stop-color="#e1c1b9"/><stop offset="1.000" stop-color="#d3d3d3"/></linearGradient></defs>
<rect x="656.00" y="397.70" width="10.8" height="53.90" fill="url(#cb6)"/>
<line x1="656.00" y1="405.50" x2="658.00" y2="405.50" stroke="#fff" stroke-width="0.6"/>
<line x1="664.80" y1="405.50" x2="666.80" y2="405.50" stroke="#fff" stroke-width="0.6"/>
<text x="671.50" y="408.60" font-size="8.6" >6</text>
<line x1="656.00" y1="414.50" x2="658.00" y2="414.50" stroke="#fff" stroke-width="0.6"/>
<line x1="664.80" y1="414.50" x2="666.80" y2="414.50" stroke="#fff" stroke-width="0.6"/>
<text x="671.50" y="417.60" font-size="8.6" >5</text>
<line x1="656.00" y1="423.30" x2="658.00" y2="423.30" stroke="#fff" stroke-width="0.6"/>
<line x1="664.80" y1="423.30" x2="666.80" y2="423.30" stroke="#fff" stroke-width="0.6"/>
<text x="671.50" y="426.40" font-size="8.6" >4</text>
<line x1="656.00" y1="432.10" x2="658.00" y2="432.10" stroke="#fff" stroke-width="0.6"/>
<line x1="664.80" y1="432.10" x2="666.80" y2="432.10" stroke="#fff" stroke-width="0.6"/>
<text x="671.50" y="435.20" font-size="8.6" >3</text>
<line x1="656.00" y1="440.80" x2="658.00" y2="440.80" stroke="#fff" stroke-width="0.6"/>
<line x1="664.80" y1="440.80" x2="666.80" y2="440.80" stroke="#fff" stroke-width="0.6"/>
<text x="671.50" y="443.90" font-size="8.6" >2</text>
<line x1="656.00" y1="449.60" x2="658.00" y2="449.60" stroke="#fff" stroke-width="0.6"/>
<line x1="664.80" y1="449.60" x2="666.80" y2="449.60" stroke="#fff" stroke-width="0.6"/>
<text x="671.50" y="452.70" font-size="8.6" >1</text>
<defs><linearGradient id="cb7" x1="0" y1="0" x2="0" y2="1"><stop offset="0.000" stop-color="#0000ff"/><stop offset="0.125" stop-color="#522dfb"/><stop offset="0.250" stop-color="#7248f6"/><stop offset="0.375" stop-color="#8a60f1"/><stop offset="0.500" stop-color="#9d77ec"/><stop offset="0.625" stop-color="#ad8ee6"/><stop offset="0.750" stop-color="#bba5e0"/><stop offset="0.875" stop-color="#c8bcda"/><stop offset="1.000" stop-color="#d3d3d3"/></linearGradient></defs>
<rect x="438.00" y="555.70" width="10.8" height="53.90" fill="url(#cb7)"/>
<line x1="438.00" y1="575.50" x2="440.00" y2="575.50" stroke="#fff" stroke-width="0.6"/>
<line x1="446.80" y1="575.50" x2="448.80" y2="575.50" stroke="#fff" stroke-width="0.6"/>
<text x="453.50" y="578.60" font-size="8.6" >10</text>
<line x1="438.00" y1="596.20" x2="440.00" y2="596.20" stroke="#fff" stroke-width="0.6"/>
<line x1="446.80" y1="596.20" x2="448.80" y2="596.20" stroke="#fff" stroke-width="0.6"/>
<text x="453.50" y="599.30" font-size="8.6" >5</text>
<defs><linearGradient id="cb8" x1="0" y1="0" x2="0" y2="1"><stop offset="0.000" stop-color="#0000ff"/><stop offset="0.125" stop-color="#522dfb"/><stop offset="0.250" stop-color="#7248f6"/><stop offset="0.375" stop-color="#8a60f1"/><stop offset="0.500" stop-color="#9d77ec"/><stop offset="0.625" stop-color="#ad8ee6"/><stop offset="0.750" stop-color="#bba5e0"/><stop offset="0.875" stop-color="#c8bcda"/><stop offset="1.000" stop-color="#d3d3d3"/></linearGradient></defs>
<rect x="656.00" y="555.70" width="10.8" height="53.90" fill="url(#cb8)"/>
<line x1="656.00" y1="563.70" x2="658.00" y2="563.70" stroke="#fff" stroke-width="0.6"/>
<line x1="664.80" y1="563.70" x2="666.80" y2="563.70" stroke="#fff" stroke-width="0.6"/>
<text x="671.50" y="566.80" font-size="8.6" >3</text>
<line x1="656.00" y1="580.50" x2="658.00" y2="580.50" stroke="#fff" stroke-width="0.6"/>
<line x1="664.80" y1="580.50" x2="666.80" y2="580.50" stroke="#fff" stroke-width="0.6"/>
<text x="671.50" y="583.60" font-size="8.6" >2</text>
<line x1="656.00" y1="597.20" x2="658.00" y2="597.20" stroke="#fff" stroke-width="0.6"/>
<line x1="664.80" y1="597.20" x2="666.80" y2="597.20" stroke="#fff" stroke-width="0.6"/>
<text x="671.50" y="600.30" font-size="8.6" >1</text></svg></body></html>
